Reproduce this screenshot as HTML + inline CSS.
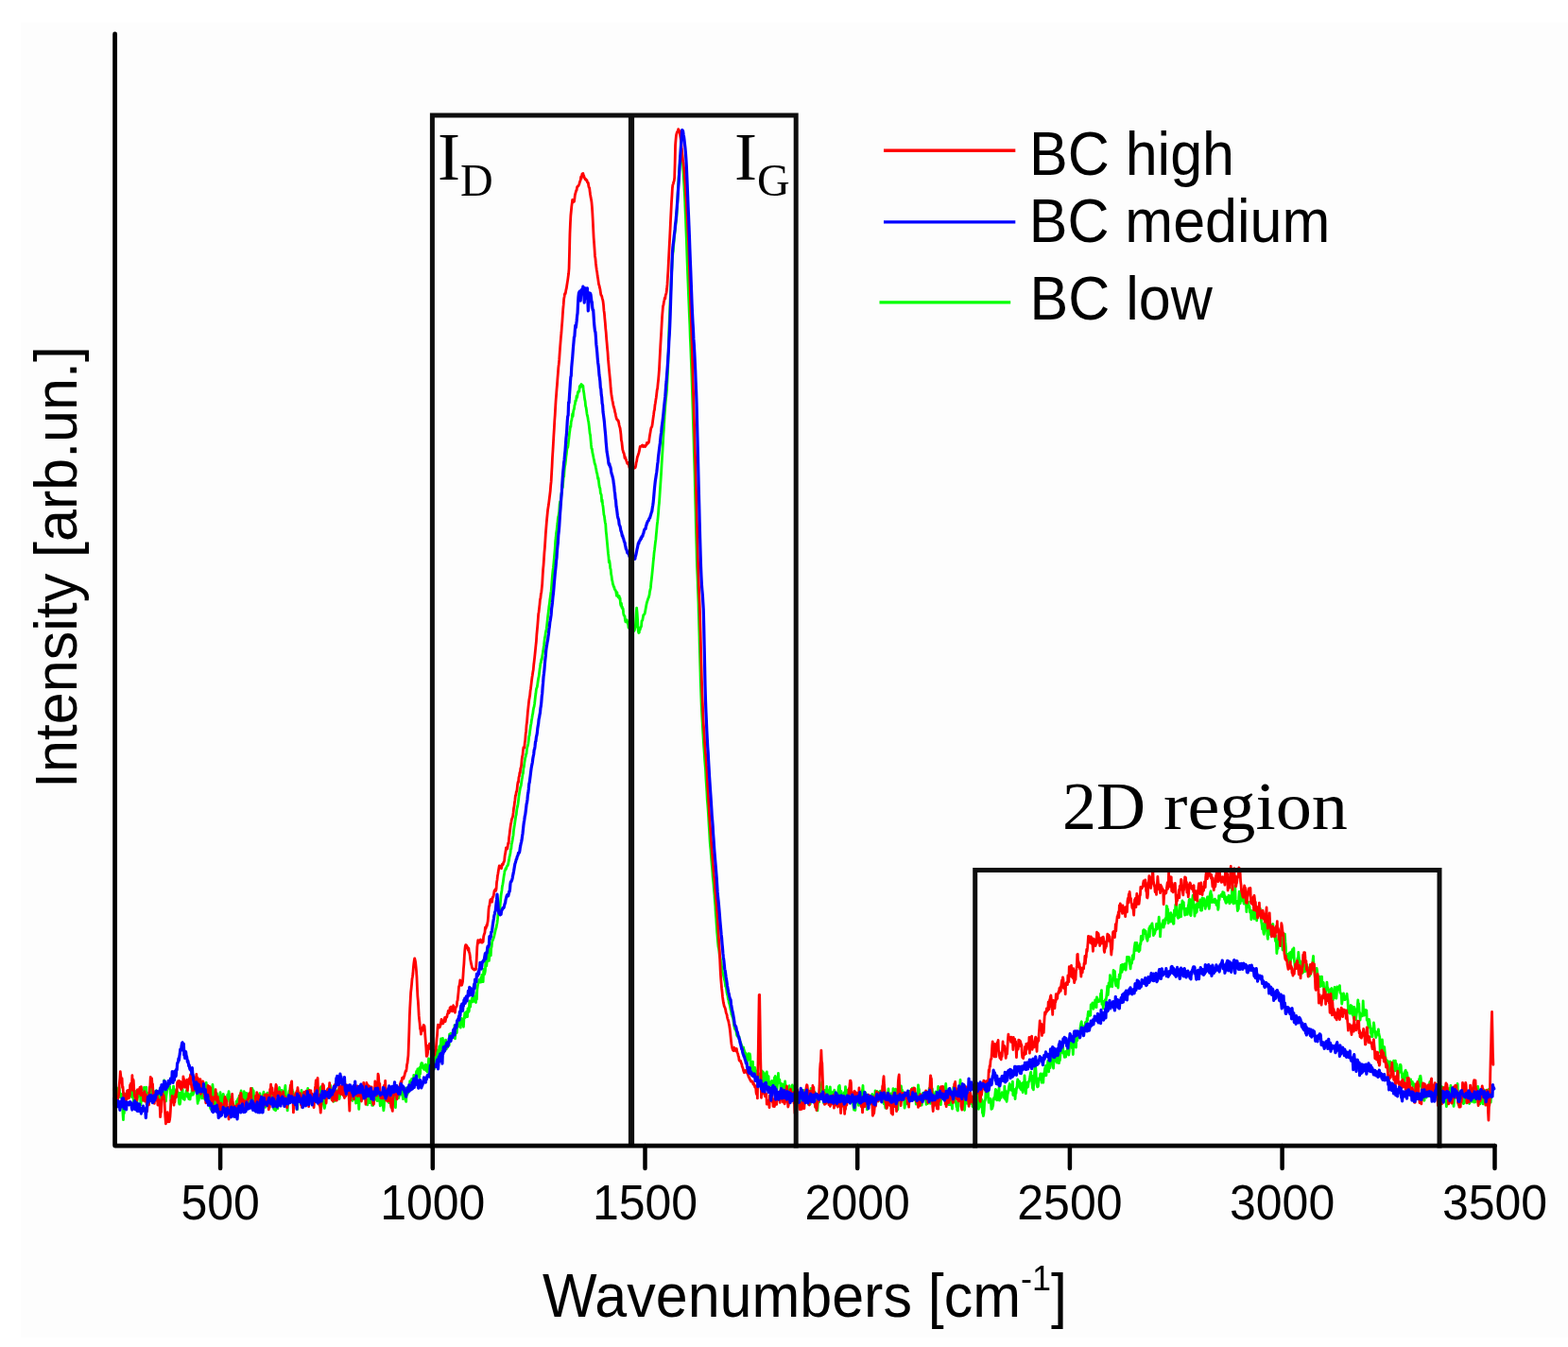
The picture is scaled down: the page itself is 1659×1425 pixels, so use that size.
<!DOCTYPE html>
<html><head><meta charset="utf-8"><title>Raman spectra</title><style>
html,body{margin:0;padding:0;background:#fff;}
body{width:1659px;height:1425px;overflow:hidden;position:relative;}
svg{position:absolute;left:0;top:0;display:block;}
</style></head><body>
<svg width="1659" height="1425" viewBox="0 0 1659 1425">
<rect x="0" y="0" width="1659" height="1425" fill="#ffffff"/>
<rect x="22" y="24" width="1637" height="1391" fill="#fdfdfd"/>
<g fill="none" stroke-linejoin="round" stroke-linecap="round">
<path d="M121.00 1168.1 L121.45 1164.1 L121.90 1161.1 L122.35 1159.3 L122.80 1163.4 L123.25 1156.5 L123.70 1151.5 L124.15 1158.8 L124.60 1154.4 L125.05 1161.0 L125.50 1152.6 L125.95 1150.2 L126.40 1152.2 L126.85 1160.5 L127.30 1157.8 L127.75 1157.5 L128.20 1158.0 L128.65 1157.5 L129.10 1161.4 L129.55 1167.9 L130.00 1178.3 L130.45 1184.7 L130.90 1168.4 L131.35 1177.8 L131.80 1164.5 L132.25 1165.5 L132.70 1157.7 L133.15 1160.3 L133.60 1158.9 L134.05 1158.6 L134.50 1161.0 L134.95 1160.3 L135.40 1154.4 L135.85 1156.7 L136.30 1158.8 L136.75 1158.0 L137.20 1153.8 L137.65 1153.2 L138.10 1152.9 L138.55 1149.5 L139.00 1149.8 L139.45 1160.5 L139.90 1154.7 L140.35 1157.6 L140.80 1156.0 L141.25 1164.2 L141.70 1166.5 L142.15 1158.6 L142.60 1159.9 L143.05 1154.4 L143.50 1163.7 L143.95 1162.7 L144.40 1158.4 L144.85 1166.9 L145.30 1162.1 L145.75 1160.4 L146.20 1158.4 L146.65 1154.2 L147.10 1155.0 L147.55 1159.2 L148.00 1157.3 L148.45 1156.6 L148.90 1169.0 L149.35 1163.8 L149.80 1163.2 L150.25 1161.2 L150.70 1164.3 L151.15 1163.7 L151.60 1159.6 L152.05 1160.1 L152.50 1150.4 L152.95 1153.3 L153.40 1153.5 L153.85 1155.6 L154.30 1157.8 L154.75 1150.2 L155.20 1168.8 L155.65 1156.4 L156.10 1161.9 L156.55 1165.7 L157.00 1167.9 L157.45 1168.0 L157.90 1155.7 L158.35 1158.5 L158.80 1161.3 L159.25 1152.6 L159.70 1152.1 L160.15 1147.8 L160.60 1159.9 L161.05 1158.6 L161.50 1155.8 L161.95 1160.3 L162.40 1162.3 L162.85 1155.9 L163.30 1155.9 L163.75 1154.7 L164.20 1154.5 L164.65 1157.8 L165.10 1154.6 L165.55 1153.8 L166.00 1158.5 L166.45 1156.8 L166.90 1156.5 L167.35 1165.7 L167.80 1160.0 L168.25 1161.3 L168.70 1162.6 L169.15 1155.9 L169.60 1161.1 L170.05 1159.7 L170.50 1157.4 L170.95 1160.0 L171.40 1157.0 L171.85 1153.0 L172.30 1156.2 L172.75 1148.6 L173.20 1149.2 L173.65 1143.0 L174.10 1146.3 L174.55 1154.2 L175.00 1164.6 L175.45 1164.9 L175.90 1159.2 L176.35 1156.3 L176.80 1150.8 L177.25 1150.2 L177.70 1151.5 L178.15 1148.0 L178.60 1150.2 L179.05 1148.4 L179.50 1149.5 L179.95 1152.5 L180.40 1157.7 L180.85 1164.3 L181.30 1164.5 L181.75 1156.9 L182.20 1153.3 L182.65 1159.5 L183.10 1156.6 L183.55 1149.2 L184.00 1156.4 L184.45 1152.5 L184.90 1156.0 L185.35 1154.4 L185.80 1157.9 L186.25 1157.7 L186.70 1153.9 L187.15 1156.2 L187.60 1154.6 L188.05 1159.8 L188.50 1155.9 L188.95 1156.3 L189.40 1166.1 L189.85 1168.2 L190.30 1168.1 L190.75 1165.9 L191.20 1156.1 L191.65 1157.9 L192.10 1157.6 L192.55 1158.5 L193.00 1151.4 L193.45 1160.1 L193.90 1162.5 L194.35 1159.8 L194.80 1161.8 L195.25 1163.4 L195.70 1157.4 L196.15 1159.1 L196.60 1157.9 L197.05 1154.7 L197.50 1153.5 L197.95 1152.5 L198.40 1160.3 L198.85 1156.8 L199.30 1157.9 L199.75 1162.7 L200.20 1157.8 L200.65 1161.7 L201.10 1163.0 L201.55 1158.5 L202.00 1157.3 L202.45 1158.9 L202.90 1157.4 L203.35 1148.8 L203.80 1148.7 L204.25 1158.1 L204.70 1156.5 L205.15 1149.7 L205.60 1153.7 L206.05 1154.2 L206.50 1146.5 L206.95 1147.2 L207.40 1145.7 L207.85 1152.1 L208.30 1151.4 L208.75 1162.4 L209.20 1167.3 L209.65 1157.6 L210.10 1164.5 L210.55 1162.0 L211.00 1157.6 L211.45 1151.9 L211.90 1145.0 L212.35 1147.3 L212.80 1155.7 L213.25 1159.2 L213.70 1161.9 L214.15 1159.5 L214.60 1157.9 L215.05 1151.9 L215.50 1150.7 L215.95 1158.4 L216.40 1162.3 L216.85 1163.0 L217.30 1153.4 L217.75 1152.7 L218.20 1145.3 L218.65 1150.1 L219.10 1148.0 L219.55 1153.0 L220.00 1156.6 L220.45 1158.8 L220.90 1165.7 L221.35 1160.1 L221.80 1158.3 L222.25 1169.9 L222.70 1172.4 L223.15 1173.4 L223.60 1165.2 L224.05 1161.1 L224.50 1154.7 L224.95 1147.5 L225.40 1152.7 L225.85 1159.1 L226.30 1158.2 L226.75 1168.3 L227.20 1158.0 L227.65 1163.2 L228.10 1169.2 L228.55 1162.0 L229.00 1158.8 L229.45 1156.6 L229.90 1160.5 L230.35 1171.6 L230.80 1171.3 L231.25 1174.2 L231.70 1166.3 L232.15 1166.6 L232.60 1159.8 L233.05 1155.7 L233.50 1159.7 L233.95 1164.4 L234.40 1170.1 L234.85 1163.7 L235.30 1163.4 L235.75 1166.4 L236.20 1157.3 L236.65 1159.6 L237.10 1171.0 L237.55 1173.0 L238.00 1169.6 L238.45 1168.6 L238.90 1164.4 L239.35 1165.6 L239.80 1162.1 L240.25 1165.4 L240.70 1158.2 L241.15 1157.7 L241.60 1158.7 L242.05 1154.6 L242.50 1158.2 L242.95 1160.9 L243.40 1164.5 L243.85 1172.4 L244.30 1170.7 L244.75 1165.7 L245.20 1165.7 L245.65 1165.6 L246.10 1166.7 L246.55 1168.6 L247.00 1171.4 L247.45 1170.5 L247.90 1175.3 L248.35 1174.2 L248.80 1169.8 L249.25 1174.8 L249.70 1172.0 L250.15 1165.2 L250.60 1166.5 L251.05 1167.6 L251.50 1163.1 L251.95 1164.2 L252.40 1161.7 L252.85 1162.5 L253.30 1158.8 L253.75 1161.0 L254.20 1158.5 L254.65 1162.0 L255.10 1154.0 L255.55 1163.5 L256.00 1170.0 L256.45 1171.1 L256.90 1170.7 L257.35 1168.2 L257.80 1159.1 L258.25 1154.7 L258.70 1155.8 L259.15 1157.8 L259.60 1163.0 L260.05 1157.9 L260.50 1164.7 L260.95 1156.4 L261.40 1159.5 L261.85 1162.7 L262.30 1167.6 L262.75 1162.4 L263.20 1158.0 L263.65 1167.3 L264.10 1166.3 L264.55 1163.2 L265.00 1162.4 L265.45 1160.7 L265.90 1160.5 L266.35 1159.6 L266.80 1151.3 L267.25 1163.3 L267.70 1154.6 L268.15 1153.8 L268.60 1160.0 L269.05 1160.8 L269.50 1171.0 L269.95 1168.8 L270.40 1165.6 L270.85 1167.4 L271.30 1168.3 L271.75 1168.1 L272.20 1170.8 L272.65 1165.5 L273.10 1172.3 L273.55 1165.7 L274.00 1164.6 L274.45 1167.4 L274.90 1156.6 L275.35 1159.2 L275.80 1163.5 L276.25 1161.6 L276.70 1162.5 L277.15 1164.7 L277.60 1162.2 L278.05 1162.8 L278.50 1157.8 L278.95 1155.2 L279.40 1166.1 L279.85 1160.2 L280.30 1162.5 L280.75 1171.3 L281.20 1168.0 L281.65 1160.1 L282.10 1157.5 L282.55 1157.7 L283.00 1156.2 L283.45 1162.6 L283.90 1162.7 L284.35 1162.6 L284.80 1164.2 L285.25 1163.7 L285.70 1167.4 L286.15 1167.2 L286.60 1157.2 L287.05 1167.0 L287.50 1160.1 L287.95 1158.5 L288.40 1165.2 L288.85 1160.3 L289.30 1165.2 L289.75 1173.5 L290.20 1171.2 L290.65 1171.0 L291.10 1173.5 L291.55 1174.8 L292.00 1170.8 L292.45 1163.7 L292.90 1166.7 L293.35 1168.3 L293.80 1172.9 L294.25 1163.9 L294.70 1158.2 L295.15 1153.8 L295.60 1150.4 L296.05 1155.7 L296.50 1158.3 L296.95 1154.9 L297.40 1157.8 L297.85 1159.3 L298.30 1153.3 L298.75 1160.9 L299.20 1162.5 L299.65 1165.2 L300.10 1159.5 L300.55 1158.1 L301.00 1158.3 L301.45 1151.6 L301.90 1148.4 L302.35 1157.2 L302.80 1166.6 L303.25 1166.2 L303.70 1167.6 L304.15 1174.9 L304.60 1165.8 L305.05 1163.5 L305.50 1156.7 L305.95 1154.2 L306.40 1157.8 L306.85 1152.7 L307.30 1149.7 L307.75 1151.0 L308.20 1154.6 L308.65 1157.4 L309.10 1152.6 L309.55 1157.8 L310.00 1154.9 L310.45 1159.0 L310.90 1160.9 L311.35 1162.4 L311.80 1159.7 L312.25 1161.5 L312.70 1164.7 L313.15 1160.5 L313.60 1167.7 L314.05 1171.0 L314.50 1173.7 L314.95 1166.5 L315.40 1162.5 L315.85 1160.1 L316.30 1157.0 L316.75 1160.2 L317.20 1163.8 L317.65 1164.6 L318.10 1159.1 L318.55 1160.6 L319.00 1153.5 L319.45 1164.4 L319.90 1162.3 L320.35 1167.4 L320.80 1165.4 L321.25 1167.2 L321.70 1167.4 L322.15 1167.6 L322.60 1159.2 L323.05 1167.7 L323.50 1165.2 L323.95 1164.1 L324.40 1165.0 L324.85 1158.6 L325.30 1154.8 L325.75 1151.3 L326.20 1155.8 L326.65 1156.5 L327.10 1157.2 L327.55 1154.1 L328.00 1154.6 L328.45 1156.7 L328.90 1159.8 L329.35 1158.9 L329.80 1167.4 L330.25 1166.2 L330.70 1162.8 L331.15 1167.3 L331.60 1160.6 L332.05 1163.9 L332.50 1164.6 L332.95 1158.4 L333.40 1157.7 L333.85 1165.5 L334.30 1157.7 L334.75 1157.6 L335.20 1159.1 L335.65 1157.6 L336.10 1159.0 L336.55 1162.1 L337.00 1152.6 L337.45 1163.7 L337.90 1153.4 L338.35 1151.5 L338.80 1156.5 L339.25 1154.4 L339.70 1149.7 L340.15 1155.1 L340.60 1152.7 L341.05 1156.4 L341.50 1155.9 L341.95 1161.1 L342.40 1168.3 L342.85 1170.4 L343.30 1172.5 L343.75 1170.4 L344.20 1162.9 L344.65 1156.5 L345.10 1156.1 L345.55 1162.2 L346.00 1156.2 L346.45 1156.6 L346.90 1154.2 L347.35 1154.4 L347.80 1154.1 L348.25 1152.0 L348.70 1151.3 L349.15 1148.9 L349.60 1148.4 L350.05 1155.5 L350.50 1159.6 L350.95 1163.0 L351.40 1161.9 L351.85 1159.4 L352.30 1164.9 L352.75 1165.3 L353.20 1157.0 L353.65 1163.5 L354.10 1161.5 L354.55 1164.4 L355.00 1155.4 L355.45 1155.4 L355.90 1162.9 L356.35 1154.0 L356.80 1157.3 L357.25 1155.7 L357.70 1155.7 L358.15 1152.7 L358.60 1158.4 L359.05 1162.5 L359.50 1159.0 L359.95 1156.4 L360.40 1151.1 L360.85 1155.1 L361.30 1153.6 L361.75 1157.1 L362.20 1149.9 L362.65 1157.6 L363.10 1153.4 L363.55 1159.3 L364.00 1159.7 L364.45 1153.8 L364.90 1156.8 L365.35 1158.8 L365.80 1156.0 L366.25 1156.8 L366.70 1152.3 L367.15 1153.4 L367.60 1151.5 L368.05 1155.2 L368.50 1158.2 L368.95 1155.6 L369.40 1154.8 L369.85 1151.8 L370.30 1157.8 L370.75 1157.1 L371.20 1153.3 L371.65 1155.8 L372.10 1161.5 L372.55 1157.6 L373.00 1164.3 L373.45 1156.8 L373.90 1152.8 L374.35 1155.1 L374.80 1162.5 L375.25 1154.4 L375.70 1161.7 L376.15 1162.1 L376.60 1167.1 L377.05 1164.4 L377.50 1161.0 L377.95 1163.9 L378.40 1162.1 L378.85 1166.8 L379.30 1164.9 L379.75 1173.4 L380.20 1164.7 L380.65 1160.6 L381.10 1151.0 L381.55 1147.8 L382.00 1150.8 L382.45 1155.9 L382.90 1163.0 L383.35 1160.5 L383.80 1157.3 L384.25 1161.9 L384.70 1155.0 L385.15 1154.0 L385.60 1161.2 L386.05 1160.8 L386.50 1150.2 L386.95 1159.0 L387.40 1164.0 L387.85 1165.3 L388.30 1161.4 L388.75 1168.8 L389.20 1161.2 L389.65 1163.4 L390.10 1164.5 L390.55 1164.0 L391.00 1166.7 L391.45 1166.6 L391.90 1161.6 L392.35 1165.1 L392.80 1156.7 L393.25 1160.6 L393.70 1169.4 L394.15 1166.2 L394.60 1169.4 L395.05 1161.4 L395.50 1159.0 L395.95 1156.6 L396.40 1157.4 L396.85 1155.9 L397.30 1157.3 L397.75 1160.1 L398.20 1163.4 L398.65 1161.2 L399.10 1164.5 L399.55 1164.0 L400.00 1155.2 L400.45 1151.4 L400.90 1161.5 L401.35 1164.7 L401.80 1164.7 L402.25 1169.9 L402.70 1165.7 L403.15 1162.5 L403.60 1166.4 L404.05 1159.0 L404.50 1168.9 L404.95 1165.3 L405.40 1170.4 L405.85 1174.8 L406.30 1171.2 L406.75 1160.5 L407.20 1161.6 L407.65 1153.9 L408.10 1154.9 L408.55 1157.6 L409.00 1161.1 L409.45 1155.3 L409.90 1159.9 L410.35 1159.3 L410.80 1155.5 L411.25 1160.2 L411.70 1166.7 L412.15 1161.2 L412.60 1161.1 L413.05 1160.2 L413.50 1152.8 L413.95 1160.2 L414.40 1162.6 L414.85 1164.4 L415.30 1164.5 L415.75 1157.9 L416.20 1156.8 L416.65 1155.5 L417.10 1156.6 L417.55 1159.5 L418.00 1168.1 L418.45 1171.6 L418.90 1160.9 L419.35 1162.3 L419.80 1151.7 L420.25 1155.8 L420.70 1155.0 L421.15 1154.5 L421.60 1161.8 L422.05 1160.6 L422.50 1157.7 L422.95 1156.1 L423.40 1153.8 L423.85 1156.7 L424.30 1155.1 L424.75 1157.9 L425.20 1153.4 L425.65 1158.7 L426.10 1160.1 L426.55 1162.7 L427.00 1161.8 L427.45 1158.5 L427.90 1155.2 L428.35 1151.9 L428.80 1158.9 L429.25 1164.3 L429.70 1165.4 L430.15 1151.0 L430.60 1156.8 L431.05 1157.7 L431.50 1153.8 L431.95 1155.9 L432.40 1153.3 L432.85 1149.3 L433.30 1150.0 L433.75 1143.7 L434.20 1144.8 L434.65 1144.5 L435.10 1150.3 L435.55 1141.5 L436.00 1146.3 L436.45 1147.7 L436.90 1142.9 L437.35 1143.8 L437.80 1137.4 L438.25 1140.2 L438.70 1141.0 L439.15 1144.7 L439.60 1138.5 L440.05 1139.7 L440.50 1133.9 L440.95 1132.9 L441.40 1136.1 L441.85 1131.0 L442.30 1132.2 L442.75 1130.7 L443.20 1137.1 L443.65 1139.7 L444.10 1129.5 L444.55 1136.1 L445.00 1128.7 L445.45 1126.4 L445.90 1124.7 L446.35 1129.3 L446.80 1124.9 L447.25 1127.8 L447.70 1127.0 L448.15 1129.9 L448.60 1131.4 L449.05 1131.1 L449.50 1131.0 L449.95 1128.9 L450.40 1126.1 L450.85 1132.7 L451.30 1131.1 L451.75 1131.0 L452.20 1134.0 L452.65 1128.1 L453.10 1127.5 L453.55 1119.8 L454.00 1130.3 L454.45 1129.1 L454.90 1127.5 L455.35 1131.3 L455.80 1125.1 L456.25 1125.4 L456.70 1132.4 L457.15 1127.7 L457.60 1127.9 L458.05 1126.9 L458.50 1126.2 L458.95 1124.2 L459.40 1130.9 L459.85 1122.3 L460.30 1124.3 L460.75 1120.1 L461.20 1118.6 L461.65 1110.5 L462.10 1111.4 L462.55 1122.2 L463.00 1121.1 L463.45 1113.3 L463.90 1113.2 L464.35 1113.9 L464.80 1107.0 L465.25 1116.0 L465.70 1106.2 L466.15 1107.0 L466.60 1098.8 L467.05 1110.9 L467.50 1103.5 L467.95 1106.5 L468.40 1098.3 L468.85 1104.0 L469.30 1104.4 L469.75 1105.2 L470.20 1110.2 L470.65 1109.6 L471.10 1105.3 L471.55 1100.2 L472.00 1106.3 L472.45 1109.5 L472.90 1108.1 L473.35 1108.0 L473.80 1107.5 L474.25 1102.7 L474.70 1104.5 L475.15 1106.0 L475.60 1094.1 L476.05 1095.1 L476.50 1099.2 L476.95 1093.1 L477.40 1098.8 L477.85 1093.7 L478.30 1096.8 L478.75 1093.4 L479.20 1094.4 L479.65 1094.4 L480.10 1093.8 L480.55 1092.6 L481.00 1084.6 L481.45 1098.8 L481.90 1093.1 L482.35 1090.9 L482.80 1091.1 L483.25 1092.6 L483.70 1086.5 L484.15 1086.7 L484.60 1084.5 L485.05 1085.9 L485.50 1079.5 L485.95 1083.5 L486.40 1083.6 L486.85 1082.3 L487.30 1087.2 L487.75 1082.3 L488.20 1077.5 L488.65 1081.8 L489.10 1080.6 L489.55 1079.4 L490.00 1079.8 L490.45 1086.3 L490.90 1077.2 L491.35 1076.0 L491.80 1071.6 L492.25 1076.5 L492.70 1072.7 L493.15 1071.0 L493.60 1070.3 L494.05 1075.6 L494.50 1075.6 L494.95 1067.0 L495.40 1068.4 L495.85 1070.6 L496.30 1069.4 L496.75 1058.9 L497.20 1061.4 L497.65 1065.1 L498.10 1059.9 L498.55 1059.7 L499.00 1058.9 L499.45 1055.8 L499.90 1059.9 L500.35 1059.6 L500.80 1052.3 L501.25 1055.9 L501.70 1058.4 L502.15 1056.2 L502.60 1059.6 L503.05 1055.3 L503.50 1060.5 L503.95 1050.7 L504.40 1057.2 L504.85 1046.8 L505.30 1043.6 L505.75 1040.8 L506.20 1040.1 L506.65 1038.2 L507.10 1036.5 L507.55 1036.7 L508.00 1039.0 L508.45 1039.1 L508.90 1034.2 L509.35 1038.9 L509.80 1031.3 L510.25 1031.8 L510.70 1032.2 L511.15 1038.7 L511.60 1028.3 L512.05 1025.3 L512.50 1030.9 L512.95 1029.6 L513.40 1027.1 L513.85 1016.3 L514.30 1020.2 L514.75 1021.8 L515.20 1018.1 L515.65 1011.1 L516.10 1014.0 L516.55 1007.4 L517.00 1006.9 L517.45 1016.4 L517.90 1010.9 L518.35 1004.0 L518.80 1004.3 L519.25 1010.9 L519.70 1003.2 L520.15 1001.6 L520.60 996.7 L521.05 994.9 L521.50 994.6 L521.95 993.1 L522.40 991.9 L522.85 990.1 L523.30 988.1 L523.75 986.1 L524.20 984.1 L524.65 982.5 L525.10 981.2 L525.55 978.5 L526.00 976.5 L526.45 972.9 L526.90 967.6 L527.35 964.3 L527.80 964.5 L528.25 963.5 L528.70 962.4 L529.15 958.1 L529.60 952.8 L530.05 947.6 L530.50 944.4 L530.95 941.9 L531.40 937.6 L531.85 935.8 L532.30 933.1 L532.75 929.6 L533.20 926.4 L533.65 923.9 L534.10 921.0 L534.55 920.6 L535.00 918.8 L535.45 919.4 L535.90 917.9 L536.35 916.4 L536.80 915.9 L537.25 915.7 L537.70 914.2 L538.15 911.6 L538.60 909.6 L539.05 906.4 L539.50 904.8 L539.95 902.5 L540.40 898.4 L540.85 897.8 L541.30 892.8 L541.75 891.3 L542.20 888.7 L542.65 885.7 L543.10 883.4 L543.55 878.0 L544.00 875.2 L544.45 872.5 L544.90 869.3 L545.35 866.2 L545.80 863.1 L546.25 861.7 L546.70 857.3 L547.15 854.6 L547.60 853.0 L548.05 850.4 L548.50 846.8 L548.95 842.6 L549.40 839.6 L549.85 836.9 L550.30 834.3 L550.75 832.4 L551.20 831.2 L551.65 828.0 L552.10 824.8 L552.55 822.4 L553.00 819.4 L553.45 818.0 L553.90 812.8 L554.35 811.4 L554.80 807.3 L555.25 804.8 L555.70 801.6 L556.15 800.7 L556.60 797.7 L557.05 797.4 L557.50 792.4 L557.95 790.1 L558.40 789.0 L558.85 786.7 L559.30 783.6 L559.75 779.0 L560.20 777.9 L560.65 773.8 L561.10 770.7 L561.55 767.3 L562.00 765.5 L562.45 761.9 L562.90 759.5 L563.35 756.5 L563.80 754.7 L564.25 751.0 L564.70 748.7 L565.15 747.4 L565.60 744.4 L566.05 740.3 L566.50 736.3 L566.95 733.3 L567.40 729.1 L567.85 727.8 L568.30 726.8 L568.75 723.6 L569.20 720.3 L569.65 717.4 L570.10 715.8 L570.55 712.0 L571.00 708.3 L571.45 705.4 L571.90 701.8 L572.35 701.0 L572.80 697.5 L573.25 697.8 L573.70 694.1 L574.15 691.7 L574.60 689.1 L575.05 685.8 L575.50 683.0 L575.95 678.7 L576.40 674.6 L576.85 672.9 L577.30 669.2 L577.75 667.2 L578.20 665.5 L578.65 661.3 L579.10 657.1 L579.55 652.7 L580.00 649.1 L580.45 645.8 L580.90 641.2 L581.35 638.8 L581.80 634.3 L582.25 631.8 L582.70 627.8 L583.15 625.2 L583.60 619.9 L584.05 613.9 L584.50 608.4 L584.95 603.7 L585.40 600.4 L585.85 596.0 L586.30 591.0 L586.75 585.6 L587.20 580.6 L587.65 572.7 L588.10 569.0 L588.55 563.8 L589.00 561.6 L589.45 556.9 L589.90 553.5 L590.35 548.4 L590.80 546.4 L591.25 543.9 L591.70 541.3 L592.15 533.4 L592.60 530.7 L593.05 533.7 L593.50 526.9 L593.95 522.8 L594.40 520.7 L594.85 513.1 L595.30 515.9 L595.75 510.5 L596.20 504.7 L596.65 504.3 L597.10 497.7 L597.55 493.1 L598.00 491.6 L598.45 487.8 L598.90 483.1 L599.35 480.3 L599.80 475.7 L600.25 472.8 L600.70 473.4 L601.15 470.7 L601.60 466.1 L602.05 462.7 L602.50 458.3 L602.95 455.4 L603.40 451.1 L603.85 451.7 L604.30 445.7 L604.75 444.8 L605.20 441.9 L605.65 437.8 L606.10 440.6 L606.55 435.7 L607.00 433.5 L607.45 432.7 L607.90 428.9 L608.35 427.8 L608.80 423.9 L609.25 424.5 L609.70 422.3 L610.15 418.8 L610.60 420.6 L611.05 417.8 L611.50 414.6 L611.95 415.3 L612.40 413.6 L612.85 413.9 L613.30 408.6 L613.75 409.8 L614.20 407.6 L614.65 408.0 L615.10 406.5 L615.55 407.3 L616.00 409.0 L616.45 407.8 L616.90 408.3 L617.35 413.5 L617.80 415.5 L618.25 419.1 L618.70 422.7 L619.15 424.5 L619.60 429.6 L620.05 430.9 L620.50 433.8 L620.95 437.4 L621.40 439.7 L621.85 441.4 L622.30 444.5 L622.75 446.5 L623.20 450.1 L623.65 454.3 L624.10 458.6 L624.55 460.2 L625.00 465.5 L625.45 470.7 L625.90 474.5 L626.35 474.7 L626.80 478.7 L627.25 480.4 L627.70 482.8 L628.15 485.1 L628.60 487.0 L629.05 489.7 L629.50 491.0 L629.95 492.3 L630.40 494.8 L630.85 496.9 L631.30 499.8 L631.75 500.7 L632.20 503.4 L632.65 506.5 L633.10 505.8 L633.55 509.6 L634.00 513.6 L634.45 515.7 L634.90 516.6 L635.35 521.7 L635.80 522.6 L636.25 523.8 L636.70 530.6 L637.15 528.9 L637.60 533.4 L638.05 535.9 L638.50 540.4 L638.95 544.6 L639.40 545.9 L639.85 549.8 L640.30 552.7 L640.75 554.6 L641.20 562.1 L641.65 565.9 L642.10 570.9 L642.55 575.7 L643.00 580.5 L643.45 585.4 L643.90 588.7 L644.35 595.0 L644.80 593.1 L645.25 596.4 L645.70 601.4 L646.15 602.2 L646.60 607.5 L647.05 609.4 L647.50 613.3 L647.95 614.9 L648.40 617.8 L648.85 618.9 L649.30 620.7 L649.75 620.9 L650.20 622.9 L650.65 623.8 L651.10 624.3 L651.55 625.3 L652.00 627.3 L652.45 630.2 L652.90 626.7 L653.35 630.7 L653.80 629.8 L654.25 632.1 L654.70 631.6 L655.15 630.5 L655.60 633.6 L656.05 632.8 L656.50 638.7 L656.95 640.8 L657.40 638.1 L657.85 642.6 L658.30 641.9 L658.75 644.1 L659.20 644.0 L659.65 649.0 L660.10 650.9 L660.55 651.5 L661.00 652.0 L661.45 656.0 L661.90 657.8 L662.35 656.9 L662.80 657.9 L663.25 655.9 L663.70 658.1 L664.15 659.6 L664.60 660.3 L665.05 664.2 L665.50 660.0 L665.95 657.9 L666.40 659.1 L666.85 657.0 L667.30 659.7 L667.75 661.0 L668.20 660.0 L668.65 661.3 L669.10 661.6 L669.55 664.4 L670.00 663.9 L670.45 667.9 L670.90 667.0 L671.35 666.6 L671.80 664.5 L672.25 663.5 L672.70 656.6 L673.15 649.6 L673.60 643.2 L674.05 647.4 L674.50 653.6 L674.95 663.9 L675.40 668.0 L675.85 669.5 L676.30 669.0 L676.75 664.1 L677.20 666.2 L677.65 663.9 L678.10 663.6 L678.55 662.4 L679.00 656.8 L679.45 656.7 L679.90 655.6 L680.35 653.1 L680.80 650.6 L681.25 650.6 L681.70 649.6 L682.15 649.3 L682.60 646.9 L683.05 644.4 L683.50 641.9 L683.95 639.6 L684.40 637.5 L684.85 636.1 L685.30 634.8 L685.75 633.1 L686.20 632.5 L686.65 631.0 L687.10 629.1 L687.55 625.5 L688.00 623.9 L688.45 621.4 L688.90 616.2 L689.35 612.7 L689.80 608.6 L690.25 604.0 L690.70 599.6 L691.15 594.3 L691.60 590.5 L692.05 585.0 L692.50 581.9 L692.95 577.9 L693.40 573.8 L693.85 570.9 L694.30 565.4 L694.75 561.0 L695.20 555.5 L695.65 552.0 L696.10 547.6 L696.55 542.6 L697.00 536.2 L697.45 532.0 L697.90 525.6 L698.35 518.4 L698.80 512.2 L699.25 505.4 L699.70 498.3 L700.15 490.0 L700.60 483.2 L701.05 476.0 L701.50 468.0 L701.95 459.4 L702.40 453.1 L702.85 444.4 L703.30 436.9 L703.75 431.4 L704.20 425.1 L704.65 421.2 L705.10 416.8 L705.55 412.0 L706.00 402.6 L706.45 394.8 L706.90 383.5 L707.35 366.6 L707.80 351.4 L708.25 340.3 L708.70 328.5 L709.15 318.2 L709.60 309.0 L710.05 299.6 L710.50 289.4 L710.95 282.9 L711.40 273.4 L711.85 268.1 L712.30 265.4 L712.75 258.3 L713.20 254.4 L713.65 248.8 L714.10 245.0 L714.55 240.6 L715.00 236.6 L715.45 232.8 L715.90 228.4 L716.35 221.1 L716.80 213.4 L717.25 203.0 L717.70 195.5 L718.15 187.6 L718.60 181.9 L719.05 176.1 L719.50 171.5 L719.95 167.8 L720.40 163.4 L720.85 160.7 L721.30 160.5 L721.75 163.9 L722.20 169.5 L722.65 176.3 L723.10 183.1 L723.55 191.3 L724.00 199.7 L724.45 207.2 L724.90 218.5 L725.35 228.8 L725.80 240.5 L726.25 251.4 L726.70 264.8 L727.15 277.9 L727.60 290.0 L728.05 300.8 L728.50 312.5 L728.95 323.0 L729.40 333.9 L729.85 343.8 L730.30 357.6 L730.75 367.5 L731.20 379.5 L731.65 390.5 L732.10 403.7 L732.55 417.9 L733.00 432.1 L733.45 447.7 L733.90 462.2 L734.35 479.3 L734.80 492.6 L735.25 510.1 L735.70 529.3 L736.15 547.4 L736.60 566.2 L737.05 582.7 L737.50 599.8 L737.95 609.8 L738.40 622.1 L738.85 634.3 L739.30 649.1 L739.75 665.9 L740.20 681.6 L740.65 698.5 L741.10 715.1 L741.55 728.8 L742.00 742.3 L742.45 751.1 L742.90 760.3 L743.35 767.5 L743.80 776.1 L744.25 783.0 L744.70 790.4 L745.15 796.1 L745.60 803.9 L746.05 809.2 L746.50 814.6 L746.95 824.1 L747.40 830.6 L747.85 837.4 L748.30 846.7 L748.75 851.7 L749.20 857.5 L749.65 864.7 L750.10 872.9 L750.55 879.9 L751.00 888.2 L751.45 894.5 L751.90 898.9 L752.35 905.0 L752.80 910.8 L753.25 915.6 L753.70 920.9 L754.15 927.2 L754.60 932.2 L755.05 936.1 L755.50 941.9 L755.95 947.2 L756.40 953.4 L756.85 959.2 L757.30 967.2 L757.75 972.3 L758.20 979.1 L758.65 986.6 L759.10 991.0 L759.55 996.7 L760.00 1001.6 L760.45 1003.3 L760.90 1006.4 L761.35 1010.3 L761.80 1012.1 L762.25 1014.0 L762.70 1016.8 L763.15 1019.2 L763.60 1022.8 L764.05 1025.2 L764.50 1029.2 L764.95 1030.0 L765.40 1031.5 L765.85 1033.8 L766.30 1036.1 L766.75 1037.2 L767.20 1039.7 L767.65 1043.5 L768.10 1043.6 L768.55 1046.3 L769.00 1049.7 L769.45 1052.3 L769.90 1052.8 L770.35 1056.8 L770.80 1057.4 L771.25 1060.7 L771.70 1061.8 L772.15 1063.2 L772.60 1066.0 L773.05 1068.1 L773.50 1069.4 L773.95 1073.2 L774.40 1073.0 L774.85 1075.6 L775.30 1076.2 L775.75 1078.1 L776.20 1081.3 L776.65 1084.6 L777.10 1086.9 L777.55 1088.8 L778.00 1088.7 L778.45 1089.6 L778.90 1090.9 L779.35 1093.7 L779.80 1095.8 L780.25 1094.8 L780.70 1097.0 L781.15 1096.7 L781.60 1097.2 L782.05 1097.0 L782.50 1099.7 L782.95 1101.7 L783.40 1102.3 L783.85 1103.8 L784.30 1104.8 L784.75 1106.9 L785.20 1107.4 L785.65 1108.5 L786.10 1107.8 L786.55 1107.8 L787.00 1110.3 L787.45 1111.4 L787.90 1112.8 L788.35 1114.2 L788.80 1113.9 L789.25 1115.8 L789.70 1115.4 L790.15 1120.3 L790.60 1122.7 L791.05 1120.5 L791.50 1121.1 L791.95 1114.7 L792.40 1116.2 L792.85 1118.3 L793.30 1115.0 L793.75 1117.6 L794.20 1130.1 L794.65 1124.8 L795.10 1123.6 L795.55 1125.5 L796.00 1136.2 L796.45 1123.1 L796.90 1132.6 L797.35 1137.0 L797.80 1133.1 L798.25 1135.7 L798.70 1129.3 L799.15 1131.8 L799.60 1132.5 L800.05 1133.2 L800.50 1134.3 L800.95 1134.7 L801.40 1139.3 L801.85 1135.5 L802.30 1135.3 L802.75 1138.0 L803.20 1139.9 L803.65 1137.6 L804.10 1137.1 L804.55 1136.3 L805.00 1139.0 L805.45 1133.0 L805.90 1132.9 L806.35 1144.0 L806.80 1138.1 L807.25 1133.8 L807.70 1135.0 L808.15 1144.4 L808.60 1139.7 L809.05 1146.8 L809.50 1143.0 L809.95 1144.2 L810.40 1135.4 L810.85 1142.0 L811.30 1133.9 L811.75 1140.5 L812.20 1146.0 L812.65 1146.0 L813.10 1138.6 L813.55 1148.5 L814.00 1148.6 L814.45 1147.7 L814.90 1146.3 L815.35 1147.6 L815.80 1144.4 L816.25 1147.3 L816.70 1143.5 L817.15 1147.4 L817.60 1149.2 L818.05 1145.6 L818.50 1151.9 L818.95 1154.9 L819.40 1140.0 L819.85 1140.9 L820.30 1138.5 L820.75 1141.9 L821.20 1149.3 L821.65 1154.7 L822.10 1151.0 L822.55 1146.8 L823.00 1145.3 L823.45 1135.5 L823.90 1144.4 L824.35 1143.6 L824.80 1142.2 L825.25 1145.9 L825.70 1146.1 L826.15 1156.1 L826.60 1150.7 L827.05 1146.7 L827.50 1150.2 L827.95 1146.8 L828.40 1147.9 L828.85 1152.9 L829.30 1146.8 L829.75 1147.6 L830.20 1155.6 L830.65 1143.9 L831.10 1150.6 L831.55 1154.8 L832.00 1157.5 L832.45 1161.7 L832.90 1152.9 L833.35 1156.6 L833.80 1153.6 L834.25 1151.8 L834.70 1150.9 L835.15 1148.6 L835.60 1155.0 L836.05 1156.9 L836.50 1152.6 L836.95 1160.7 L837.40 1158.1 L837.85 1156.0 L838.30 1147.9 L838.75 1158.1 L839.20 1154.2 L839.65 1151.3 L840.10 1151.6 L840.55 1149.1 L841.00 1155.6 L841.45 1153.7 L841.90 1155.9 L842.35 1154.7 L842.80 1151.7 L843.25 1154.0 L843.70 1163.5 L844.15 1158.0 L844.60 1164.6 L845.05 1166.5 L845.50 1158.8 L845.95 1165.9 L846.40 1164.3 L846.85 1166.5 L847.30 1162.5 L847.75 1162.6 L848.20 1162.1 L848.65 1165.0 L849.10 1160.5 L849.55 1159.5 L850.00 1153.3 L850.45 1158.9 L850.90 1157.1 L851.35 1160.8 L851.80 1163.6 L852.25 1165.7 L852.70 1162.5 L853.15 1159.2 L853.60 1156.5 L854.05 1163.3 L854.50 1157.6 L854.95 1162.7 L855.40 1168.3 L855.85 1162.8 L856.30 1166.2 L856.75 1166.3 L857.20 1168.1 L857.65 1163.0 L858.10 1151.3 L858.55 1155.8 L859.00 1157.8 L859.45 1160.6 L859.90 1160.1 L860.35 1165.4 L860.80 1162.7 L861.25 1154.9 L861.70 1157.3 L862.15 1155.3 L862.60 1171.2 L863.05 1167.8 L863.50 1169.5 L863.95 1165.9 L864.40 1171.2 L864.85 1174.9 L865.30 1167.8 L865.75 1163.7 L866.20 1158.7 L866.65 1165.9 L867.10 1157.3 L867.55 1154.4 L868.00 1157.8 L868.45 1154.8 L868.90 1152.0 L869.35 1147.9 L869.80 1144.7 L870.25 1151.7 L870.70 1157.6 L871.15 1155.3 L871.60 1167.0 L872.05 1165.7 L872.50 1153.3 L872.95 1157.5 L873.40 1160.6 L873.85 1160.1 L874.30 1159.9 L874.75 1149.3 L875.20 1154.7 L875.65 1159.7 L876.10 1164.8 L876.55 1155.5 L877.00 1157.1 L877.45 1153.5 L877.90 1154.6 L878.35 1149.8 L878.80 1157.0 L879.25 1158.5 L879.70 1157.4 L880.15 1163.9 L880.60 1159.0 L881.05 1164.0 L881.50 1154.8 L881.95 1160.6 L882.40 1158.3 L882.85 1153.1 L883.30 1160.4 L883.75 1163.6 L884.20 1161.1 L884.65 1167.5 L885.10 1167.1 L885.55 1162.4 L886.00 1162.4 L886.45 1161.4 L886.90 1154.0 L887.35 1149.5 L887.80 1157.6 L888.25 1148.5 L888.70 1153.1 L889.15 1158.2 L889.60 1160.2 L890.05 1154.3 L890.50 1161.7 L890.95 1161.4 L891.40 1160.2 L891.85 1162.1 L892.30 1160.3 L892.75 1157.0 L893.20 1155.7 L893.65 1156.8 L894.10 1159.0 L894.55 1149.6 L895.00 1165.1 L895.45 1156.5 L895.90 1161.4 L896.35 1153.4 L896.80 1157.5 L897.25 1154.9 L897.70 1163.0 L898.15 1162.2 L898.60 1159.8 L899.05 1160.7 L899.50 1164.2 L899.95 1161.1 L900.40 1161.8 L900.85 1160.6 L901.30 1165.4 L901.75 1162.9 L902.20 1160.5 L902.65 1168.3 L903.10 1171.1 L903.55 1174.0 L904.00 1166.7 L904.45 1169.4 L904.90 1174.5 L905.35 1165.1 L905.80 1163.9 L906.25 1165.8 L906.70 1162.4 L907.15 1164.7 L907.60 1163.6 L908.05 1163.2 L908.50 1169.4 L908.95 1165.4 L909.40 1163.6 L909.85 1165.7 L910.30 1165.3 L910.75 1165.8 L911.20 1167.1 L911.65 1166.9 L912.10 1153.6 L912.55 1154.0 L913.00 1148.3 L913.45 1158.6 L913.90 1162.8 L914.35 1162.0 L914.80 1160.4 L915.25 1158.9 L915.70 1155.9 L916.15 1163.2 L916.60 1170.0 L917.05 1161.9 L917.50 1173.9 L917.95 1166.5 L918.40 1159.8 L918.85 1164.1 L919.30 1163.1 L919.75 1162.5 L920.20 1160.9 L920.65 1168.2 L921.10 1161.5 L921.55 1164.4 L922.00 1164.1 L922.45 1158.7 L922.90 1157.5 L923.35 1160.0 L923.80 1166.7 L924.25 1169.0 L924.70 1159.2 L925.15 1160.6 L925.60 1166.0 L926.05 1153.8 L926.50 1160.9 L926.95 1159.8 L927.40 1161.3 L927.85 1154.4 L928.30 1161.6 L928.75 1156.5 L929.20 1165.0 L929.65 1156.2 L930.10 1159.3 L930.55 1154.8 L931.00 1159.0 L931.45 1154.1 L931.90 1161.3 L932.35 1162.4 L932.80 1160.1 L933.25 1165.4 L933.70 1161.0 L934.15 1162.9 L934.60 1162.3 L935.05 1167.5 L935.50 1160.6 L935.95 1164.5 L936.40 1167.3 L936.85 1172.0 L937.30 1167.2 L937.75 1165.6 L938.20 1160.1 L938.65 1156.0 L939.10 1158.3 L939.55 1160.7 L940.00 1152.0 L940.45 1164.4 L940.90 1157.2 L941.35 1157.6 L941.80 1160.1 L942.25 1159.7 L942.70 1156.9 L943.15 1162.5 L943.60 1165.7 L944.05 1161.7 L944.50 1159.4 L944.95 1151.6 L945.40 1153.5 L945.85 1158.7 L946.30 1161.0 L946.75 1156.9 L947.20 1154.5 L947.65 1152.1 L948.10 1164.8 L948.55 1155.5 L949.00 1163.2 L949.45 1165.7 L949.90 1173.6 L950.35 1162.0 L950.80 1160.1 L951.25 1161.2 L951.70 1160.7 L952.15 1162.9 L952.60 1159.9 L953.05 1154.2 L953.50 1149.0 L953.95 1156.8 L954.40 1152.8 L954.85 1162.2 L955.30 1154.9 L955.75 1162.3 L956.20 1160.9 L956.65 1161.8 L957.10 1172.2 L957.55 1168.4 L958.00 1165.8 L958.45 1167.3 L958.90 1160.2 L959.35 1160.4 L959.80 1159.3 L960.25 1168.2 L960.70 1162.2 L961.15 1163.6 L961.60 1165.7 L962.05 1161.5 L962.50 1161.4 L962.95 1154.1 L963.40 1159.3 L963.85 1156.4 L964.30 1154.0 L964.75 1160.6 L965.20 1151.1 L965.65 1159.7 L966.10 1153.5 L966.55 1154.4 L967.00 1157.7 L967.45 1163.7 L967.90 1155.7 L968.35 1157.2 L968.80 1157.4 L969.25 1168.2 L969.70 1162.4 L970.15 1161.5 L970.60 1166.3 L971.05 1158.0 L971.50 1147.9 L971.95 1151.7 L972.40 1152.3 L972.85 1167.3 L973.30 1158.8 L973.75 1167.6 L974.20 1165.6 L974.65 1166.7 L975.10 1169.2 L975.55 1166.5 L976.00 1161.5 L976.45 1156.5 L976.90 1156.5 L977.35 1156.1 L977.80 1157.6 L978.25 1162.3 L978.70 1161.5 L979.15 1163.5 L979.60 1160.8 L980.05 1168.3 L980.50 1159.8 L980.95 1159.6 L981.40 1167.6 L981.85 1159.9 L982.30 1159.3 L982.75 1158.8 L983.20 1151.4 L983.65 1155.3 L984.10 1164.8 L984.55 1167.4 L985.00 1165.6 L985.45 1160.0 L985.90 1159.6 L986.35 1151.9 L986.80 1156.7 L987.25 1158.6 L987.70 1166.2 L988.15 1169.0 L988.60 1162.2 L989.05 1161.1 L989.50 1156.9 L989.95 1154.9 L990.40 1157.5 L990.85 1160.3 L991.30 1159.5 L991.75 1160.3 L992.20 1157.7 L992.65 1149.4 L993.10 1163.5 L993.55 1166.5 L994.00 1166.7 L994.45 1167.8 L994.90 1165.7 L995.35 1168.6 L995.80 1157.5 L996.25 1161.1 L996.70 1159.2 L997.15 1159.5 L997.60 1157.4 L998.05 1156.5 L998.50 1153.6 L998.95 1159.5 L999.40 1155.4 L999.85 1150.3 L1000.30 1150.0 L1000.75 1146.5 L1001.20 1160.4 L1001.65 1158.6 L1002.10 1164.6 L1002.55 1162.7 L1003.00 1162.3 L1003.45 1168.7 L1003.90 1163.1 L1004.35 1163.9 L1004.80 1168.7 L1005.25 1168.8 L1005.70 1163.7 L1006.15 1165.0 L1006.60 1166.1 L1007.05 1166.2 L1007.50 1173.0 L1007.95 1158.4 L1008.40 1159.2 L1008.85 1150.1 L1009.30 1154.0 L1009.75 1161.4 L1010.20 1163.2 L1010.65 1165.1 L1011.10 1165.7 L1011.55 1167.3 L1012.00 1170.9 L1012.45 1170.4 L1012.90 1174.6 L1013.35 1174.9 L1013.80 1168.6 L1014.25 1160.3 L1014.70 1154.1 L1015.15 1153.6 L1015.60 1149.7 L1016.05 1142.5 L1016.50 1152.2 L1016.95 1147.4 L1017.40 1150.0 L1017.85 1151.7 L1018.30 1155.3 L1018.75 1164.9 L1019.20 1161.7 L1019.65 1168.7 L1020.10 1172.6 L1020.55 1174.5 L1021.00 1167.7 L1021.45 1163.1 L1021.90 1161.1 L1022.35 1166.1 L1022.80 1167.0 L1023.25 1162.4 L1023.70 1167.3 L1024.15 1166.0 L1024.60 1162.1 L1025.05 1163.5 L1025.50 1167.6 L1025.95 1167.5 L1026.40 1162.5 L1026.85 1161.1 L1027.30 1161.0 L1027.75 1167.1 L1028.20 1167.7 L1028.65 1161.8 L1029.10 1170.7 L1029.55 1166.8 L1030.00 1171.3 L1030.45 1170.3 L1030.90 1170.5 L1031.35 1171.3 L1031.80 1169.9 L1032.25 1163.6 L1032.70 1163.6 L1033.15 1169.7 L1033.60 1166.1 L1034.05 1157.3 L1034.50 1155.0 L1034.95 1167.0 L1035.40 1173.4 L1035.85 1170.2 L1036.30 1166.0 L1036.75 1166.4 L1037.20 1154.3 L1037.65 1159.4 L1038.10 1169.2 L1038.55 1171.4 L1039.00 1163.5 L1039.45 1177.5 L1039.90 1177.2 L1040.35 1180.6 L1040.80 1178.5 L1041.25 1174.0 L1041.70 1165.0 L1042.15 1164.7 L1042.60 1162.8 L1043.05 1154.0 L1043.50 1156.2 L1043.95 1150.7 L1044.40 1158.2 L1044.85 1160.6 L1045.30 1151.3 L1045.75 1163.3 L1046.20 1166.3 L1046.65 1161.8 L1047.10 1164.0 L1047.55 1165.1 L1048.00 1162.4 L1048.45 1166.9 L1048.90 1173.4 L1049.35 1169.3 L1049.80 1172.8 L1050.25 1170.7 L1050.70 1169.3 L1051.15 1162.3 L1051.60 1161.4 L1052.05 1163.0 L1052.50 1160.8 L1052.95 1156.4 L1053.40 1152.5 L1053.85 1153.2 L1054.30 1160.3 L1054.75 1163.9 L1055.20 1158.8 L1055.65 1162.2 L1056.10 1158.7 L1056.55 1154.6 L1057.00 1150.9 L1057.45 1164.1 L1057.90 1162.2 L1058.35 1157.5 L1058.80 1158.2 L1059.25 1161.3 L1059.70 1158.0 L1060.15 1155.7 L1060.60 1156.5 L1061.05 1157.2 L1061.50 1157.8 L1061.95 1155.9 L1062.40 1161.3 L1062.85 1149.2 L1063.30 1156.2 L1063.75 1163.1 L1064.20 1156.0 L1064.65 1154.5 L1065.10 1165.4 L1065.55 1162.3 L1066.00 1158.0 L1066.45 1156.1 L1066.90 1154.4 L1067.35 1151.1 L1067.80 1148.5 L1068.25 1146.5 L1068.70 1152.9 L1069.15 1150.9 L1069.60 1148.4 L1070.05 1149.6 L1070.50 1153.6 L1070.95 1149.5 L1071.40 1144.2 L1071.85 1158.5 L1072.30 1155.3 L1072.75 1152.2 L1073.20 1153.2 L1073.65 1158.2 L1074.10 1162.5 L1074.55 1155.5 L1075.00 1156.7 L1075.45 1150.6 L1075.90 1151.4 L1076.35 1145.1 L1076.80 1141.8 L1077.25 1147.7 L1077.70 1146.5 L1078.15 1149.1 L1078.60 1144.0 L1079.05 1151.0 L1079.50 1146.7 L1079.95 1152.3 L1080.40 1146.1 L1080.85 1153.2 L1081.30 1149.1 L1081.75 1151.2 L1082.20 1155.5 L1082.65 1145.1 L1083.10 1144.9 L1083.55 1152.4 L1084.00 1137.9 L1084.45 1144.3 L1084.90 1150.7 L1085.35 1156.8 L1085.80 1150.6 L1086.25 1151.2 L1086.70 1145.2 L1087.15 1146.1 L1087.60 1149.9 L1088.05 1146.3 L1088.50 1144.0 L1088.95 1144.1 L1089.40 1141.1 L1089.85 1139.1 L1090.30 1135.3 L1090.75 1134.2 L1091.20 1142.2 L1091.65 1137.8 L1092.10 1147.2 L1092.55 1151.4 L1093.00 1149.6 L1093.45 1152.8 L1093.90 1138.3 L1094.35 1138.7 L1094.80 1130.7 L1095.25 1127.8 L1095.70 1128.6 L1096.15 1134.6 L1096.60 1146.1 L1097.05 1147.7 L1097.50 1149.8 L1097.95 1149.9 L1098.40 1149.0 L1098.85 1141.0 L1099.30 1141.1 L1099.75 1141.7 L1100.20 1142.1 L1100.65 1136.3 L1101.10 1135.8 L1101.55 1135.8 L1102.00 1145.3 L1102.45 1144.3 L1102.90 1143.9 L1103.35 1143.3 L1103.80 1145.3 L1104.25 1135.7 L1104.70 1138.5 L1105.15 1134.0 L1105.60 1130.2 L1106.05 1129.3 L1106.50 1127.4 L1106.95 1137.6 L1107.40 1128.3 L1107.85 1131.3 L1108.30 1126.0 L1108.75 1122.4 L1109.20 1131.6 L1109.65 1133.8 L1110.10 1123.1 L1110.55 1125.9 L1111.00 1129.7 L1111.45 1123.8 L1111.90 1111.2 L1112.35 1119.3 L1112.80 1111.4 L1113.25 1118.9 L1113.70 1117.4 L1114.15 1128.3 L1114.60 1130.1 L1115.05 1121.4 L1115.50 1123.0 L1115.95 1116.5 L1116.40 1117.4 L1116.85 1116.8 L1117.30 1119.3 L1117.75 1118.6 L1118.20 1124.2 L1118.65 1118.4 L1119.10 1114.4 L1119.55 1123.8 L1120.00 1122.0 L1120.45 1124.7 L1120.90 1121.4 L1121.35 1121.8 L1121.80 1116.7 L1122.25 1111.5 L1122.70 1113.6 L1123.15 1112.5 L1123.60 1111.3 L1124.05 1112.8 L1124.50 1105.4 L1124.95 1114.1 L1125.40 1111.9 L1125.85 1115.0 L1126.30 1118.4 L1126.75 1118.0 L1127.20 1116.3 L1127.65 1118.1 L1128.10 1112.1 L1128.55 1112.4 L1129.00 1112.7 L1129.45 1109.3 L1129.90 1108.9 L1130.35 1115.1 L1130.80 1116.0 L1131.25 1112.0 L1131.70 1104.6 L1132.15 1100.7 L1132.60 1101.6 L1133.05 1099.9 L1133.50 1103.6 L1133.95 1103.3 L1134.40 1108.9 L1134.85 1108.2 L1135.30 1115.5 L1135.75 1105.5 L1136.20 1103.2 L1136.65 1095.7 L1137.10 1098.8 L1137.55 1103.3 L1138.00 1104.5 L1138.45 1108.0 L1138.90 1098.5 L1139.35 1099.3 L1139.80 1100.7 L1140.25 1094.8 L1140.70 1094.3 L1141.15 1094.9 L1141.60 1094.7 L1142.05 1093.8 L1142.50 1094.8 L1142.95 1088.3 L1143.40 1084.8 L1143.85 1082.1 L1144.30 1080.8 L1144.75 1092.9 L1145.20 1085.0 L1145.65 1089.2 L1146.10 1089.4 L1146.55 1092.4 L1147.00 1088.3 L1147.45 1088.0 L1147.90 1090.5 L1148.35 1081.7 L1148.80 1085.1 L1149.25 1082.0 L1149.70 1083.6 L1150.15 1077.3 L1150.60 1079.5 L1151.05 1073.2 L1151.50 1070.2 L1151.95 1072.5 L1152.40 1074.4 L1152.85 1073.9 L1153.30 1073.0 L1153.75 1074.3 L1154.20 1062.9 L1154.65 1066.6 L1155.10 1065.2 L1155.55 1062.0 L1156.00 1060.9 L1156.45 1066.3 L1156.90 1067.3 L1157.35 1065.2 L1157.80 1065.5 L1158.25 1064.2 L1158.70 1058.0 L1159.15 1061.1 L1159.60 1061.2 L1160.05 1065.7 L1160.50 1054.9 L1160.95 1056.1 L1161.40 1059.7 L1161.85 1057.7 L1162.30 1058.7 L1162.75 1059.6 L1163.20 1057.9 L1163.65 1058.1 L1164.10 1059.0 L1164.55 1051.2 L1165.00 1057.9 L1165.45 1047.6 L1165.90 1062.4 L1166.35 1062.1 L1166.80 1059.2 L1167.25 1066.7 L1167.70 1061.1 L1168.15 1061.5 L1168.60 1061.0 L1169.05 1058.8 L1169.50 1057.4 L1169.95 1059.2 L1170.40 1056.2 L1170.85 1053.1 L1171.30 1048.6 L1171.75 1043.1 L1172.20 1052.7 L1172.65 1048.6 L1173.10 1039.8 L1173.55 1044.6 L1174.00 1042.0 L1174.45 1031.7 L1174.90 1034.3 L1175.35 1035.8 L1175.80 1043.1 L1176.25 1042.1 L1176.70 1043.8 L1177.15 1038.2 L1177.60 1037.2 L1178.05 1026.5 L1178.50 1030.4 L1178.95 1032.4 L1179.40 1027.3 L1179.85 1034.2 L1180.30 1040.0 L1180.75 1042.8 L1181.20 1042.5 L1181.65 1036.5 L1182.10 1039.3 L1182.55 1038.4 L1183.00 1045.0 L1183.45 1037.2 L1183.90 1034.7 L1184.35 1031.0 L1184.80 1035.4 L1185.25 1032.6 L1185.70 1025.4 L1186.15 1021.2 L1186.60 1021.7 L1187.05 1028.3 L1187.50 1020.4 L1187.95 1026.2 L1188.40 1024.7 L1188.85 1022.4 L1189.30 1022.6 L1189.75 1019.9 L1190.20 1019.7 L1190.65 1025.5 L1191.10 1026.1 L1191.55 1021.8 L1192.00 1019.4 L1192.45 1012.3 L1192.90 1015.2 L1193.35 1012.9 L1193.80 1012.4 L1194.25 1016.1 L1194.70 1012.7 L1195.15 1017.4 L1195.60 1020.7 L1196.05 1024.9 L1196.50 1019.4 L1196.95 1018.6 L1197.40 1019.4 L1197.85 1016.2 L1198.30 1011.0 L1198.75 1010.4 L1199.20 1014.9 L1199.65 1011.0 L1200.10 1003.4 L1200.55 1000.3 L1201.00 997.5 L1201.45 1000.0 L1201.90 1005.5 L1202.35 1005.1 L1202.80 997.4 L1203.25 1001.4 L1203.70 1000.3 L1204.15 1000.8 L1204.60 1006.1 L1205.05 1006.6 L1205.50 1004.3 L1205.95 1005.5 L1206.40 998.1 L1206.85 998.9 L1207.30 990.4 L1207.75 995.5 L1208.20 992.4 L1208.65 994.0 L1209.10 993.9 L1209.55 984.4 L1210.00 983.6 L1210.45 983.6 L1210.90 984.3 L1211.35 987.6 L1211.80 985.4 L1212.25 985.0 L1212.70 990.4 L1213.15 993.0 L1213.60 990.5 L1214.05 995.4 L1214.50 991.7 L1214.95 990.3 L1215.40 988.5 L1215.85 981.8 L1216.30 990.8 L1216.75 980.0 L1217.20 982.1 L1217.65 981.6 L1218.10 978.7 L1218.55 977.9 L1219.00 976.9 L1219.45 980.7 L1219.90 984.6 L1220.35 989.7 L1220.80 983.4 L1221.25 988.3 L1221.70 987.5 L1222.15 985.7 L1222.60 982.9 L1223.05 983.7 L1223.50 977.5 L1223.95 982.9 L1224.40 982.8 L1224.85 978.9 L1225.30 979.8 L1225.75 976.4 L1226.20 970.2 L1226.65 976.7 L1227.10 976.5 L1227.55 990.9 L1228.00 983.7 L1228.45 981.3 L1228.90 978.8 L1229.35 978.6 L1229.80 979.8 L1230.25 975.8 L1230.70 973.7 L1231.15 981.1 L1231.60 979.0 L1232.05 975.7 L1232.50 977.3 L1232.95 971.6 L1233.40 972.2 L1233.85 973.1 L1234.30 958.5 L1234.75 958.9 L1235.20 967.2 L1235.65 961.6 L1236.10 976.7 L1236.55 966.5 L1237.00 968.8 L1237.45 970.3 L1237.90 975.2 L1238.35 973.0 L1238.80 965.7 L1239.25 967.0 L1239.70 974.7 L1240.15 968.1 L1240.60 975.5 L1241.05 973.4 L1241.50 977.3 L1241.95 977.1 L1242.40 962.8 L1242.85 969.0 L1243.30 965.9 L1243.75 957.3 L1244.20 956.7 L1244.65 956.7 L1245.10 961.7 L1245.55 966.4 L1246.00 970.3 L1246.45 971.3 L1246.90 966.1 L1247.35 964.5 L1247.80 970.4 L1248.25 957.4 L1248.70 961.7 L1249.15 966.7 L1249.60 969.6 L1250.05 957.0 L1250.50 957.9 L1250.95 953.0 L1251.40 955.7 L1251.85 955.0 L1252.30 954.5 L1252.75 961.7 L1253.20 963.1 L1253.65 968.2 L1254.10 965.3 L1254.55 961.4 L1255.00 965.4 L1255.45 967.2 L1255.90 960.9 L1256.35 967.4 L1256.80 963.6 L1257.25 958.0 L1257.70 956.6 L1258.15 952.2 L1258.60 951.3 L1259.05 962.8 L1259.50 968.0 L1259.95 968.6 L1260.40 963.5 L1260.85 956.0 L1261.30 951.6 L1261.75 950.5 L1262.20 947.1 L1262.65 954.1 L1263.10 956.8 L1263.55 962.4 L1264.00 969.1 L1264.45 964.9 L1264.90 962.9 L1265.35 965.6 L1265.80 957.1 L1266.25 964.6 L1266.70 955.6 L1267.15 957.4 L1267.60 959.6 L1268.05 959.6 L1268.50 955.1 L1268.95 954.2 L1269.40 955.1 L1269.85 951.9 L1270.30 963.0 L1270.75 961.7 L1271.20 956.3 L1271.65 963.0 L1272.10 949.8 L1272.55 952.6 L1273.00 957.8 L1273.45 956.0 L1273.90 950.7 L1274.35 954.1 L1274.80 956.9 L1275.25 961.4 L1275.70 953.7 L1276.15 959.1 L1276.60 954.4 L1277.05 951.0 L1277.50 948.8 L1277.95 956.9 L1278.40 948.9 L1278.85 953.1 L1279.30 961.4 L1279.75 958.1 L1280.20 946.6 L1280.65 944.2 L1281.10 942.8 L1281.55 949.6 L1282.00 946.5 L1282.45 954.6 L1282.90 953.3 L1283.35 952.5 L1283.80 953.1 L1284.25 954.3 L1284.70 954.6 L1285.15 951.1 L1285.60 951.2 L1286.05 954.2 L1286.50 952.6 L1286.95 957.4 L1287.40 954.5 L1287.85 953.0 L1288.30 956.8 L1288.75 962.4 L1289.20 960.2 L1289.65 947.6 L1290.10 952.1 L1290.55 947.8 L1291.00 947.9 L1291.45 947.4 L1291.90 947.3 L1292.35 946.1 L1292.80 946.9 L1293.25 948.6 L1293.70 943.7 L1294.15 943.8 L1294.60 944.3 L1295.05 944.4 L1295.50 951.5 L1295.95 947.5 L1296.40 952.8 L1296.85 954.7 L1297.30 955.3 L1297.75 951.3 L1298.20 953.1 L1298.65 949.2 L1299.10 951.2 L1299.55 953.9 L1300.00 947.3 L1300.45 952.8 L1300.90 955.9 L1301.35 950.4 L1301.80 948.3 L1302.25 954.4 L1302.70 947.2 L1303.15 950.0 L1303.60 940.0 L1304.05 951.2 L1304.50 952.0 L1304.95 955.9 L1305.40 955.8 L1305.85 948.5 L1306.30 945.4 L1306.75 937.4 L1307.20 951.4 L1307.65 955.1 L1308.10 953.0 L1308.55 953.4 L1309.00 958.8 L1309.45 963.6 L1309.90 960.6 L1310.35 961.7 L1310.80 949.0 L1311.25 943.1 L1311.70 951.2 L1312.15 955.8 L1312.60 951.8 L1313.05 953.0 L1313.50 948.7 L1313.95 944.5 L1314.40 944.2 L1314.85 941.6 L1315.30 951.5 L1315.75 954.1 L1316.20 956.1 L1316.65 949.0 L1317.10 948.4 L1317.55 943.6 L1318.00 946.0 L1318.45 956.1 L1318.90 964.7 L1319.35 952.9 L1319.80 955.1 L1320.25 959.7 L1320.70 954.2 L1321.15 959.6 L1321.60 958.0 L1322.05 959.4 L1322.50 965.1 L1322.95 963.8 L1323.40 963.0 L1323.85 972.8 L1324.30 969.9 L1324.75 966.4 L1325.20 963.9 L1325.65 967.4 L1326.10 964.0 L1326.55 967.9 L1327.00 972.0 L1327.45 968.4 L1327.90 971.8 L1328.35 962.8 L1328.80 969.0 L1329.25 969.0 L1329.70 973.8 L1330.15 967.7 L1330.60 970.7 L1331.05 966.7 L1331.50 963.3 L1331.95 963.5 L1332.40 963.2 L1332.85 967.4 L1333.30 961.1 L1333.75 964.4 L1334.20 970.8 L1334.65 975.5 L1335.10 977.9 L1335.55 982.9 L1336.00 977.0 L1336.45 982.1 L1336.90 986.9 L1337.35 988.4 L1337.80 985.1 L1338.25 979.5 L1338.70 980.4 L1339.15 974.4 L1339.60 981.7 L1340.05 972.4 L1340.50 983.1 L1340.95 990.0 L1341.40 993.4 L1341.85 985.1 L1342.30 988.6 L1342.75 984.0 L1343.20 981.5 L1343.65 988.4 L1344.10 984.1 L1344.55 978.5 L1345.00 979.7 L1345.45 985.5 L1345.90 983.5 L1346.35 978.5 L1346.80 977.5 L1347.25 982.3 L1347.70 983.7 L1348.15 989.2 L1348.60 986.0 L1349.05 992.1 L1349.50 995.6 L1349.95 989.6 L1350.40 997.2 L1350.85 1008.5 L1351.30 1004.2 L1351.75 1002.9 L1352.20 1003.3 L1352.65 994.6 L1353.10 994.4 L1353.55 989.4 L1354.00 996.2 L1354.45 992.2 L1354.90 993.8 L1355.35 987.5 L1355.80 1000.8 L1356.25 1001.0 L1356.70 997.1 L1357.15 1005.0 L1357.60 993.6 L1358.05 999.9 L1358.50 992.6 L1358.95 1005.8 L1359.40 988.1 L1359.85 996.2 L1360.30 1001.1 L1360.75 1009.7 L1361.20 1011.4 L1361.65 1011.2 L1362.10 1010.4 L1362.55 1019.3 L1363.00 1009.4 L1363.45 1012.8 L1363.90 1017.5 L1364.35 1008.0 L1364.80 1010.3 L1365.25 1017.6 L1365.70 1015.5 L1366.15 1007.0 L1366.60 1009.0 L1367.05 1012.9 L1367.50 1004.5 L1367.95 1007.9 L1368.40 1005.3 L1368.85 1002.9 L1369.30 1015.8 L1369.75 1018.6 L1370.20 1024.4 L1370.65 1022.1 L1371.10 1023.0 L1371.55 1023.5 L1372.00 1024.4 L1372.45 1018.0 L1372.90 1013.7 L1373.35 1016.2 L1373.80 1007.3 L1374.25 1012.6 L1374.70 1015.9 L1375.15 1018.6 L1375.60 1016.6 L1376.05 1018.2 L1376.50 1023.7 L1376.95 1020.2 L1377.40 1020.1 L1377.85 1029.5 L1378.30 1020.5 L1378.75 1028.7 L1379.20 1026.3 L1379.65 1020.3 L1380.10 1023.3 L1380.55 1022.7 L1381.00 1027.7 L1381.45 1025.7 L1381.90 1022.4 L1382.35 1020.9 L1382.80 1020.6 L1383.25 1027.2 L1383.70 1023.3 L1384.15 1027.9 L1384.60 1028.1 L1385.05 1030.3 L1385.50 1032.6 L1385.95 1029.6 L1386.40 1031.0 L1386.85 1026.4 L1387.30 1028.2 L1387.75 1025.0 L1388.20 1025.8 L1388.65 1023.7 L1389.10 1015.1 L1389.55 1011.3 L1390.00 1021.7 L1390.45 1027.3 L1390.90 1024.9 L1391.35 1034.6 L1391.80 1028.9 L1392.25 1027.4 L1392.70 1028.0 L1393.15 1024.4 L1393.60 1026.9 L1394.05 1034.7 L1394.50 1034.7 L1394.95 1039.7 L1395.40 1040.9 L1395.85 1033.2 L1396.30 1039.4 L1396.75 1043.6 L1397.20 1033.5 L1397.65 1039.9 L1398.10 1035.8 L1398.55 1033.1 L1399.00 1043.0 L1399.45 1043.2 L1399.90 1039.1 L1400.35 1039.8 L1400.80 1047.3 L1401.25 1048.7 L1401.70 1046.6 L1402.15 1051.6 L1402.60 1048.9 L1403.05 1044.9 L1403.50 1045.4 L1403.95 1039.2 L1404.40 1044.9 L1404.85 1044.9 L1405.30 1047.0 L1405.75 1048.5 L1406.20 1052.0 L1406.65 1053.6 L1407.10 1051.8 L1407.55 1047.0 L1408.00 1051.7 L1408.45 1046.1 L1408.90 1045.5 L1409.35 1050.8 L1409.80 1056.3 L1410.25 1058.0 L1410.70 1056.3 L1411.15 1055.9 L1411.60 1051.1 L1412.05 1044.5 L1412.50 1051.3 L1412.95 1050.5 L1413.40 1055.7 L1413.85 1056.1 L1414.30 1051.3 L1414.75 1043.8 L1415.20 1045.8 L1415.65 1045.8 L1416.10 1047.0 L1416.55 1046.5 L1417.00 1044.4 L1417.45 1042.6 L1417.90 1050.1 L1418.35 1050.4 L1418.80 1051.4 L1419.25 1052.6 L1419.70 1062.0 L1420.15 1058.8 L1420.60 1054.8 L1421.05 1055.7 L1421.50 1050.9 L1421.95 1054.5 L1422.40 1054.9 L1422.85 1057.7 L1423.30 1057.2 L1423.75 1053.9 L1424.20 1055.6 L1424.65 1056.2 L1425.10 1051.3 L1425.55 1056.3 L1426.00 1058.2 L1426.45 1068.3 L1426.90 1066.1 L1427.35 1071.4 L1427.80 1067.2 L1428.25 1072.1 L1428.70 1065.2 L1429.15 1063.5 L1429.60 1064.7 L1430.05 1064.1 L1430.50 1065.9 L1430.95 1073.5 L1431.40 1071.1 L1431.85 1074.2 L1432.30 1077.2 L1432.75 1065.4 L1433.20 1068.6 L1433.65 1067.5 L1434.10 1071.5 L1434.55 1078.5 L1435.00 1074.7 L1435.45 1071.8 L1435.90 1069.6 L1436.35 1062.9 L1436.80 1057.9 L1437.25 1065.0 L1437.70 1061.7 L1438.15 1069.9 L1438.60 1071.2 L1439.05 1079.1 L1439.50 1075.1 L1439.95 1074.9 L1440.40 1072.3 L1440.85 1072.3 L1441.30 1074.9 L1441.75 1071.5 L1442.20 1058.8 L1442.65 1068.5 L1443.10 1070.2 L1443.55 1074.1 L1444.00 1073.2 L1444.45 1069.5 L1444.90 1068.5 L1445.35 1069.2 L1445.80 1068.9 L1446.25 1079.1 L1446.70 1079.4 L1447.15 1080.7 L1447.60 1083.5 L1448.05 1086.9 L1448.50 1078.4 L1448.95 1080.2 L1449.40 1084.1 L1449.85 1085.8 L1450.30 1092.6 L1450.75 1092.3 L1451.20 1096.7 L1451.65 1096.1 L1452.10 1096.6 L1452.55 1088.2 L1453.00 1091.4 L1453.45 1082.0 L1453.90 1084.4 L1454.35 1090.4 L1454.80 1091.2 L1455.25 1091.8 L1455.70 1097.5 L1456.15 1096.2 L1456.60 1094.1 L1457.05 1094.5 L1457.50 1091.4 L1457.95 1093.5 L1458.40 1088.9 L1458.85 1093.0 L1459.30 1095.4 L1459.75 1096.7 L1460.20 1113.2 L1460.65 1108.8 L1461.10 1099.8 L1461.55 1109.2 L1462.00 1105.6 L1462.45 1100.0 L1462.90 1106.2 L1463.35 1107.8 L1463.80 1110.2 L1464.25 1113.1 L1464.70 1107.7 L1465.15 1112.5 L1465.60 1117.3 L1466.05 1119.3 L1466.50 1121.1 L1466.95 1122.3 L1467.40 1128.3 L1467.85 1122.1 L1468.30 1122.5 L1468.75 1134.2 L1469.20 1130.5 L1469.65 1133.3 L1470.10 1128.7 L1470.55 1125.0 L1471.00 1123.0 L1471.45 1125.3 L1471.90 1125.1 L1472.35 1128.3 L1472.80 1130.1 L1473.25 1131.2 L1473.70 1129.2 L1474.15 1130.0 L1474.60 1122.2 L1475.05 1126.8 L1475.50 1132.5 L1475.95 1132.7 L1476.40 1122.2 L1476.85 1130.0 L1477.30 1127.1 L1477.75 1125.5 L1478.20 1128.8 L1478.65 1131.0 L1479.10 1140.4 L1479.55 1137.5 L1480.00 1133.3 L1480.45 1133.8 L1480.90 1131.3 L1481.35 1126.3 L1481.80 1126.4 L1482.25 1127.5 L1482.70 1135.0 L1483.15 1134.3 L1483.60 1140.4 L1484.05 1139.9 L1484.50 1138.8 L1484.95 1136.6 L1485.40 1141.2 L1485.85 1148.6 L1486.30 1136.2 L1486.75 1133.0 L1487.20 1132.3 L1487.65 1139.4 L1488.10 1136.5 L1488.55 1134.7 L1489.00 1138.0 L1489.45 1141.0 L1489.90 1143.1 L1490.35 1147.7 L1490.80 1153.2 L1491.25 1149.9 L1491.70 1148.0 L1492.15 1145.7 L1492.60 1141.8 L1493.05 1145.1 L1493.50 1146.2 L1493.95 1145.8 L1494.40 1144.4 L1494.85 1148.9 L1495.30 1147.3 L1495.75 1147.2 L1496.20 1146.8 L1496.65 1147.6 L1497.10 1148.9 L1497.55 1155.5 L1498.00 1155.1 L1498.45 1157.2 L1498.90 1160.0 L1499.35 1157.9 L1499.80 1158.3 L1500.25 1150.1 L1500.70 1154.4 L1501.15 1147.4 L1501.60 1141.3 L1502.05 1143.2 L1502.50 1138.5 L1502.95 1138.2 L1503.40 1141.2 L1503.85 1149.6 L1504.30 1145.8 L1504.75 1155.0 L1505.20 1155.3 L1505.65 1163.3 L1506.10 1160.7 L1506.55 1162.8 L1507.00 1164.2 L1507.45 1154.5 L1507.90 1155.6 L1508.35 1152.5 L1508.80 1155.9 L1509.25 1161.0 L1509.70 1159.9 L1510.15 1159.8 L1510.60 1155.1 L1511.05 1152.2 L1511.50 1152.5 L1511.95 1148.8 L1512.40 1146.8 L1512.85 1144.5 L1513.30 1152.7 L1513.75 1158.0 L1514.20 1155.9 L1514.65 1159.4 L1515.10 1152.4 L1515.55 1155.2 L1516.00 1158.4 L1516.45 1154.9 L1516.90 1161.7 L1517.35 1159.9 L1517.80 1161.6 L1518.25 1155.5 L1518.70 1149.5 L1519.15 1151.0 L1519.60 1155.4 L1520.05 1153.8 L1520.50 1159.3 L1520.95 1157.0 L1521.40 1157.0 L1521.85 1161.1 L1522.30 1155.8 L1522.75 1154.3 L1523.20 1161.5 L1523.65 1162.2 L1524.10 1161.6 L1524.55 1163.5 L1525.00 1149.6 L1525.45 1158.9 L1525.90 1162.6 L1526.35 1157.3 L1526.80 1150.1 L1527.25 1160.8 L1527.70 1164.7 L1528.15 1158.4 L1528.60 1153.0 L1529.05 1156.0 L1529.50 1160.6 L1529.95 1164.6 L1530.40 1170.7 L1530.85 1166.8 L1531.30 1155.6 L1531.75 1160.1 L1532.20 1159.0 L1532.65 1164.4 L1533.10 1155.1 L1533.55 1151.2 L1534.00 1154.3 L1534.45 1155.8 L1534.90 1148.4 L1535.35 1157.8 L1535.80 1153.7 L1536.25 1156.9 L1536.70 1156.4 L1537.15 1158.9 L1537.60 1165.6 L1538.05 1170.4 L1538.50 1165.5 L1538.95 1161.5 L1539.40 1160.1 L1539.85 1152.1 L1540.30 1148.9 L1540.75 1152.7 L1541.20 1151.1 L1541.65 1153.8 L1542.10 1146.4 L1542.55 1160.5 L1543.00 1168.5 L1543.45 1166.3 L1543.90 1167.0 L1544.35 1166.2 L1544.80 1164.0 L1545.25 1166.0 L1545.70 1162.5 L1546.15 1159.8 L1546.60 1160.6 L1547.05 1159.4 L1547.50 1163.1 L1547.95 1166.3 L1548.40 1167.6 L1548.85 1164.7 L1549.30 1166.9 L1549.75 1164.9 L1550.20 1157.2 L1550.65 1158.6 L1551.10 1164.7 L1551.55 1160.6 L1552.00 1164.7 L1552.45 1157.0 L1552.90 1159.4 L1553.35 1161.5 L1553.80 1163.3 L1554.25 1166.4 L1554.70 1167.5 L1555.15 1165.7 L1555.60 1161.4 L1556.05 1162.0 L1556.50 1165.2 L1556.95 1164.9 L1557.40 1165.3 L1557.85 1164.0 L1558.30 1160.6 L1558.75 1156.3 L1559.20 1154.3 L1559.65 1166.1 L1560.10 1164.1 L1560.55 1163.7 L1561.00 1165.8 L1561.45 1162.3 L1561.90 1161.2 L1562.35 1158.3 L1562.80 1149.7 L1563.25 1159.9 L1563.70 1149.3 L1564.15 1153.2 L1564.60 1153.3 L1565.05 1153.5 L1565.50 1156.4 L1565.95 1167.9 L1566.40 1164.3 L1566.85 1154.0 L1567.30 1152.4 L1567.75 1163.0 L1568.20 1156.9 L1568.65 1163.6 L1569.10 1167.9 L1569.55 1161.4 L1570.00 1161.4 L1570.45 1155.6 L1570.90 1153.4 L1571.35 1160.5 L1571.80 1161.4 L1572.25 1168.9 L1572.70 1161.0 L1573.15 1163.2 L1573.60 1158.7 L1574.05 1156.2 L1574.50 1158.5 L1574.95 1153.4 L1575.40 1152.2 L1575.85 1160.3 L1576.30 1158.9 L1576.75 1156.1 L1577.20 1166.2 L1577.65 1158.6" stroke="#00ff00" stroke-width="2.8"/>
<path d="M121.00 1153.4 L121.45 1149.1 L121.90 1154.4 L122.35 1158.4 L122.80 1164.6 L123.25 1163.4 L123.70 1163.4 L124.15 1167.6 L124.60 1162.1 L125.05 1160.6 L125.50 1159.1 L125.95 1151.5 L126.40 1145.4 L126.85 1140.8 L127.30 1133.6 L127.75 1137.8 L128.20 1142.4 L128.65 1145.0 L129.10 1140.7 L129.55 1150.6 L130.00 1149.7 L130.45 1155.5 L130.90 1160.4 L131.35 1156.3 L131.80 1165.3 L132.25 1160.0 L132.70 1162.6 L133.15 1161.6 L133.60 1163.6 L134.05 1162.8 L134.50 1154.0 L134.95 1160.4 L135.40 1153.4 L135.85 1160.0 L136.30 1161.9 L136.75 1160.5 L137.20 1158.4 L137.65 1147.9 L138.10 1148.6 L138.55 1146.1 L139.00 1148.6 L139.45 1147.8 L139.90 1137.6 L140.35 1153.4 L140.80 1141.9 L141.25 1143.0 L141.70 1151.1 L142.15 1156.2 L142.60 1159.9 L143.05 1159.5 L143.50 1166.2 L143.95 1160.2 L144.40 1164.6 L144.85 1163.1 L145.30 1153.0 L145.75 1153.5 L146.20 1152.8 L146.65 1156.7 L147.10 1155.2 L147.55 1155.1 L148.00 1150.4 L148.45 1154.2 L148.90 1158.7 L149.35 1149.7 L149.80 1154.7 L150.25 1157.1 L150.70 1156.2 L151.15 1156.5 L151.60 1164.1 L152.05 1162.8 L152.50 1160.8 L152.95 1154.7 L153.40 1165.1 L153.85 1158.3 L154.30 1157.8 L154.75 1161.5 L155.20 1163.8 L155.65 1175.7 L156.10 1168.5 L156.55 1167.7 L157.00 1159.4 L157.45 1168.9 L157.90 1156.3 L158.35 1149.9 L158.80 1150.1 L159.25 1139.5 L159.70 1147.2 L160.15 1149.8 L160.60 1141.0 L161.05 1148.7 L161.50 1146.6 L161.95 1155.1 L162.40 1161.7 L162.85 1156.2 L163.30 1167.4 L163.75 1159.5 L164.20 1156.0 L164.65 1159.7 L165.10 1164.1 L165.55 1157.5 L166.00 1163.6 L166.45 1159.7 L166.90 1169.0 L167.35 1165.3 L167.80 1163.2 L168.25 1168.9 L168.70 1163.8 L169.15 1170.3 L169.60 1181.6 L170.05 1176.9 L170.50 1176.8 L170.95 1167.2 L171.40 1158.6 L171.85 1155.6 L172.30 1158.2 L172.75 1158.3 L173.20 1159.0 L173.65 1161.9 L174.10 1164.9 L174.55 1176.2 L175.00 1182.8 L175.45 1188.8 L175.90 1178.4 L176.35 1186.6 L176.80 1182.6 L177.25 1176.7 L177.70 1183.4 L178.15 1186.9 L178.60 1186.3 L179.05 1186.6 L179.50 1184.7 L179.95 1181.4 L180.40 1174.8 L180.85 1164.1 L181.30 1165.7 L181.75 1166.2 L182.20 1159.5 L182.65 1160.4 L183.10 1162.1 L183.55 1160.8 L184.00 1169.1 L184.45 1160.4 L184.90 1166.0 L185.35 1159.7 L185.80 1157.4 L186.25 1161.0 L186.70 1153.4 L187.15 1155.5 L187.60 1145.0 L188.05 1146.6 L188.50 1143.6 L188.95 1146.0 L189.40 1145.8 L189.85 1143.5 L190.30 1150.5 L190.75 1144.2 L191.20 1145.7 L191.65 1152.7 L192.10 1151.1 L192.55 1148.1 L193.00 1145.0 L193.45 1150.3 L193.90 1138.8 L194.35 1141.6 L194.80 1141.7 L195.25 1149.5 L195.70 1147.3 L196.15 1150.3 L196.60 1149.9 L197.05 1145.6 L197.50 1143.1 L197.95 1142.2 L198.40 1153.5 L198.85 1148.7 L199.30 1146.3 L199.75 1142.0 L200.20 1141.6 L200.65 1140.5 L201.10 1142.4 L201.55 1136.8 L202.00 1147.1 L202.45 1147.7 L202.90 1150.6 L203.35 1150.8 L203.80 1153.6 L204.25 1150.9 L204.70 1152.8 L205.15 1139.7 L205.60 1144.0 L206.05 1153.1 L206.50 1140.6 L206.95 1142.0 L207.40 1143.6 L207.85 1136.5 L208.30 1144.9 L208.75 1139.8 L209.20 1140.7 L209.65 1144.9 L210.10 1141.6 L210.55 1145.5 L211.00 1142.6 L211.45 1143.7 L211.90 1141.6 L212.35 1157.3 L212.80 1150.8 L213.25 1153.4 L213.70 1152.7 L214.15 1147.7 L214.60 1143.9 L215.05 1144.8 L215.50 1152.1 L215.95 1155.4 L216.40 1160.7 L216.85 1159.0 L217.30 1157.6 L217.75 1166.8 L218.20 1157.9 L218.65 1159.6 L219.10 1159.1 L219.55 1160.0 L220.00 1148.5 L220.45 1150.3 L220.90 1152.5 L221.35 1155.0 L221.80 1149.4 L222.25 1159.7 L222.70 1150.7 L223.15 1163.2 L223.60 1165.1 L224.05 1166.4 L224.50 1160.7 L224.95 1169.2 L225.40 1163.4 L225.85 1162.6 L226.30 1161.7 L226.75 1160.5 L227.20 1162.3 L227.65 1163.1 L228.10 1152.7 L228.55 1158.4 L229.00 1163.7 L229.45 1161.6 L229.90 1165.1 L230.35 1160.4 L230.80 1171.7 L231.25 1164.7 L231.70 1170.1 L232.15 1173.3 L232.60 1174.2 L233.05 1168.5 L233.50 1171.2 L233.95 1167.1 L234.40 1168.8 L234.85 1175.9 L235.30 1172.6 L235.75 1173.0 L236.20 1169.3 L236.65 1175.2 L237.10 1172.9 L237.55 1163.6 L238.00 1160.5 L238.45 1164.7 L238.90 1162.8 L239.35 1164.4 L239.80 1164.5 L240.25 1169.4 L240.70 1172.3 L241.15 1179.7 L241.60 1174.2 L242.05 1184.0 L242.50 1171.5 L242.95 1170.9 L243.40 1172.6 L243.85 1166.2 L244.30 1163.1 L244.75 1164.7 L245.20 1165.8 L245.65 1157.4 L246.10 1165.3 L246.55 1168.4 L247.00 1169.9 L247.45 1176.2 L247.90 1170.5 L248.35 1170.3 L248.80 1170.8 L249.25 1172.6 L249.70 1170.2 L250.15 1177.4 L250.60 1169.7 L251.05 1178.2 L251.50 1168.3 L251.95 1168.6 L252.40 1168.3 L252.85 1172.2 L253.30 1166.0 L253.75 1159.3 L254.20 1163.4 L254.65 1156.4 L255.10 1156.6 L255.55 1163.3 L256.00 1164.2 L256.45 1169.2 L256.90 1163.2 L257.35 1165.9 L257.80 1166.1 L258.25 1164.5 L258.70 1165.4 L259.15 1165.0 L259.60 1172.7 L260.05 1171.7 L260.50 1171.9 L260.95 1167.8 L261.40 1168.0 L261.85 1162.9 L262.30 1163.8 L262.75 1163.1 L263.20 1157.5 L263.65 1157.5 L264.10 1156.2 L264.55 1160.6 L265.00 1155.7 L265.45 1151.5 L265.90 1162.4 L266.35 1163.7 L266.80 1164.2 L267.25 1173.1 L267.70 1171.3 L268.15 1171.5 L268.60 1168.3 L269.05 1169.6 L269.50 1167.4 L269.95 1170.6 L270.40 1159.4 L270.85 1159.9 L271.30 1162.2 L271.75 1155.7 L272.20 1157.2 L272.65 1171.7 L273.10 1158.2 L273.55 1167.3 L274.00 1162.9 L274.45 1163.8 L274.90 1159.4 L275.35 1163.2 L275.80 1169.3 L276.25 1161.5 L276.70 1169.2 L277.15 1168.8 L277.60 1175.6 L278.05 1167.0 L278.50 1172.1 L278.95 1169.7 L279.40 1164.3 L279.85 1158.3 L280.30 1169.0 L280.75 1158.0 L281.20 1160.5 L281.65 1164.8 L282.10 1165.3 L282.55 1157.8 L283.00 1160.4 L283.45 1159.5 L283.90 1166.9 L284.35 1173.8 L284.80 1160.4 L285.25 1171.5 L285.70 1152.3 L286.15 1156.9 L286.60 1147.2 L287.05 1153.7 L287.50 1150.6 L287.95 1150.9 L288.40 1155.3 L288.85 1158.2 L289.30 1161.2 L289.75 1160.1 L290.20 1163.3 L290.65 1166.4 L291.10 1160.9 L291.55 1151.4 L292.00 1147.4 L292.45 1148.6 L292.90 1158.1 L293.35 1156.0 L293.80 1157.8 L294.25 1163.1 L294.70 1155.8 L295.15 1155.0 L295.60 1159.3 L296.05 1155.1 L296.50 1157.1 L296.95 1162.4 L297.40 1161.7 L297.85 1163.4 L298.30 1162.5 L298.75 1164.6 L299.20 1160.9 L299.65 1155.0 L300.10 1159.6 L300.55 1164.3 L301.00 1170.0 L301.45 1160.5 L301.90 1166.7 L302.35 1165.4 L302.80 1170.3 L303.25 1169.6 L303.70 1171.8 L304.15 1166.9 L304.60 1161.6 L305.05 1160.1 L305.50 1161.4 L305.95 1159.2 L306.40 1164.2 L306.85 1159.6 L307.30 1148.2 L307.75 1152.6 L308.20 1145.4 L308.65 1143.9 L309.10 1158.0 L309.55 1162.9 L310.00 1162.7 L310.45 1176.9 L310.90 1164.3 L311.35 1160.4 L311.80 1163.8 L312.25 1159.3 L312.70 1156.9 L313.15 1156.2 L313.60 1156.3 L314.05 1154.2 L314.50 1155.5 L314.95 1150.7 L315.40 1154.1 L315.85 1162.3 L316.30 1157.0 L316.75 1160.9 L317.20 1162.8 L317.65 1156.7 L318.10 1160.8 L318.55 1169.0 L319.00 1165.8 L319.45 1171.3 L319.90 1168.8 L320.35 1164.6 L320.80 1160.1 L321.25 1156.2 L321.70 1155.2 L322.15 1160.9 L322.60 1160.7 L323.05 1158.2 L323.50 1160.7 L323.95 1154.2 L324.40 1159.1 L324.85 1154.4 L325.30 1156.1 L325.75 1158.2 L326.20 1159.9 L326.65 1170.7 L327.10 1153.3 L327.55 1157.2 L328.00 1158.5 L328.45 1154.6 L328.90 1153.8 L329.35 1164.0 L329.80 1156.8 L330.25 1158.7 L330.70 1166.9 L331.15 1161.0 L331.60 1159.1 L332.05 1171.6 L332.50 1165.9 L332.95 1160.6 L333.40 1151.1 L333.85 1148.7 L334.30 1142.9 L334.75 1151.0 L335.20 1146.0 L335.65 1145.0 L336.10 1140.5 L336.55 1155.7 L337.00 1163.4 L337.45 1167.4 L337.90 1169.1 L338.35 1169.5 L338.80 1171.6 L339.25 1177.2 L339.70 1170.4 L340.15 1163.8 L340.60 1155.8 L341.05 1157.5 L341.50 1146.8 L341.95 1150.5 L342.40 1148.1 L342.85 1153.8 L343.30 1158.4 L343.75 1160.8 L344.20 1162.2 L344.65 1156.9 L345.10 1167.0 L345.55 1158.9 L346.00 1154.2 L346.45 1152.6 L346.90 1151.8 L347.35 1155.1 L347.80 1155.3 L348.25 1153.4 L348.70 1145.7 L349.15 1155.0 L349.60 1157.1 L350.05 1157.7 L350.50 1156.7 L350.95 1160.4 L351.40 1163.9 L351.85 1159.7 L352.30 1165.0 L352.75 1151.1 L353.20 1152.0 L353.65 1152.0 L354.10 1147.6 L354.55 1153.9 L355.00 1163.1 L355.45 1164.0 L355.90 1159.1 L356.35 1164.2 L356.80 1158.0 L357.25 1154.6 L357.70 1156.1 L358.15 1153.5 L358.60 1155.5 L359.05 1146.5 L359.50 1156.4 L359.95 1152.0 L360.40 1157.6 L360.85 1149.6 L361.30 1152.6 L361.75 1153.3 L362.20 1155.2 L362.65 1146.7 L363.10 1158.7 L363.55 1156.1 L364.00 1154.0 L364.45 1161.5 L364.90 1155.6 L365.35 1157.4 L365.80 1159.7 L366.25 1152.3 L366.70 1147.7 L367.15 1148.1 L367.60 1151.8 L368.05 1151.2 L368.50 1151.5 L368.95 1156.4 L369.40 1165.5 L369.85 1175.1 L370.30 1154.6 L370.75 1164.1 L371.20 1158.1 L371.65 1159.4 L372.10 1159.7 L372.55 1156.7 L373.00 1152.8 L373.45 1151.5 L373.90 1150.8 L374.35 1162.8 L374.80 1158.6 L375.25 1158.1 L375.70 1157.4 L376.15 1152.0 L376.60 1156.3 L377.05 1158.6 L377.50 1158.2 L377.95 1148.8 L378.40 1159.6 L378.85 1152.4 L379.30 1149.3 L379.75 1152.9 L380.20 1154.9 L380.65 1159.3 L381.10 1155.4 L381.55 1153.4 L382.00 1157.6 L382.45 1165.0 L382.90 1153.1 L383.35 1154.8 L383.80 1150.9 L384.25 1158.4 L384.70 1145.4 L385.15 1159.5 L385.60 1154.3 L386.05 1159.5 L386.50 1158.9 L386.95 1168.3 L387.40 1151.6 L387.85 1145.3 L388.30 1156.0 L388.75 1147.5 L389.20 1148.8 L389.65 1148.9 L390.10 1149.6 L390.55 1148.9 L391.00 1150.7 L391.45 1151.5 L391.90 1154.0 L392.35 1150.3 L392.80 1150.0 L393.25 1150.0 L393.70 1159.3 L394.15 1160.5 L394.60 1166.1 L395.05 1168.5 L395.50 1167.9 L395.95 1157.8 L396.40 1155.0 L396.85 1143.9 L397.30 1146.6 L397.75 1151.7 L398.20 1150.7 L398.65 1159.1 L399.10 1147.9 L399.55 1149.1 L400.00 1136.1 L400.45 1137.9 L400.90 1144.3 L401.35 1148.2 L401.80 1146.4 L402.25 1156.7 L402.70 1161.4 L403.15 1161.8 L403.60 1158.7 L404.05 1160.2 L404.50 1156.2 L404.95 1160.9 L405.40 1162.0 L405.85 1153.2 L406.30 1148.5 L406.75 1154.8 L407.20 1156.0 L407.65 1143.4 L408.10 1155.3 L408.55 1164.2 L409.00 1160.9 L409.45 1161.5 L409.90 1161.9 L410.35 1165.2 L410.80 1158.9 L411.25 1160.1 L411.70 1164.7 L412.15 1160.8 L412.60 1164.3 L413.05 1156.8 L413.50 1168.7 L413.95 1171.4 L414.40 1170.8 L414.85 1173.0 L415.30 1175.4 L415.75 1162.7 L416.20 1160.4 L416.65 1157.0 L417.10 1158.2 L417.55 1154.7 L418.00 1157.2 L418.45 1153.6 L418.90 1151.6 L419.35 1152.1 L419.80 1162.8 L420.25 1159.5 L420.70 1158.6 L421.15 1157.6 L421.60 1155.8 L422.05 1154.8 L422.50 1152.6 L422.95 1149.2 L423.40 1147.2 L423.85 1145.4 L424.30 1143.9 L424.75 1146.0 L425.20 1142.3 L425.65 1140.1 L426.10 1140.9 L426.55 1140.4 L427.00 1141.1 L427.45 1138.8 L427.90 1138.3 L428.35 1135.9 L428.80 1134.4 L429.25 1133.0 L429.70 1133.3 L430.15 1130.5 L430.60 1126.1 L431.05 1124.7 L431.50 1120.5 L431.95 1116.7 L432.40 1104.6 L432.85 1091.7 L433.30 1076.6 L433.75 1066.4 L434.20 1058.5 L434.65 1049.8 L435.10 1046.0 L435.55 1041.6 L436.00 1035.8 L436.45 1033.4 L436.90 1030.0 L437.35 1023.6 L437.80 1019.5 L438.25 1016.1 L438.70 1013.9 L439.15 1015.6 L439.60 1017.7 L440.05 1022.1 L440.50 1026.8 L440.95 1033.4 L441.40 1044.6 L441.85 1053.8 L442.30 1058.7 L442.75 1065.9 L443.20 1074.4 L443.65 1078.8 L444.10 1082.7 L444.55 1088.3 L445.00 1089.4 L445.45 1094.2 L445.90 1090.4 L446.35 1090.1 L446.80 1090.4 L447.25 1086.6 L447.70 1088.0 L448.15 1084.4 L448.60 1084.7 L449.05 1085.4 L449.50 1090.6 L449.95 1096.8 L450.40 1102.6 L450.85 1108.5 L451.30 1117.4 L451.75 1117.3 L452.20 1115.8 L452.65 1112.9 L453.10 1106.1 L453.55 1107.6 L454.00 1106.8 L454.45 1104.1 L454.90 1107.5 L455.35 1109.7 L455.80 1109.0 L456.25 1109.6 L456.70 1111.1 L457.15 1115.1 L457.60 1112.3 L458.05 1110.8 L458.50 1113.4 L458.95 1113.8 L459.40 1115.6 L459.85 1116.2 L460.30 1111.1 L460.75 1111.8 L461.20 1109.9 L461.65 1104.3 L462.10 1098.6 L462.55 1095.1 L463.00 1087.6 L463.45 1084.1 L463.90 1084.1 L464.35 1085.9 L464.80 1087.0 L465.25 1086.8 L465.70 1085.5 L466.15 1083.9 L466.60 1081.6 L467.05 1078.5 L467.50 1080.1 L467.95 1082.9 L468.40 1081.1 L468.85 1082.8 L469.30 1081.4 L469.75 1080.4 L470.20 1078.0 L470.65 1076.5 L471.10 1080.7 L471.55 1078.4 L472.00 1076.0 L472.45 1076.4 L472.90 1075.7 L473.35 1072.9 L473.80 1072.4 L474.25 1069.5 L474.70 1070.6 L475.15 1071.5 L475.60 1070.3 L476.05 1066.1 L476.50 1066.2 L476.95 1065.1 L477.40 1066.4 L477.85 1067.1 L478.30 1069.8 L478.75 1069.8 L479.20 1065.9 L479.65 1063.7 L480.10 1067.7 L480.55 1066.6 L481.00 1069.5 L481.45 1071.2 L481.90 1066.8 L482.35 1065.5 L482.80 1065.0 L483.25 1064.0 L483.70 1059.3 L484.15 1058.4 L484.60 1054.0 L485.05 1049.6 L485.50 1043.9 L485.95 1042.9 L486.40 1040.8 L486.85 1036.9 L487.30 1042.0 L487.75 1040.4 L488.20 1042.4 L488.65 1042.1 L489.10 1040.4 L489.55 1038.2 L490.00 1032.0 L490.45 1024.6 L490.90 1019.6 L491.35 1011.3 L491.80 1005.2 L492.25 1001.2 L492.70 999.7 L493.15 1002.0 L493.60 1000.0 L494.05 1002.5 L494.50 1001.5 L494.95 1003.8 L495.40 1005.4 L495.85 1003.2 L496.30 1007.3 L496.75 1008.1 L497.20 1010.7 L497.65 1014.9 L498.10 1017.3 L498.55 1019.7 L499.00 1021.3 L499.45 1023.8 L499.90 1024.3 L500.35 1025.0 L500.80 1024.9 L501.25 1025.3 L501.70 1026.1 L502.15 1026.0 L502.60 1025.7 L503.05 1025.5 L503.50 1025.5 L503.95 1019.6 L504.40 1011.6 L504.85 1001.9 L505.30 998.0 L505.75 994.7 L506.20 996.2 L506.65 997.2 L507.10 995.8 L507.55 994.9 L508.00 994.9 L508.45 994.0 L508.90 995.8 L509.35 997.0 L509.80 996.6 L510.25 997.0 L510.70 996.5 L511.15 996.4 L511.60 990.8 L512.05 989.1 L512.50 987.7 L512.95 986.6 L513.40 981.1 L513.85 982.6 L514.30 981.4 L514.75 979.0 L515.20 979.6 L515.65 977.1 L516.10 974.8 L516.55 969.8 L517.00 962.4 L517.45 958.7 L517.90 958.3 L518.35 954.5 L518.80 952.0 L519.25 951.5 L519.70 951.8 L520.15 953.9 L520.60 954.1 L521.05 949.5 L521.50 949.5 L521.95 948.4 L522.40 946.6 L522.85 943.4 L523.30 941.9 L523.75 942.6 L524.20 940.6 L524.65 942.3 L525.10 940.1 L525.55 933.3 L526.00 931.0 L526.45 926.6 L526.90 924.2 L527.35 921.3 L527.80 918.5 L528.25 915.9 L528.70 916.2 L529.15 918.2 L529.60 916.2 L530.05 917.1 L530.50 918.7 L530.95 916.5 L531.40 914.2 L531.85 914.8 L532.30 914.6 L532.75 912.1 L533.20 912.0 L533.65 910.3 L534.10 905.5 L534.55 903.0 L535.00 900.8 L535.45 897.0 L535.90 898.6 L536.35 897.4 L536.80 897.8 L537.25 895.0 L537.70 891.8 L538.15 892.2 L538.60 885.9 L539.05 883.1 L539.50 879.0 L539.95 875.6 L540.40 872.2 L540.85 870.0 L541.30 867.4 L541.75 865.8 L542.20 864.9 L542.65 863.3 L543.10 859.7 L543.55 855.0 L544.00 853.1 L544.45 849.3 L544.90 846.4 L545.35 841.6 L545.80 841.6 L546.25 837.7 L546.70 837.7 L547.15 834.1 L547.60 829.7 L548.05 827.2 L548.50 827.4 L548.95 822.2 L549.40 821.4 L549.85 817.5 L550.30 817.8 L550.75 812.9 L551.20 812.0 L551.65 809.1 L552.10 803.5 L552.55 800.1 L553.00 798.8 L553.45 793.6 L553.90 790.7 L554.35 791.4 L554.80 791.1 L555.25 785.7 L555.70 783.1 L556.15 776.6 L556.60 773.7 L557.05 766.9 L557.50 764.3 L557.95 758.7 L558.40 753.2 L558.85 749.2 L559.30 744.9 L559.75 740.8 L560.20 738.2 L560.65 735.8 L561.10 731.0 L561.55 728.2 L562.00 724.5 L562.45 720.7 L562.90 717.0 L563.35 714.3 L563.80 711.1 L564.25 708.8 L564.70 703.5 L565.15 699.9 L565.60 695.9 L566.05 691.7 L566.50 687.1 L566.95 682.7 L567.40 678.5 L567.85 671.5 L568.30 666.7 L568.75 661.8 L569.20 656.2 L569.65 649.7 L570.10 647.2 L570.55 643.1 L571.00 639.3 L571.45 634.1 L571.90 632.9 L572.35 628.4 L572.80 626.5 L573.25 622.1 L573.70 617.6 L574.15 609.5 L574.60 602.4 L575.05 597.8 L575.50 591.4 L575.95 584.4 L576.40 579.5 L576.85 572.6 L577.30 565.1 L577.75 559.7 L578.20 554.0 L578.65 548.9 L579.10 544.4 L579.55 539.8 L580.00 536.7 L580.45 534.1 L580.90 530.3 L581.35 526.8 L581.80 523.2 L582.25 519.3 L582.70 513.4 L583.15 509.4 L583.60 501.2 L584.05 493.3 L584.50 483.6 L584.95 476.8 L585.40 469.0 L585.85 460.9 L586.30 453.9 L586.75 445.3 L587.20 439.2 L587.65 430.8 L588.10 423.5 L588.55 418.0 L589.00 411.8 L589.45 406.8 L589.90 400.5 L590.35 395.2 L590.80 388.9 L591.25 385.2 L591.70 380.4 L592.15 373.7 L592.60 367.5 L593.05 362.0 L593.50 356.4 L593.95 352.0 L594.40 345.5 L594.85 340.3 L595.30 333.5 L595.75 327.0 L596.20 322.4 L596.65 316.3 L597.10 314.0 L597.55 310.7 L598.00 311.0 L598.45 309.5 L598.90 306.5 L599.35 305.0 L599.80 301.7 L600.25 299.1 L600.70 296.1 L601.15 292.7 L601.60 289.5 L602.05 284.0 L602.50 266.9 L602.95 247.8 L603.40 236.7 L603.85 228.0 L604.30 223.5 L604.75 218.7 L605.20 215.1 L605.65 211.4 L606.10 213.1 L606.55 213.8 L607.00 212.0 L607.45 213.3 L607.90 210.4 L608.35 206.4 L608.80 204.6 L609.25 203.1 L609.70 201.5 L610.15 201.0 L610.60 197.9 L611.05 197.1 L611.50 197.2 L611.95 196.6 L612.40 195.7 L612.85 194.7 L613.30 193.1 L613.75 191.5 L614.20 190.8 L614.65 187.2 L615.10 188.7 L615.55 185.7 L616.00 183.8 L616.45 184.2 L616.90 183.5 L617.35 185.5 L617.80 186.0 L618.25 187.8 L618.70 188.6 L619.15 189.6 L619.60 189.3 L620.05 190.3 L620.50 191.0 L620.95 190.6 L621.40 192.7 L621.85 193.1 L622.30 193.3 L622.75 196.6 L623.20 198.5 L623.65 198.6 L624.10 202.5 L624.55 205.8 L625.00 208.6 L625.45 210.7 L625.90 213.4 L626.35 218.4 L626.80 224.8 L627.25 233.3 L627.70 242.6 L628.15 251.5 L628.60 257.4 L629.05 263.6 L629.50 270.9 L629.95 273.5 L630.40 278.5 L630.85 282.3 L631.30 285.7 L631.75 288.1 L632.20 292.1 L632.65 294.4 L633.10 297.6 L633.55 300.9 L634.00 301.8 L634.45 304.3 L634.90 305.6 L635.35 308.7 L635.80 311.7 L636.25 312.5 L636.70 313.3 L637.15 315.3 L637.60 316.8 L638.05 318.9 L638.50 322.5 L638.95 328.4 L639.40 331.3 L639.85 336.8 L640.30 341.4 L640.75 347.6 L641.20 351.7 L641.65 358.1 L642.10 363.0 L642.55 368.5 L643.00 372.9 L643.45 380.2 L643.90 384.9 L644.35 390.0 L644.80 394.7 L645.25 399.4 L645.70 403.8 L646.15 410.5 L646.60 414.9 L647.05 418.6 L647.50 421.1 L647.95 423.8 L648.40 425.5 L648.85 428.5 L649.30 430.3 L649.75 431.6 L650.20 433.3 L650.65 435.9 L651.10 437.2 L651.55 439.7 L652.00 441.6 L652.45 443.4 L652.90 443.8 L653.35 444.0 L653.80 445.2 L654.25 445.1 L654.70 447.3 L655.15 449.8 L655.60 451.4 L656.05 452.7 L656.50 456.0 L656.95 459.5 L657.40 465.8 L657.85 467.3 L658.30 471.5 L658.75 475.6 L659.20 477.0 L659.65 478.9 L660.10 479.2 L660.55 481.5 L661.00 484.5 L661.45 483.6 L661.90 485.3 L662.35 486.2 L662.80 487.6 L663.25 488.9 L663.70 490.2 L664.15 489.3 L664.60 489.5 L665.05 491.1 L665.50 492.5 L665.95 494.6 L666.40 495.2 L666.85 495.2 L667.30 495.8 L667.75 495.8 L668.20 494.7 L668.65 493.8 L669.10 494.6 L669.55 494.0 L670.00 493.1 L670.45 495.5 L670.90 493.9 L671.35 494.8 L671.80 494.9 L672.25 494.3 L672.70 492.5 L673.15 489.4 L673.60 488.1 L674.05 485.0 L674.50 483.1 L674.95 482.0 L675.40 480.4 L675.85 479.2 L676.30 477.4 L676.75 474.9 L677.20 472.4 L677.65 472.7 L678.10 472.3 L678.55 472.1 L679.00 471.4 L679.45 471.1 L679.90 472.3 L680.35 472.5 L680.80 471.2 L681.25 472.4 L681.70 471.9 L682.15 471.8 L682.60 472.5 L683.05 471.9 L683.50 470.9 L683.95 470.7 L684.40 468.5 L684.85 468.9 L685.30 469.2 L685.75 468.3 L686.20 468.4 L686.65 466.8 L687.10 463.2 L687.55 460.3 L688.00 457.7 L688.45 455.1 L688.90 452.7 L689.35 452.1 L689.80 451.2 L690.25 448.8 L690.70 445.1 L691.15 441.7 L691.60 438.7 L692.05 434.8 L692.50 433.7 L692.95 428.7 L693.40 426.3 L693.85 423.1 L694.30 420.4 L694.75 416.5 L695.20 412.5 L695.65 410.9 L696.10 405.9 L696.55 401.8 L697.00 396.9 L697.45 390.8 L697.90 382.2 L698.35 373.8 L698.80 365.4 L699.25 357.9 L699.70 350.5 L700.15 342.4 L700.60 334.5 L701.05 329.4 L701.50 323.8 L701.95 322.7 L702.40 319.5 L702.85 317.5 L703.30 315.2 L703.75 316.0 L704.20 312.3 L704.65 311.3 L705.10 309.2 L705.55 305.8 L706.00 300.9 L706.45 293.4 L706.90 286.5 L707.35 277.0 L707.80 268.3 L708.25 259.4 L708.70 250.8 L709.15 241.5 L709.60 231.5 L710.05 222.6 L710.50 213.9 L710.95 206.8 L711.40 199.0 L711.85 195.4 L712.30 194.6 L712.75 192.4 L713.20 191.6 L713.65 187.8 L714.10 173.6 L714.55 153.3 L715.00 147.9 L715.45 143.4 L715.90 141.4 L716.35 139.8 L716.80 139.3 L717.25 138.8 L717.70 136.6 L718.15 137.4 L718.60 138.3 L719.05 140.2 L719.50 142.6 L719.95 145.4 L720.40 148.1 L720.85 152.3 L721.30 157.8 L721.75 161.0 L722.20 166.5 L722.65 171.0 L723.10 172.5 L723.55 177.1 L724.00 180.6 L724.45 186.7 L724.90 192.9 L725.35 199.4 L725.80 207.8 L726.25 214.9 L726.70 222.6 L727.15 230.3 L727.60 238.1 L728.05 246.6 L728.50 255.5 L728.95 266.3 L729.40 280.5 L729.85 294.5 L730.30 308.6 L730.75 325.0 L731.20 338.6 L731.65 351.5 L732.10 365.2 L732.55 380.1 L733.00 396.2 L733.45 411.8 L733.90 426.0 L734.35 441.5 L734.80 456.9 L735.25 472.9 L735.70 486.4 L736.15 503.6 L736.60 519.9 L737.05 536.9 L737.50 554.3 L737.95 571.6 L738.40 589.5 L738.85 604.4 L739.30 618.0 L739.75 628.3 L740.20 639.5 L740.65 652.1 L741.10 668.0 L741.55 686.9 L742.00 703.0 L742.45 720.0 L742.90 733.5 L743.35 743.6 L743.80 755.2 L744.25 764.5 L744.70 770.9 L745.15 776.8 L745.60 785.2 L746.05 790.9 L746.50 797.1 L746.95 800.9 L747.40 809.2 L747.85 813.5 L748.30 822.9 L748.75 832.2 L749.20 838.3 L749.65 846.2 L750.10 854.0 L750.55 862.3 L751.00 869.0 L751.45 874.0 L751.90 881.9 L752.35 888.1 L752.80 894.3 L753.25 900.5 L753.70 905.1 L754.15 911.3 L754.60 916.5 L755.05 922.6 L755.50 927.1 L755.95 930.5 L756.40 937.2 L756.85 944.0 L757.30 948.7 L757.75 952.5 L758.20 958.9 L758.65 964.0 L759.10 970.7 L759.55 977.3 L760.00 984.9 L760.45 992.6 L760.90 999.1 L761.35 1006.6 L761.80 1017.7 L762.25 1027.8 L762.70 1035.2 L763.15 1040.5 L763.60 1045.5 L764.05 1049.4 L764.50 1054.4 L764.95 1057.5 L765.40 1060.6 L765.85 1062.5 L766.30 1064.7 L766.75 1065.3 L767.20 1066.6 L767.65 1068.2 L768.10 1070.9 L768.55 1072.2 L769.00 1073.3 L769.45 1076.0 L769.90 1077.8 L770.35 1079.3 L770.80 1080.5 L771.25 1083.0 L771.70 1085.2 L772.15 1088.3 L772.60 1092.2 L773.05 1096.7 L773.50 1101.1 L773.95 1104.5 L774.40 1107.1 L774.85 1109.1 L775.30 1110.6 L775.75 1111.2 L776.20 1111.6 L776.65 1108.1 L777.10 1110.5 L777.55 1109.1 L778.00 1110.6 L778.45 1111.8 L778.90 1110.2 L779.35 1109.4 L779.80 1112.6 L780.25 1113.8 L780.70 1114.8 L781.15 1117.3 L781.60 1118.0 L782.05 1121.5 L782.50 1122.2 L782.95 1121.9 L783.40 1122.0 L783.85 1123.2 L784.30 1125.0 L784.75 1125.3 L785.20 1128.2 L785.65 1129.1 L786.10 1130.2 L786.55 1132.5 L787.00 1133.7 L787.45 1134.8 L787.90 1133.6 L788.35 1134.2 L788.80 1132.5 L789.25 1133.0 L789.70 1132.6 L790.15 1133.2 L790.60 1135.4 L791.05 1135.8 L791.50 1137.2 L791.95 1138.8 L792.40 1139.9 L792.85 1140.2 L793.30 1141.8 L793.75 1142.5 L794.20 1143.0 L794.65 1144.1 L795.10 1143.9 L795.55 1143.8 L796.00 1144.0 L796.45 1144.6 L796.90 1146.9 L797.35 1146.0 L797.80 1148.0 L798.25 1147.6 L798.70 1150.1 L799.15 1149.2 L799.60 1149.9 L800.05 1155.7 L800.50 1157.6 L800.95 1151.6 L801.40 1161.9 L801.85 1134.9 L802.30 1109.4 L802.75 1079.1 L803.20 1052.6 L803.65 1052.4 L804.10 1079.6 L804.55 1113.1 L805.00 1132.1 L805.45 1161.3 L805.90 1156.7 L806.35 1156.9 L806.80 1153.0 L807.25 1151.7 L807.70 1152.1 L808.15 1153.7 L808.60 1151.0 L809.05 1158.2 L809.50 1159.8 L809.95 1156.9 L810.40 1157.0 L810.85 1157.6 L811.30 1168.2 L811.75 1165.1 L812.20 1168.0 L812.65 1167.5 L813.10 1165.9 L813.55 1163.8 L814.00 1171.7 L814.45 1159.0 L814.90 1164.1 L815.35 1160.8 L815.80 1157.8 L816.25 1151.5 L816.70 1155.3 L817.15 1165.8 L817.60 1162.3 L818.05 1170.3 L818.50 1169.8 L818.95 1169.7 L819.40 1170.6 L819.85 1163.6 L820.30 1164.8 L820.75 1167.6 L821.20 1159.2 L821.65 1168.4 L822.10 1160.3 L822.55 1161.9 L823.00 1158.2 L823.45 1163.1 L823.90 1159.3 L824.35 1161.2 L824.80 1158.2 L825.25 1166.4 L825.70 1153.8 L826.15 1158.7 L826.60 1155.5 L827.05 1154.3 L827.50 1152.3 L827.95 1162.9 L828.40 1165.9 L828.85 1165.9 L829.30 1166.5 L829.75 1164.9 L830.20 1167.8 L830.65 1162.4 L831.10 1165.5 L831.55 1163.1 L832.00 1154.7 L832.45 1149.0 L832.90 1160.7 L833.35 1163.3 L833.80 1171.0 L834.25 1168.9 L834.70 1163.3 L835.15 1156.6 L835.60 1157.5 L836.05 1152.7 L836.50 1152.2 L836.95 1157.2 L837.40 1162.8 L837.85 1160.6 L838.30 1156.6 L838.75 1161.7 L839.20 1156.7 L839.65 1155.6 L840.10 1167.2 L840.55 1167.6 L841.00 1177.8 L841.45 1178.0 L841.90 1167.8 L842.35 1165.4 L842.80 1163.2 L843.25 1152.8 L843.70 1153.4 L844.15 1158.5 L844.60 1161.6 L845.05 1163.6 L845.50 1163.9 L845.95 1170.7 L846.40 1173.8 L846.85 1169.0 L847.30 1172.2 L847.75 1171.7 L848.20 1173.5 L848.65 1166.1 L849.10 1166.8 L849.55 1171.0 L850.00 1171.2 L850.45 1172.7 L850.90 1172.6 L851.35 1162.6 L851.80 1161.3 L852.25 1153.4 L852.70 1154.2 L853.15 1150.1 L853.60 1147.7 L854.05 1148.2 L854.50 1152.6 L854.95 1160.7 L855.40 1167.4 L855.85 1163.4 L856.30 1169.0 L856.75 1154.1 L857.20 1159.6 L857.65 1158.5 L858.10 1155.0 L858.55 1158.0 L859.00 1157.5 L859.45 1164.7 L859.90 1148.5 L860.35 1155.0 L860.80 1150.1 L861.25 1156.8 L861.70 1164.6 L862.15 1168.0 L862.60 1169.9 L863.05 1171.7 L863.50 1167.7 L863.95 1174.5 L864.40 1172.0 L864.85 1166.1 L865.30 1161.8 L865.75 1161.5 L866.20 1164.9 L866.65 1155.0 L867.10 1148.2 L867.55 1131.6 L868.00 1125.0 L868.45 1122.8 L868.90 1111.2 L869.35 1122.6 L869.80 1124.6 L870.25 1137.5 L870.70 1149.1 L871.15 1158.2 L871.60 1161.2 L872.05 1156.4 L872.50 1168.4 L872.95 1163.4 L873.40 1158.0 L873.85 1167.3 L874.30 1163.2 L874.75 1165.1 L875.20 1161.3 L875.65 1159.0 L876.10 1160.4 L876.55 1165.7 L877.00 1168.7 L877.45 1168.8 L877.90 1168.8 L878.35 1170.3 L878.80 1166.4 L879.25 1168.4 L879.70 1167.7 L880.15 1163.6 L880.60 1161.1 L881.05 1159.1 L881.50 1158.6 L881.95 1159.6 L882.40 1172.2 L882.85 1169.2 L883.30 1164.5 L883.75 1169.3 L884.20 1164.4 L884.65 1158.8 L885.10 1163.7 L885.55 1160.9 L886.00 1164.4 L886.45 1171.1 L886.90 1168.5 L887.35 1163.9 L887.80 1167.6 L888.25 1169.8 L888.70 1166.9 L889.15 1167.6 L889.60 1177.7 L890.05 1171.0 L890.50 1164.0 L890.95 1165.9 L891.40 1170.2 L891.85 1161.7 L892.30 1166.7 L892.75 1159.3 L893.20 1168.9 L893.65 1178.4 L894.10 1169.9 L894.55 1173.5 L895.00 1167.8 L895.45 1165.0 L895.90 1169.0 L896.35 1160.5 L896.80 1160.0 L897.25 1161.5 L897.70 1161.1 L898.15 1151.7 L898.60 1156.5 L899.05 1147.4 L899.50 1143.2 L899.95 1143.2 L900.40 1145.5 L900.85 1158.1 L901.30 1158.0 L901.75 1164.4 L902.20 1160.4 L902.65 1161.6 L903.10 1162.0 L903.55 1155.3 L904.00 1154.3 L904.45 1154.8 L904.90 1158.9 L905.35 1157.6 L905.80 1158.1 L906.25 1156.0 L906.70 1159.1 L907.15 1162.4 L907.60 1158.4 L908.05 1160.2 L908.50 1160.5 L908.95 1151.0 L909.40 1157.7 L909.85 1159.7 L910.30 1163.9 L910.75 1163.0 L911.20 1170.7 L911.65 1167.6 L912.10 1169.8 L912.55 1176.9 L913.00 1166.5 L913.45 1171.4 L913.90 1170.3 L914.35 1169.6 L914.80 1167.1 L915.25 1170.5 L915.70 1163.5 L916.15 1161.7 L916.60 1167.3 L917.05 1160.3 L917.50 1164.6 L917.95 1162.0 L918.40 1158.1 L918.85 1158.3 L919.30 1160.0 L919.75 1162.7 L920.20 1159.7 L920.65 1162.1 L921.10 1159.1 L921.55 1164.6 L922.00 1160.1 L922.45 1168.3 L922.90 1169.0 L923.35 1180.3 L923.80 1179.5 L924.25 1175.9 L924.70 1177.8 L925.15 1173.3 L925.60 1166.1 L926.05 1159.5 L926.50 1170.1 L926.95 1165.5 L927.40 1155.0 L927.85 1162.6 L928.30 1164.1 L928.75 1158.9 L929.20 1164.8 L929.65 1156.1 L930.10 1160.6 L930.55 1160.6 L931.00 1162.4 L931.45 1160.2 L931.90 1159.1 L932.35 1159.8 L932.80 1154.9 L933.25 1159.5 L933.70 1149.0 L934.15 1149.1 L934.60 1142.3 L935.05 1138.6 L935.50 1147.2 L935.95 1152.3 L936.40 1161.1 L936.85 1166.0 L937.30 1164.5 L937.75 1171.1 L938.20 1172.5 L938.65 1171.4 L939.10 1167.3 L939.55 1169.1 L940.00 1163.2 L940.45 1157.7 L940.90 1164.6 L941.35 1167.9 L941.80 1169.7 L942.25 1167.1 L942.70 1170.0 L943.15 1177.7 L943.60 1170.7 L944.05 1172.6 L944.50 1179.2 L944.95 1169.3 L945.40 1163.4 L945.85 1155.9 L946.30 1166.6 L946.75 1163.1 L947.20 1170.6 L947.65 1169.7 L948.10 1165.3 L948.55 1175.7 L949.00 1167.9 L949.45 1164.6 L949.90 1156.6 L950.35 1144.0 L950.80 1139.6 L951.25 1137.0 L951.70 1148.3 L952.15 1153.0 L952.60 1156.7 L953.05 1169.7 L953.50 1165.2 L953.95 1164.6 L954.40 1159.7 L954.85 1163.5 L955.30 1156.4 L955.75 1162.8 L956.20 1157.4 L956.65 1161.0 L957.10 1159.4 L957.55 1161.3 L958.00 1161.8 L958.45 1160.4 L958.90 1160.9 L959.35 1156.3 L959.80 1155.4 L960.25 1167.4 L960.70 1165.4 L961.15 1158.4 L961.60 1171.1 L962.05 1161.8 L962.50 1164.0 L962.95 1161.4 L963.40 1158.0 L963.85 1158.0 L964.30 1152.3 L964.75 1158.6 L965.20 1159.3 L965.65 1161.5 L966.10 1157.6 L966.55 1153.7 L967.00 1150.8 L967.45 1154.6 L967.90 1151.4 L968.35 1158.7 L968.80 1161.7 L969.25 1162.8 L969.70 1165.3 L970.15 1166.3 L970.60 1163.0 L971.05 1166.6 L971.50 1171.4 L971.95 1159.9 L972.40 1161.9 L972.85 1159.5 L973.30 1169.6 L973.75 1157.6 L974.20 1162.8 L974.65 1166.4 L975.10 1160.4 L975.55 1163.5 L976.00 1161.9 L976.45 1159.9 L976.90 1162.3 L977.35 1162.1 L977.80 1156.8 L978.25 1156.9 L978.70 1159.5 L979.15 1162.1 L979.60 1154.0 L980.05 1161.4 L980.50 1158.2 L980.95 1154.9 L981.40 1160.2 L981.85 1166.5 L982.30 1166.1 L982.75 1156.8 L983.20 1162.3 L983.65 1153.5 L984.10 1145.7 L984.55 1137.9 L985.00 1139.8 L985.45 1141.4 L985.90 1155.5 L986.35 1161.3 L986.80 1171.1 L987.25 1175.5 L987.70 1167.4 L988.15 1170.1 L988.60 1160.0 L989.05 1159.4 L989.50 1161.6 L989.95 1160.7 L990.40 1168.5 L990.85 1161.9 L991.30 1172.8 L991.75 1165.8 L992.20 1171.8 L992.65 1173.1 L993.10 1163.0 L993.55 1161.0 L994.00 1164.7 L994.45 1159.7 L994.90 1158.1 L995.35 1150.1 L995.80 1149.6 L996.25 1156.3 L996.70 1158.9 L997.15 1150.6 L997.60 1149.4 L998.05 1153.0 L998.50 1156.2 L998.95 1158.8 L999.40 1157.5 L999.85 1154.3 L1000.30 1168.1 L1000.75 1162.7 L1001.20 1170.6 L1001.65 1160.3 L1002.10 1167.4 L1002.55 1162.8 L1003.00 1159.4 L1003.45 1165.5 L1003.90 1166.5 L1004.35 1159.6 L1004.80 1163.9 L1005.25 1157.6 L1005.70 1158.3 L1006.15 1158.8 L1006.60 1157.5 L1007.05 1160.5 L1007.50 1155.5 L1007.95 1165.0 L1008.40 1166.6 L1008.85 1163.4 L1009.30 1155.4 L1009.75 1146.6 L1010.20 1150.4 L1010.65 1144.5 L1011.10 1151.5 L1011.55 1151.4 L1012.00 1159.3 L1012.45 1162.7 L1012.90 1162.7 L1013.35 1163.4 L1013.80 1163.1 L1014.25 1165.0 L1014.70 1156.4 L1015.15 1159.4 L1015.60 1155.1 L1016.05 1151.7 L1016.50 1155.7 L1016.95 1170.5 L1017.40 1172.2 L1017.85 1174.2 L1018.30 1170.3 L1018.75 1164.0 L1019.20 1156.1 L1019.65 1147.7 L1020.10 1153.7 L1020.55 1153.1 L1021.00 1153.2 L1021.45 1158.1 L1021.90 1149.7 L1022.35 1150.7 L1022.80 1154.4 L1023.25 1156.9 L1023.70 1160.0 L1024.15 1164.3 L1024.60 1157.7 L1025.05 1170.3 L1025.50 1166.5 L1025.95 1163.9 L1026.40 1155.5 L1026.85 1156.9 L1027.30 1161.2 L1027.75 1165.8 L1028.20 1163.5 L1028.65 1160.1 L1029.10 1164.7 L1029.55 1166.5 L1030.00 1165.4 L1030.45 1170.0 L1030.90 1161.8 L1031.35 1158.3 L1031.80 1158.9 L1032.25 1162.7 L1032.70 1154.9 L1033.15 1151.5 L1033.60 1149.6 L1034.05 1154.7 L1034.50 1152.2 L1034.95 1151.0 L1035.40 1156.2 L1035.85 1156.8 L1036.30 1154.3 L1036.75 1164.1 L1037.20 1165.4 L1037.65 1159.7 L1038.10 1158.0 L1038.55 1158.4 L1039.00 1154.4 L1039.45 1147.4 L1039.90 1145.4 L1040.35 1150.2 L1040.80 1143.1 L1041.25 1151.9 L1041.70 1149.9 L1042.15 1150.8 L1042.60 1148.8 L1043.05 1154.4 L1043.50 1143.7 L1043.95 1149.3 L1044.40 1154.1 L1044.85 1147.6 L1045.30 1150.3 L1045.75 1141.3 L1046.20 1131.8 L1046.65 1134.0 L1047.10 1127.6 L1047.55 1128.3 L1048.00 1122.4 L1048.45 1120.4 L1048.90 1120.1 L1049.35 1113.2 L1049.80 1105.7 L1050.25 1101.8 L1050.70 1109.6 L1051.15 1116.3 L1051.60 1110.0 L1052.05 1117.9 L1052.50 1104.4 L1052.95 1109.1 L1053.40 1115.7 L1053.85 1117.9 L1054.30 1109.1 L1054.75 1107.3 L1055.20 1102.9 L1055.65 1103.0 L1056.10 1100.4 L1056.55 1111.3 L1057.00 1112.2 L1057.45 1117.0 L1057.90 1119.3 L1058.35 1119.6 L1058.80 1118.8 L1059.25 1121.0 L1059.70 1113.8 L1060.15 1117.6 L1060.60 1110.0 L1061.05 1102.0 L1061.50 1110.3 L1061.95 1110.4 L1062.40 1108.8 L1062.85 1106.5 L1063.30 1111.3 L1063.75 1114.5 L1064.20 1119.4 L1064.65 1115.2 L1065.10 1109.3 L1065.55 1115.0 L1066.00 1107.3 L1066.45 1099.4 L1066.90 1094.2 L1067.35 1098.3 L1067.80 1099.8 L1068.25 1097.9 L1068.70 1099.1 L1069.15 1097.4 L1069.60 1102.3 L1070.05 1097.2 L1070.50 1098.9 L1070.95 1099.7 L1071.40 1100.3 L1071.85 1110.5 L1072.30 1097.5 L1072.75 1104.3 L1073.20 1099.9 L1073.65 1099.1 L1074.10 1105.7 L1074.55 1101.6 L1075.00 1108.6 L1075.45 1118.6 L1075.90 1109.5 L1076.35 1110.9 L1076.80 1105.7 L1077.25 1109.7 L1077.70 1100.2 L1078.15 1103.8 L1078.60 1100.3 L1079.05 1106.6 L1079.50 1101.3 L1079.95 1103.0 L1080.40 1105.1 L1080.85 1105.4 L1081.30 1114.4 L1081.75 1118.7 L1082.20 1114.1 L1082.65 1119.6 L1083.10 1114.6 L1083.55 1116.2 L1084.00 1115.2 L1084.45 1107.3 L1084.90 1109.3 L1085.35 1114.9 L1085.80 1104.3 L1086.25 1110.5 L1086.70 1107.6 L1087.15 1103.8 L1087.60 1105.7 L1088.05 1105.3 L1088.50 1107.4 L1088.95 1097.3 L1089.40 1114.1 L1089.85 1107.1 L1090.30 1109.3 L1090.75 1101.9 L1091.20 1097.0 L1091.65 1096.2 L1092.10 1110.3 L1092.55 1106.9 L1093.00 1102.4 L1093.45 1106.4 L1093.90 1108.0 L1094.35 1104.5 L1094.80 1101.1 L1095.25 1098.8 L1095.70 1097.1 L1096.15 1105.0 L1096.60 1107.4 L1097.05 1112.3 L1097.50 1100.5 L1097.95 1102.9 L1098.40 1098.4 L1098.85 1100.9 L1099.30 1092.6 L1099.75 1087.1 L1100.20 1079.9 L1100.65 1085.5 L1101.10 1084.3 L1101.55 1088.6 L1102.00 1083.4 L1102.45 1095.5 L1102.90 1084.3 L1103.35 1089.5 L1103.80 1089.8 L1104.25 1092.4 L1104.70 1083.2 L1105.15 1075.8 L1105.60 1070.9 L1106.05 1073.2 L1106.50 1070.5 L1106.95 1071.1 L1107.40 1066.8 L1107.85 1069.9 L1108.30 1068.8 L1108.75 1068.8 L1109.20 1059.9 L1109.65 1060.9 L1110.10 1067.7 L1110.55 1057.9 L1111.00 1056.9 L1111.45 1054.1 L1111.90 1053.0 L1112.35 1057.3 L1112.80 1065.3 L1113.25 1064.1 L1113.70 1073.4 L1114.15 1060.3 L1114.60 1058.4 L1115.05 1063.5 L1115.50 1059.0 L1115.95 1066.7 L1116.40 1058.6 L1116.85 1060.3 L1117.30 1051.7 L1117.75 1057.5 L1118.20 1055.8 L1118.65 1056.4 L1119.10 1051.5 L1119.55 1051.3 L1120.00 1048.9 L1120.45 1050.5 L1120.90 1045.4 L1121.35 1048.6 L1121.80 1044.3 L1122.25 1048.4 L1122.70 1042.7 L1123.15 1039.1 L1123.60 1036.8 L1124.05 1042.9 L1124.50 1033.8 L1124.95 1035.9 L1125.40 1045.4 L1125.85 1041.2 L1126.30 1042.7 L1126.75 1042.2 L1127.20 1051.8 L1127.65 1040.7 L1128.10 1039.8 L1128.55 1040.2 L1129.00 1041.7 L1129.45 1041.7 L1129.90 1031.8 L1130.35 1035.9 L1130.80 1038.6 L1131.25 1022.7 L1131.70 1031.6 L1132.15 1032.8 L1132.60 1031.0 L1133.05 1030.1 L1133.50 1021.5 L1133.95 1033.4 L1134.40 1027.1 L1134.85 1027.1 L1135.30 1034.8 L1135.75 1024.6 L1136.20 1035.3 L1136.65 1039.7 L1137.10 1037.2 L1137.55 1033.9 L1138.00 1036.2 L1138.45 1026.9 L1138.90 1025.9 L1139.35 1021.4 L1139.80 1009.7 L1140.25 1009.4 L1140.70 1022.7 L1141.15 1017.3 L1141.60 1021.1 L1142.05 1019.6 L1142.50 1024.9 L1142.95 1023.3 L1143.40 1027.6 L1143.85 1033.1 L1144.30 1025.8 L1144.75 1024.2 L1145.20 1028.9 L1145.65 1023.6 L1146.10 1023.6 L1146.55 1025.0 L1147.00 1019.2 L1147.45 1019.3 L1147.90 1011.3 L1148.35 1019.3 L1148.80 1013.9 L1149.25 1012.3 L1149.70 1004.5 L1150.15 1006.7 L1150.60 1002.7 L1151.05 997.4 L1151.50 990.4 L1151.95 992.3 L1152.40 994.5 L1152.85 991.0 L1153.30 995.3 L1153.75 997.4 L1154.20 990.9 L1154.65 993.0 L1155.10 992.0 L1155.55 998.9 L1156.00 999.3 L1156.45 1006.3 L1156.90 996.6 L1157.35 993.1 L1157.80 997.8 L1158.25 995.4 L1158.70 996.8 L1159.15 1000.5 L1159.60 995.0 L1160.05 998.4 L1160.50 986.2 L1160.95 995.6 L1161.40 990.3 L1161.85 987.5 L1162.30 988.4 L1162.75 997.3 L1163.20 992.3 L1163.65 1000.5 L1164.10 992.6 L1164.55 993.2 L1165.00 993.1 L1165.45 998.1 L1165.90 991.9 L1166.35 992.1 L1166.80 991.3 L1167.25 991.2 L1167.70 993.4 L1168.15 1005.4 L1168.60 1007.5 L1169.05 1002.3 L1169.50 1003.3 L1169.95 996.3 L1170.40 1001.6 L1170.85 998.4 L1171.30 993.9 L1171.75 988.2 L1172.20 991.5 L1172.65 989.1 L1173.10 989.2 L1173.55 995.4 L1174.00 990.7 L1174.45 996.2 L1174.90 996.9 L1175.35 1002.6 L1175.80 1010.0 L1176.25 1005.2 L1176.70 1003.7 L1177.15 993.6 L1177.60 986.0 L1178.05 985.6 L1178.50 986.1 L1178.95 991.3 L1179.40 991.6 L1179.85 986.4 L1180.30 977.7 L1180.75 984.8 L1181.20 977.6 L1181.65 974.1 L1182.10 969.8 L1182.55 969.1 L1183.00 967.1 L1183.45 964.7 L1183.90 970.7 L1184.35 957.9 L1184.80 961.2 L1185.25 956.0 L1185.70 957.5 L1186.15 962.1 L1186.60 964.1 L1187.05 958.5 L1187.50 966.4 L1187.95 958.0 L1188.40 963.9 L1188.85 959.7 L1189.30 965.3 L1189.75 966.2 L1190.20 965.2 L1190.65 969.6 L1191.10 961.1 L1191.55 959.3 L1192.00 960.7 L1192.45 964.8 L1192.90 953.6 L1193.35 950.5 L1193.80 955.1 L1194.25 946.2 L1194.70 946.6 L1195.15 943.5 L1195.60 948.1 L1196.05 950.8 L1196.50 950.4 L1196.95 955.3 L1197.40 955.7 L1197.85 960.2 L1198.30 960.8 L1198.75 958.7 L1199.20 963.8 L1199.65 968.1 L1200.10 959.9 L1200.55 951.7 L1201.00 954.1 L1201.45 950.2 L1201.90 959.7 L1202.35 952.6 L1202.80 945.3 L1203.25 948.4 L1203.70 956.3 L1204.15 948.8 L1204.60 953.2 L1205.05 956.4 L1205.50 952.5 L1205.95 947.6 L1206.40 946.9 L1206.85 938.3 L1207.30 940.4 L1207.75 939.5 L1208.20 939.7 L1208.65 938.7 L1209.10 937.7 L1209.55 934.4 L1210.00 932.0 L1210.45 933.1 L1210.90 936.1 L1211.35 937.3 L1211.80 930.8 L1212.25 937.2 L1212.70 942.8 L1213.15 943.0 L1213.60 949.6 L1214.05 949.9 L1214.50 946.2 L1214.95 933.6 L1215.40 934.9 L1215.85 926.6 L1216.30 927.7 L1216.75 931.3 L1217.20 938.0 L1217.65 939.5 L1218.10 934.7 L1218.55 934.6 L1219.00 927.8 L1219.45 923.0 L1219.90 923.1 L1220.35 932.1 L1220.80 934.1 L1221.25 937.0 L1221.70 938.3 L1222.15 943.6 L1222.60 937.1 L1223.05 938.4 L1223.50 946.4 L1223.95 940.5 L1224.40 934.9 L1224.85 927.3 L1225.30 933.1 L1225.75 936.4 L1226.20 938.9 L1226.65 941.2 L1227.10 939.7 L1227.55 944.6 L1228.00 936.2 L1228.45 939.5 L1228.90 937.6 L1229.35 942.4 L1229.80 939.9 L1230.25 942.0 L1230.70 941.4 L1231.15 956.6 L1231.60 947.7 L1232.05 944.0 L1232.50 945.2 L1232.95 942.4 L1233.40 945.1 L1233.85 944.4 L1234.30 940.7 L1234.75 937.0 L1235.20 933.6 L1235.65 940.3 L1236.10 938.0 L1236.55 922.8 L1237.00 933.1 L1237.45 929.3 L1237.90 930.7 L1238.35 938.0 L1238.80 927.6 L1239.25 927.9 L1239.70 942.6 L1240.15 934.1 L1240.60 937.1 L1241.05 943.8 L1241.50 936.6 L1241.95 937.4 L1242.40 936.9 L1242.85 940.6 L1243.30 934.4 L1243.75 942.0 L1244.20 949.3 L1244.65 957.1 L1245.10 950.2 L1245.55 952.9 L1246.00 948.1 L1246.45 947.0 L1246.90 949.9 L1247.35 941.3 L1247.80 949.7 L1248.25 937.5 L1248.70 940.2 L1249.15 938.7 L1249.60 930.3 L1250.05 930.7 L1250.50 941.2 L1250.95 938.6 L1251.40 943.8 L1251.85 946.8 L1252.30 939.3 L1252.75 941.4 L1253.20 934.5 L1253.65 927.8 L1254.10 931.4 L1254.55 928.5 L1255.00 937.2 L1255.45 933.2 L1255.90 944.2 L1256.35 938.4 L1256.80 941.0 L1257.25 948.9 L1257.70 944.3 L1258.15 935.7 L1258.60 938.5 L1259.05 933.9 L1259.50 934.7 L1259.95 937.6 L1260.40 938.3 L1260.85 940.4 L1261.30 938.7 L1261.75 938.4 L1262.20 937.1 L1262.65 943.3 L1263.10 936.7 L1263.55 947.9 L1264.00 950.5 L1264.45 951.8 L1264.90 942.7 L1265.35 950.0 L1265.80 945.7 L1266.25 944.8 L1266.70 953.2 L1267.15 942.4 L1267.60 944.1 L1268.05 937.9 L1268.50 934.6 L1268.95 943.9 L1269.40 944.6 L1269.85 945.6 L1270.30 943.2 L1270.75 933.9 L1271.20 941.4 L1271.65 943.4 L1272.10 946.5 L1272.55 939.0 L1273.00 940.7 L1273.45 942.4 L1273.90 939.5 L1274.35 933.0 L1274.80 933.3 L1275.25 938.6 L1275.70 927.8 L1276.15 923.6 L1276.60 928.0 L1277.05 925.9 L1277.50 929.5 L1277.95 923.6 L1278.40 924.9 L1278.85 921.9 L1279.30 921.5 L1279.75 926.3 L1280.20 925.5 L1280.65 925.1 L1281.10 928.6 L1281.55 925.2 L1282.00 929.7 L1282.45 932.0 L1282.90 937.8 L1283.35 929.0 L1283.80 936.8 L1284.25 941.6 L1284.70 936.4 L1285.15 937.4 L1285.60 938.1 L1286.05 936.0 L1286.50 926.7 L1286.95 927.3 L1287.40 920.3 L1287.85 931.6 L1288.30 929.2 L1288.75 932.6 L1289.20 927.2 L1289.65 922.3 L1290.10 931.2 L1290.55 923.4 L1291.00 929.0 L1291.45 929.0 L1291.90 932.7 L1292.35 933.4 L1292.80 928.8 L1293.25 927.8 L1293.70 930.1 L1294.15 927.9 L1294.60 933.2 L1295.05 930.8 L1295.50 933.1 L1295.95 936.2 L1296.40 922.3 L1296.85 922.2 L1297.30 927.6 L1297.75 928.9 L1298.20 927.6 L1298.65 924.3 L1299.10 942.0 L1299.55 935.5 L1300.00 933.3 L1300.45 930.3 L1300.90 939.2 L1301.35 930.4 L1301.80 924.3 L1302.25 916.5 L1302.70 922.9 L1303.15 924.9 L1303.60 920.3 L1304.05 941.3 L1304.50 930.4 L1304.95 924.7 L1305.40 919.5 L1305.85 918.7 L1306.30 933.3 L1306.75 929.5 L1307.20 926.8 L1307.65 937.9 L1308.10 935.1 L1308.55 933.8 L1309.00 930.0 L1309.45 928.4 L1309.90 927.8 L1310.35 924.3 L1310.80 918.0 L1311.25 918.3 L1311.70 925.6 L1312.15 923.6 L1312.60 932.7 L1313.05 935.9 L1313.50 942.9 L1313.95 944.1 L1314.40 945.8 L1314.85 948.6 L1315.30 949.3 L1315.75 949.2 L1316.20 940.1 L1316.65 937.0 L1317.10 942.3 L1317.55 939.1 L1318.00 947.0 L1318.45 954.9 L1318.90 954.3 L1319.35 955.2 L1319.80 948.7 L1320.25 947.7 L1320.70 942.4 L1321.15 940.0 L1321.60 940.3 L1322.05 940.8 L1322.50 943.8 L1322.95 939.5 L1323.40 953.4 L1323.85 955.7 L1324.30 952.8 L1324.75 954.7 L1325.20 956.6 L1325.65 953.1 L1326.10 948.9 L1326.55 962.7 L1327.00 947.3 L1327.45 950.8 L1327.90 957.8 L1328.35 954.2 L1328.80 963.4 L1329.25 962.0 L1329.70 963.9 L1330.15 962.0 L1330.60 971.0 L1331.05 959.4 L1331.50 965.6 L1331.95 963.2 L1332.40 955.2 L1332.85 968.4 L1333.30 962.8 L1333.75 966.7 L1334.20 971.2 L1334.65 969.3 L1335.10 967.7 L1335.55 968.2 L1336.00 963.1 L1336.45 965.0 L1336.90 972.2 L1337.35 966.8 L1337.80 967.6 L1338.25 975.3 L1338.70 975.3 L1339.15 974.3 L1339.60 966.0 L1340.05 960.0 L1340.50 974.5 L1340.95 976.6 L1341.40 982.2 L1341.85 975.4 L1342.30 978.9 L1342.75 978.4 L1343.20 965.9 L1343.65 975.0 L1344.10 980.8 L1344.55 982.1 L1345.00 986.3 L1345.45 990.8 L1345.90 985.7 L1346.35 979.9 L1346.80 980.3 L1347.25 981.9 L1347.70 981.7 L1348.15 990.8 L1348.60 987.9 L1349.05 990.7 L1349.50 981.7 L1349.95 986.6 L1350.40 979.6 L1350.85 985.2 L1351.30 974.6 L1351.75 983.2 L1352.20 981.8 L1352.65 983.3 L1353.10 993.6 L1353.55 993.8 L1354.00 990.2 L1354.45 1000.7 L1354.90 989.0 L1355.35 990.0 L1355.80 976.7 L1356.25 978.7 L1356.70 983.0 L1357.15 987.0 L1357.60 986.7 L1358.05 989.9 L1358.50 1001.5 L1358.95 1008.7 L1359.40 1011.5 L1359.85 1014.5 L1360.30 1010.9 L1360.75 1015.9 L1361.20 1015.4 L1361.65 1015.4 L1362.10 1020.6 L1362.55 1022.5 L1363.00 1025.4 L1363.45 1024.8 L1363.90 1022.0 L1364.35 1023.6 L1364.80 1022.5 L1365.25 1017.3 L1365.70 1024.5 L1366.15 1022.2 L1366.60 1023.4 L1367.05 1029.4 L1367.50 1028.7 L1367.95 1032.1 L1368.40 1026.9 L1368.85 1028.2 L1369.30 1030.5 L1369.75 1024.7 L1370.20 1024.6 L1370.65 1019.8 L1371.10 1024.7 L1371.55 1021.4 L1372.00 1020.9 L1372.45 1016.3 L1372.90 1018.7 L1373.35 1021.4 L1373.80 1025.9 L1374.25 1030.9 L1374.70 1021.5 L1375.15 1025.5 L1375.60 1025.7 L1376.05 1034.9 L1376.50 1025.7 L1376.95 1024.3 L1377.40 1028.7 L1377.85 1021.4 L1378.30 1022.7 L1378.75 1010.1 L1379.20 1018.8 L1379.65 1007.6 L1380.10 1008.5 L1380.55 1007.7 L1381.00 1014.2 L1381.45 1017.3 L1381.90 1016.6 L1382.35 1025.8 L1382.80 1022.5 L1383.25 1026.1 L1383.70 1028.1 L1384.15 1033.2 L1384.60 1028.2 L1385.05 1030.8 L1385.50 1030.3 L1385.95 1030.2 L1386.40 1020.3 L1386.85 1030.0 L1387.30 1025.3 L1387.75 1023.1 L1388.20 1025.6 L1388.65 1018.6 L1389.10 1021.1 L1389.55 1022.9 L1390.00 1025.6 L1390.45 1019.9 L1390.90 1029.0 L1391.35 1034.0 L1391.80 1045.6 L1392.25 1047.3 L1392.70 1046.5 L1393.15 1039.7 L1393.60 1033.4 L1394.05 1030.4 L1394.50 1036.9 L1394.95 1048.7 L1395.40 1061.2 L1395.85 1053.8 L1396.30 1052.6 L1396.75 1057.9 L1397.20 1058.5 L1397.65 1055.4 L1398.10 1063.1 L1398.55 1058.3 L1399.00 1057.4 L1399.45 1053.2 L1399.90 1052.9 L1400.35 1055.5 L1400.80 1046.4 L1401.25 1048.2 L1401.70 1053.2 L1402.15 1049.4 L1402.60 1062.3 L1403.05 1055.4 L1403.50 1054.7 L1403.95 1055.9 L1404.40 1058.7 L1404.85 1052.1 L1405.30 1052.2 L1405.75 1054.2 L1406.20 1061.1 L1406.65 1060.6 L1407.10 1071.3 L1407.55 1067.3 L1408.00 1051.4 L1408.45 1059.7 L1408.90 1065.6 L1409.35 1073.9 L1409.80 1059.5 L1410.25 1066.4 L1410.70 1073.4 L1411.15 1067.7 L1411.60 1071.5 L1412.05 1070.5 L1412.50 1076.4 L1412.95 1071.6 L1413.40 1077.3 L1413.85 1073.1 L1414.30 1078.9 L1414.75 1074.7 L1415.20 1069.5 L1415.65 1067.5 L1416.10 1070.1 L1416.55 1071.3 L1417.00 1075.8 L1417.45 1078.6 L1417.90 1074.5 L1418.35 1070.2 L1418.80 1068.4 L1419.25 1066.1 L1419.70 1069.6 L1420.15 1068.8 L1420.60 1075.6 L1421.05 1068.2 L1421.50 1069.9 L1421.95 1068.2 L1422.40 1071.7 L1422.85 1070.4 L1423.30 1068.8 L1423.75 1072.4 L1424.20 1077.4 L1424.65 1068.8 L1425.10 1073.0 L1425.55 1078.7 L1426.00 1083.3 L1426.45 1090.2 L1426.90 1083.5 L1427.35 1085.7 L1427.80 1083.7 L1428.25 1083.9 L1428.70 1086.3 L1429.15 1085.0 L1429.60 1091.6 L1430.05 1094.5 L1430.50 1087.3 L1430.95 1085.1 L1431.40 1090.9 L1431.85 1084.0 L1432.30 1091.1 L1432.75 1076.2 L1433.20 1087.0 L1433.65 1084.7 L1434.10 1085.6 L1434.55 1089.5 L1435.00 1089.7 L1435.45 1084.4 L1435.90 1087.9 L1436.35 1080.1 L1436.80 1084.7 L1437.25 1083.2 L1437.70 1080.5 L1438.15 1092.9 L1438.60 1090.2 L1439.05 1096.8 L1439.50 1092.7 L1439.95 1096.3 L1440.40 1098.1 L1440.85 1095.9 L1441.30 1092.6 L1441.75 1094.8 L1442.20 1091.8 L1442.65 1088.4 L1443.10 1093.2 L1443.55 1095.9 L1444.00 1098.1 L1444.45 1105.0 L1444.90 1104.9 L1445.35 1093.8 L1445.80 1092.1 L1446.25 1086.8 L1446.70 1088.3 L1447.15 1100.1 L1447.60 1096.6 L1448.05 1102.8 L1448.50 1096.6 L1448.95 1099.0 L1449.40 1102.9 L1449.85 1102.8 L1450.30 1102.7 L1450.75 1104.0 L1451.20 1104.1 L1451.65 1107.5 L1452.10 1109.8 L1452.55 1105.4 L1453.00 1102.7 L1453.45 1099.6 L1453.90 1105.3 L1454.35 1109.7 L1454.80 1119.8 L1455.25 1112.4 L1455.70 1115.1 L1456.15 1114.3 L1456.60 1121.2 L1457.05 1115.7 L1457.50 1113.2 L1457.95 1114.0 L1458.40 1124.1 L1458.85 1118.4 L1459.30 1127.2 L1459.75 1126.1 L1460.20 1117.2 L1460.65 1119.0 L1461.10 1118.7 L1461.55 1111.6 L1462.00 1111.0 L1462.45 1112.0 L1462.90 1116.1 L1463.35 1119.3 L1463.80 1113.6 L1464.25 1123.0 L1464.70 1121.1 L1465.15 1120.0 L1465.60 1118.7 L1466.05 1123.9 L1466.50 1129.0 L1466.95 1124.9 L1467.40 1129.2 L1467.85 1127.1 L1468.30 1133.2 L1468.75 1139.0 L1469.20 1138.0 L1469.65 1141.2 L1470.10 1138.8 L1470.55 1138.9 L1471.00 1140.2 L1471.45 1139.8 L1471.90 1129.3 L1472.35 1134.7 L1472.80 1124.2 L1473.25 1134.0 L1473.70 1133.0 L1474.15 1133.7 L1474.60 1142.3 L1475.05 1138.9 L1475.50 1143.1 L1475.95 1142.7 L1476.40 1147.8 L1476.85 1141.8 L1477.30 1139.7 L1477.75 1138.2 L1478.20 1145.2 L1478.65 1133.2 L1479.10 1137.8 L1479.55 1145.5 L1480.00 1146.8 L1480.45 1144.3 L1480.90 1152.8 L1481.35 1148.7 L1481.80 1152.6 L1482.25 1149.9 L1482.70 1149.8 L1483.15 1143.5 L1483.60 1150.5 L1484.05 1142.2 L1484.50 1145.5 L1484.95 1149.7 L1485.40 1145.1 L1485.85 1147.3 L1486.30 1148.1 L1486.75 1149.9 L1487.20 1152.6 L1487.65 1146.0 L1488.10 1148.3 L1488.55 1156.3 L1489.00 1140.6 L1489.45 1144.2 L1489.90 1149.6 L1490.35 1140.4 L1490.80 1144.1 L1491.25 1144.8 L1491.70 1156.1 L1492.15 1150.0 L1492.60 1158.1 L1493.05 1155.9 L1493.50 1157.5 L1493.95 1152.8 L1494.40 1150.9 L1494.85 1154.2 L1495.30 1153.4 L1495.75 1160.1 L1496.20 1163.6 L1496.65 1166.4 L1497.10 1166.4 L1497.55 1162.1 L1498.00 1149.0 L1498.45 1146.6 L1498.90 1154.3 L1499.35 1146.9 L1499.80 1144.5 L1500.25 1149.2 L1500.70 1147.4 L1501.15 1157.3 L1501.60 1157.1 L1502.05 1166.7 L1502.50 1161.6 L1502.95 1165.2 L1503.40 1166.1 L1503.85 1167.9 L1504.30 1156.7 L1504.75 1155.6 L1505.20 1149.3 L1505.65 1145.8 L1506.10 1149.2 L1506.55 1150.5 L1507.00 1153.3 L1507.45 1146.6 L1507.90 1157.3 L1508.35 1153.3 L1508.80 1158.1 L1509.25 1155.7 L1509.70 1149.5 L1510.15 1157.1 L1510.60 1147.8 L1511.05 1150.8 L1511.50 1147.7 L1511.95 1153.3 L1512.40 1152.9 L1512.85 1153.8 L1513.30 1151.7 L1513.75 1151.9 L1514.20 1142.3 L1514.65 1141.0 L1515.10 1151.0 L1515.55 1147.9 L1516.00 1154.2 L1516.45 1151.1 L1516.90 1152.2 L1517.35 1154.1 L1517.80 1147.5 L1518.25 1145.7 L1518.70 1146.5 L1519.15 1151.1 L1519.60 1147.3 L1520.05 1150.7 L1520.50 1160.8 L1520.95 1155.6 L1521.40 1169.4 L1521.85 1169.9 L1522.30 1159.7 L1522.75 1153.4 L1523.20 1149.8 L1523.65 1157.4 L1524.10 1157.5 L1524.55 1164.3 L1525.00 1162.7 L1525.45 1167.8 L1525.90 1163.2 L1526.35 1154.4 L1526.80 1155.0 L1527.25 1150.6 L1527.70 1152.2 L1528.15 1151.0 L1528.60 1151.7 L1529.05 1156.9 L1529.50 1149.1 L1529.95 1145.9 L1530.40 1147.0 L1530.85 1147.1 L1531.30 1150.7 L1531.75 1156.1 L1532.20 1159.1 L1532.65 1167.9 L1533.10 1165.5 L1533.55 1157.8 L1534.00 1162.4 L1534.45 1162.7 L1534.90 1160.2 L1535.35 1159.8 L1535.80 1167.0 L1536.25 1167.0 L1536.70 1164.1 L1537.15 1154.8 L1537.60 1161.8 L1538.05 1149.9 L1538.50 1154.0 L1538.95 1151.4 L1539.40 1155.6 L1539.85 1148.1 L1540.30 1152.2 L1540.75 1148.4 L1541.20 1161.4 L1541.65 1153.4 L1542.10 1154.9 L1542.55 1166.6 L1543.00 1162.9 L1543.45 1165.9 L1543.90 1171.1 L1544.35 1169.6 L1544.80 1169.6 L1545.25 1171.0 L1545.70 1157.8 L1546.15 1165.6 L1546.60 1161.9 L1547.05 1160.3 L1547.50 1145.4 L1547.95 1149.1 L1548.40 1149.4 L1548.85 1156.8 L1549.30 1151.8 L1549.75 1155.2 L1550.20 1149.5 L1550.65 1145.3 L1551.10 1147.6 L1551.55 1155.0 L1552.00 1166.9 L1552.45 1162.7 L1552.90 1157.2 L1553.35 1162.4 L1553.80 1164.2 L1554.25 1165.9 L1554.70 1160.8 L1555.15 1158.9 L1555.60 1148.1 L1556.05 1152.5 L1556.50 1153.4 L1556.95 1156.2 L1557.40 1153.3 L1557.85 1159.9 L1558.30 1157.7 L1558.75 1149.7 L1559.20 1144.3 L1559.65 1142.8 L1560.10 1144.7 L1560.55 1147.5 L1561.00 1142.8 L1561.45 1152.8 L1561.90 1151.8 L1562.35 1155.1 L1562.80 1162.4 L1563.25 1160.9 L1563.70 1165.8 L1564.15 1169.5 L1564.60 1162.5 L1565.05 1160.9 L1565.50 1158.0 L1565.95 1164.8 L1566.40 1163.1 L1566.85 1153.0 L1567.30 1160.2 L1567.75 1152.5 L1568.20 1148.8 L1568.65 1151.5 L1569.10 1151.8 L1569.55 1160.9 L1570.00 1154.6 L1570.45 1156.9 L1570.90 1159.9 L1571.35 1164.7 L1571.80 1169.2 L1572.25 1164.2 L1572.70 1160.9 L1573.15 1153.2 L1573.60 1155.2 L1574.05 1155.8 L1574.50 1176.7 L1574.95 1185.2 L1575.40 1171.0 L1575.85 1169.0 L1576.30 1161.8 L1576.75 1136.3 L1577.20 1118.2 L1577.65 1103.4 L1578.10 1083.3 L1578.55 1070.5 L1579.00 1090.7 L1579.45 1114.3 L1579.90 1126.3" stroke="#ff0000" stroke-width="2.8"/>
<path d="M121.00 1161.9 L121.45 1170.1 L121.90 1166.2 L122.35 1166.4 L122.80 1169.3 L123.25 1166.2 L123.70 1170.9 L124.15 1170.6 L124.60 1164.7 L125.05 1168.4 L125.50 1165.1 L125.95 1167.8 L126.40 1168.9 L126.85 1174.3 L127.30 1168.6 L127.75 1165.7 L128.20 1165.3 L128.65 1170.9 L129.10 1162.1 L129.55 1165.2 L130.00 1166.7 L130.45 1161.9 L130.90 1168.9 L131.35 1172.8 L131.80 1169.7 L132.25 1165.6 L132.70 1169.7 L133.15 1169.3 L133.60 1173.8 L134.05 1165.8 L134.50 1166.6 L134.95 1167.6 L135.40 1166.8 L135.85 1168.2 L136.30 1168.7 L136.75 1168.0 L137.20 1165.8 L137.65 1168.5 L138.10 1165.9 L138.55 1166.7 L139.00 1168.7 L139.45 1172.4 L139.90 1174.0 L140.35 1168.1 L140.80 1171.3 L141.25 1172.0 L141.70 1169.4 L142.15 1165.5 L142.60 1164.6 L143.05 1173.7 L143.50 1173.4 L143.95 1171.0 L144.40 1166.5 L144.85 1174.7 L145.30 1175.4 L145.75 1173.1 L146.20 1173.2 L146.65 1167.8 L147.10 1175.3 L147.55 1168.1 L148.00 1174.9 L148.45 1175.3 L148.90 1173.6 L149.35 1178.1 L149.80 1172.7 L150.25 1175.4 L150.70 1175.6 L151.15 1173.1 L151.60 1170.1 L152.05 1174.2 L152.50 1173.1 L152.95 1172.7 L153.40 1174.0 L153.85 1175.7 L154.30 1182.6 L154.75 1176.9 L155.20 1174.7 L155.65 1169.1 L156.10 1165.4 L156.55 1160.5 L157.00 1165.9 L157.45 1164.6 L157.90 1160.8 L158.35 1158.9 L158.80 1161.7 L159.25 1160.7 L159.70 1158.5 L160.15 1164.4 L160.60 1165.1 L161.05 1165.4 L161.50 1166.6 L161.95 1161.3 L162.40 1165.9 L162.85 1158.8 L163.30 1163.2 L163.75 1163.6 L164.20 1160.6 L164.65 1161.4 L165.10 1155.8 L165.55 1154.2 L166.00 1157.0 L166.45 1154.5 L166.90 1157.4 L167.35 1155.2 L167.80 1156.5 L168.25 1155.2 L168.70 1154.4 L169.15 1153.3 L169.60 1151.3 L170.05 1150.4 L170.50 1158.1 L170.95 1147.5 L171.40 1152.5 L171.85 1154.6 L172.30 1151.2 L172.75 1152.3 L173.20 1148.9 L173.65 1143.9 L174.10 1146.8 L174.55 1144.0 L175.00 1151.1 L175.45 1152.6 L175.90 1147.3 L176.35 1150.9 L176.80 1148.9 L177.25 1146.7 L177.70 1149.1 L178.15 1143.6 L178.60 1144.3 L179.05 1144.5 L179.50 1145.3 L179.95 1146.3 L180.40 1141.0 L180.85 1142.4 L181.30 1142.9 L181.75 1143.2 L182.20 1133.6 L182.65 1140.2 L183.10 1145.3 L183.55 1140.1 L184.00 1142.6 L184.45 1142.7 L184.90 1133.2 L185.35 1137.9 L185.80 1138.9 L186.25 1137.8 L186.70 1131.0 L187.15 1132.0 L187.60 1124.7 L188.05 1124.5 L188.50 1123.0 L188.95 1119.8 L189.40 1121.6 L189.85 1117.2 L190.30 1114.8 L190.75 1110.1 L191.20 1111.4 L191.65 1111.2 L192.10 1106.2 L192.55 1103.7 L193.00 1102.8 L193.45 1104.3 L193.90 1109.5 L194.35 1104.4 L194.80 1116.2 L195.25 1111.7 L195.70 1119.3 L196.15 1116.8 L196.60 1112.6 L197.05 1116.7 L197.50 1117.5 L197.95 1120.3 L198.40 1123.5 L198.85 1122.2 L199.30 1124.7 L199.75 1127.9 L200.20 1126.7 L200.65 1130.0 L201.10 1131.4 L201.55 1131.6 L202.00 1132.4 L202.45 1131.8 L202.90 1136.4 L203.35 1129.5 L203.80 1135.7 L204.25 1137.4 L204.70 1143.0 L205.15 1145.2 L205.60 1148.3 L206.05 1148.4 L206.50 1152.0 L206.95 1147.0 L207.40 1150.5 L207.85 1144.8 L208.30 1156.4 L208.75 1156.6 L209.20 1150.7 L209.65 1150.3 L210.10 1147.1 L210.55 1149.1 L211.00 1154.8 L211.45 1154.8 L211.90 1151.7 L212.35 1154.0 L212.80 1152.5 L213.25 1154.8 L213.70 1154.9 L214.15 1152.2 L214.60 1153.2 L215.05 1152.8 L215.50 1146.5 L215.95 1152.9 L216.40 1152.1 L216.85 1156.9 L217.30 1152.6 L217.75 1163.4 L218.20 1161.1 L218.65 1163.5 L219.10 1166.1 L219.55 1158.4 L220.00 1160.6 L220.45 1169.1 L220.90 1164.7 L221.35 1165.3 L221.80 1169.4 L222.25 1166.7 L222.70 1169.4 L223.15 1168.2 L223.60 1167.5 L224.05 1170.7 L224.50 1175.7 L224.95 1170.6 L225.40 1176.7 L225.85 1176.2 L226.30 1173.4 L226.75 1174.5 L227.20 1170.3 L227.65 1170.9 L228.10 1173.0 L228.55 1171.7 L229.00 1176.2 L229.45 1169.1 L229.90 1172.5 L230.35 1173.2 L230.80 1176.7 L231.25 1182.6 L231.70 1176.5 L232.15 1181.5 L232.60 1176.5 L233.05 1176.5 L233.50 1180.5 L233.95 1176.9 L234.40 1179.8 L234.85 1177.9 L235.30 1176.7 L235.75 1175.7 L236.20 1171.4 L236.65 1174.1 L237.10 1176.5 L237.55 1176.5 L238.00 1172.8 L238.45 1181.2 L238.90 1181.2 L239.35 1175.4 L239.80 1175.5 L240.25 1179.3 L240.70 1172.1 L241.15 1174.5 L241.60 1176.0 L242.05 1175.4 L242.50 1176.0 L242.95 1177.7 L243.40 1174.6 L243.85 1175.1 L244.30 1181.9 L244.75 1171.2 L245.20 1173.9 L245.65 1176.3 L246.10 1174.8 L246.55 1180.9 L247.00 1178.1 L247.45 1180.6 L247.90 1171.4 L248.35 1181.4 L248.80 1179.7 L249.25 1172.6 L249.70 1178.4 L250.15 1176.9 L250.60 1180.3 L251.05 1184.0 L251.50 1177.4 L251.95 1172.5 L252.40 1173.7 L252.85 1170.0 L253.30 1171.9 L253.75 1172.4 L254.20 1172.4 L254.65 1177.0 L255.10 1175.2 L255.55 1169.4 L256.00 1175.6 L256.45 1167.8 L256.90 1171.1 L257.35 1172.7 L257.80 1176.6 L258.25 1175.3 L258.70 1174.4 L259.15 1176.4 L259.60 1174.2 L260.05 1175.7 L260.50 1169.1 L260.95 1166.2 L261.40 1169.6 L261.85 1173.1 L262.30 1171.3 L262.75 1173.0 L263.20 1172.4 L263.65 1171.6 L264.10 1172.2 L264.55 1167.5 L265.00 1172.1 L265.45 1165.3 L265.90 1167.3 L266.35 1164.0 L266.80 1170.4 L267.25 1165.2 L267.70 1174.4 L268.15 1166.8 L268.60 1171.8 L269.05 1171.0 L269.50 1169.1 L269.95 1175.5 L270.40 1170.9 L270.85 1176.2 L271.30 1168.7 L271.75 1169.0 L272.20 1165.9 L272.65 1174.5 L273.10 1176.8 L273.55 1175.6 L274.00 1172.8 L274.45 1168.9 L274.90 1176.8 L275.35 1171.2 L275.80 1163.0 L276.25 1166.8 L276.70 1160.4 L277.15 1174.2 L277.60 1176.9 L278.05 1176.6 L278.50 1169.9 L278.95 1166.1 L279.40 1161.6 L279.85 1167.7 L280.30 1165.4 L280.75 1167.8 L281.20 1167.2 L281.65 1166.6 L282.10 1168.6 L282.55 1169.7 L283.00 1166.1 L283.45 1166.6 L283.90 1164.2 L284.35 1162.6 L284.80 1161.3 L285.25 1165.2 L285.70 1163.3 L286.15 1167.4 L286.60 1167.8 L287.05 1167.1 L287.50 1163.9 L287.95 1165.6 L288.40 1161.7 L288.85 1171.0 L289.30 1165.3 L289.75 1162.8 L290.20 1170.2 L290.65 1165.1 L291.10 1169.7 L291.55 1169.2 L292.00 1170.0 L292.45 1167.2 L292.90 1169.0 L293.35 1171.2 L293.80 1162.8 L294.25 1159.4 L294.70 1169.2 L295.15 1165.2 L295.60 1166.6 L296.05 1162.8 L296.50 1168.6 L296.95 1169.9 L297.40 1161.6 L297.85 1167.0 L298.30 1163.2 L298.75 1160.1 L299.20 1164.1 L299.65 1167.3 L300.10 1162.2 L300.55 1163.0 L301.00 1170.4 L301.45 1166.9 L301.90 1168.1 L302.35 1162.7 L302.80 1163.0 L303.25 1164.2 L303.70 1163.8 L304.15 1163.7 L304.60 1168.0 L305.05 1163.9 L305.50 1158.9 L305.95 1160.8 L306.40 1163.2 L306.85 1166.6 L307.30 1160.2 L307.75 1160.5 L308.20 1161.4 L308.65 1159.9 L309.10 1160.1 L309.55 1162.3 L310.00 1166.3 L310.45 1165.1 L310.90 1163.2 L311.35 1165.7 L311.80 1161.3 L312.25 1168.5 L312.70 1168.2 L313.15 1167.4 L313.60 1162.1 L314.05 1173.1 L314.50 1157.0 L314.95 1161.0 L315.40 1159.7 L315.85 1164.8 L316.30 1159.3 L316.75 1165.4 L317.20 1164.4 L317.65 1163.3 L318.10 1165.9 L318.55 1167.1 L319.00 1165.8 L319.45 1165.7 L319.90 1161.6 L320.35 1171.7 L320.80 1165.0 L321.25 1158.8 L321.70 1164.0 L322.15 1168.1 L322.60 1163.8 L323.05 1161.0 L323.50 1170.0 L323.95 1164.1 L324.40 1162.2 L324.85 1163.9 L325.30 1154.6 L325.75 1160.8 L326.20 1160.9 L326.65 1168.7 L327.10 1161.1 L327.55 1161.7 L328.00 1158.7 L328.45 1159.9 L328.90 1161.2 L329.35 1162.9 L329.80 1162.0 L330.25 1169.0 L330.70 1164.1 L331.15 1163.1 L331.60 1163.8 L332.05 1160.5 L332.50 1158.6 L332.95 1157.2 L333.40 1164.3 L333.85 1160.2 L334.30 1165.3 L334.75 1158.0 L335.20 1153.8 L335.65 1162.3 L336.10 1167.2 L336.55 1164.9 L337.00 1164.5 L337.45 1162.8 L337.90 1165.9 L338.35 1162.1 L338.80 1162.0 L339.25 1161.2 L339.70 1157.8 L340.15 1164.9 L340.60 1162.2 L341.05 1154.4 L341.50 1160.2 L341.95 1160.6 L342.40 1159.7 L342.85 1159.3 L343.30 1161.4 L343.75 1154.5 L344.20 1155.9 L344.65 1157.4 L345.10 1157.7 L345.55 1157.2 L346.00 1158.7 L346.45 1159.8 L346.90 1155.7 L347.35 1158.3 L347.80 1156.0 L348.25 1161.5 L348.70 1152.7 L349.15 1156.4 L349.60 1159.3 L350.05 1156.5 L350.50 1156.4 L350.95 1155.7 L351.40 1158.0 L351.85 1153.0 L352.30 1155.4 L352.75 1154.6 L353.20 1149.5 L353.65 1153.2 L354.10 1149.6 L354.55 1150.4 L355.00 1150.3 L355.45 1146.9 L355.90 1140.7 L356.35 1144.4 L356.80 1138.4 L357.25 1140.6 L357.70 1147.6 L358.15 1142.6 L358.60 1147.1 L359.05 1141.9 L359.50 1140.9 L359.95 1136.1 L360.40 1140.8 L360.85 1138.9 L361.30 1143.6 L361.75 1145.5 L362.20 1147.0 L362.65 1146.1 L363.10 1144.8 L363.55 1144.8 L364.00 1143.3 L364.45 1139.6 L364.90 1147.9 L365.35 1153.8 L365.80 1152.2 L366.25 1157.3 L366.70 1152.7 L367.15 1148.6 L367.60 1148.6 L368.05 1153.7 L368.50 1152.4 L368.95 1150.8 L369.40 1153.3 L369.85 1147.9 L370.30 1151.3 L370.75 1148.2 L371.20 1149.5 L371.65 1153.6 L372.10 1150.8 L372.55 1156.2 L373.00 1156.2 L373.45 1150.2 L373.90 1159.4 L374.35 1148.4 L374.80 1150.9 L375.25 1152.6 L375.70 1144.0 L376.15 1155.2 L376.60 1157.0 L377.05 1154.7 L377.50 1155.6 L377.95 1155.1 L378.40 1153.6 L378.85 1156.0 L379.30 1150.1 L379.75 1149.4 L380.20 1150.4 L380.65 1153.4 L381.10 1155.8 L381.55 1149.6 L382.00 1147.1 L382.45 1151.8 L382.90 1151.1 L383.35 1149.3 L383.80 1155.3 L384.25 1158.1 L384.70 1158.4 L385.15 1162.0 L385.60 1153.9 L386.05 1156.8 L386.50 1161.1 L386.95 1156.2 L387.40 1149.6 L387.85 1153.4 L388.30 1156.5 L388.75 1159.5 L389.20 1155.8 L389.65 1158.1 L390.10 1152.2 L390.55 1155.4 L391.00 1159.5 L391.45 1153.0 L391.90 1155.5 L392.35 1151.2 L392.80 1162.4 L393.25 1159.0 L393.70 1161.6 L394.15 1155.0 L394.60 1155.1 L395.05 1163.7 L395.50 1156.7 L395.95 1155.4 L396.40 1157.8 L396.85 1158.3 L397.30 1151.6 L397.75 1155.1 L398.20 1157.7 L398.65 1155.6 L399.10 1154.8 L399.55 1151.0 L400.00 1153.1 L400.45 1156.3 L400.90 1155.3 L401.35 1155.5 L401.80 1156.7 L402.25 1158.7 L402.70 1158.1 L403.15 1156.3 L403.60 1156.1 L404.05 1155.8 L404.50 1156.4 L404.95 1156.0 L405.40 1150.7 L405.85 1157.8 L406.30 1151.0 L406.75 1158.1 L407.20 1155.3 L407.65 1159.9 L408.10 1162.1 L408.55 1154.1 L409.00 1159.9 L409.45 1157.5 L409.90 1153.9 L410.35 1155.2 L410.80 1151.5 L411.25 1152.2 L411.70 1148.9 L412.15 1155.9 L412.60 1157.1 L413.05 1158.8 L413.50 1152.1 L413.95 1156.8 L414.40 1154.7 L414.85 1149.3 L415.30 1150.0 L415.75 1151.6 L416.20 1155.3 L416.65 1155.4 L417.10 1149.3 L417.55 1144.9 L418.00 1153.2 L418.45 1152.8 L418.90 1154.5 L419.35 1154.7 L419.80 1148.7 L420.25 1151.1 L420.70 1150.1 L421.15 1153.3 L421.60 1157.1 L422.05 1154.6 L422.50 1151.7 L422.95 1157.5 L423.40 1155.5 L423.85 1152.0 L424.30 1146.5 L424.75 1148.3 L425.20 1150.8 L425.65 1152.0 L426.10 1148.9 L426.55 1151.9 L427.00 1149.9 L427.45 1151.5 L427.90 1155.4 L428.35 1154.0 L428.80 1156.2 L429.25 1159.3 L429.70 1160.2 L430.15 1154.6 L430.60 1154.8 L431.05 1150.9 L431.50 1150.7 L431.95 1155.0 L432.40 1152.2 L432.85 1147.8 L433.30 1154.1 L433.75 1149.5 L434.20 1150.7 L434.65 1152.9 L435.10 1152.8 L435.55 1151.5 L436.00 1145.2 L436.45 1151.9 L436.90 1147.6 L437.35 1144.4 L437.80 1141.2 L438.25 1150.5 L438.70 1145.9 L439.15 1144.4 L439.60 1144.5 L440.05 1141.5 L440.50 1138.2 L440.95 1145.5 L441.40 1147.7 L441.85 1146.7 L442.30 1149.9 L442.75 1151.2 L443.20 1143.0 L443.65 1142.8 L444.10 1145.4 L444.55 1142.6 L445.00 1144.9 L445.45 1149.2 L445.90 1150.9 L446.35 1147.5 L446.80 1148.5 L447.25 1145.3 L447.70 1146.2 L448.15 1143.0 L448.60 1139.9 L449.05 1143.3 L449.50 1141.8 L449.95 1144.6 L450.40 1145.0 L450.85 1140.3 L451.30 1141.9 L451.75 1138.9 L452.20 1137.7 L452.65 1138.3 L453.10 1137.3 L453.55 1137.9 L454.00 1136.1 L454.45 1139.2 L454.90 1132.5 L455.35 1127.1 L455.80 1131.0 L456.25 1127.5 L456.70 1129.7 L457.15 1133.4 L457.60 1129.3 L458.05 1131.7 L458.50 1131.8 L458.95 1126.0 L459.40 1127.8 L459.85 1128.0 L460.30 1128.2 L460.75 1128.5 L461.20 1127.1 L461.65 1127.8 L462.10 1123.8 L462.55 1121.0 L463.00 1125.0 L463.45 1130.9 L463.90 1126.0 L464.35 1117.9 L464.80 1122.0 L465.25 1122.9 L465.70 1115.1 L466.15 1120.7 L466.60 1114.3 L467.05 1119.3 L467.50 1116.3 L467.95 1125.1 L468.40 1112.1 L468.85 1115.0 L469.30 1107.5 L469.75 1112.8 L470.20 1108.8 L470.65 1111.6 L471.10 1109.8 L471.55 1106.4 L472.00 1106.7 L472.45 1103.7 L472.90 1103.0 L473.35 1105.3 L473.80 1106.8 L474.25 1105.1 L474.70 1103.0 L475.15 1098.9 L475.60 1100.9 L476.05 1096.1 L476.50 1099.4 L476.95 1101.4 L477.40 1098.7 L477.85 1097.0 L478.30 1095.8 L478.75 1097.6 L479.20 1093.8 L479.65 1089.5 L480.10 1091.4 L480.55 1088.4 L481.00 1095.0 L481.45 1089.8 L481.90 1084.6 L482.35 1087.7 L482.80 1086.8 L483.25 1083.6 L483.70 1079.5 L484.15 1079.4 L484.60 1078.2 L485.05 1078.7 L485.50 1075.2 L485.95 1079.1 L486.40 1070.3 L486.85 1074.6 L487.30 1069.7 L487.75 1064.2 L488.20 1065.0 L488.65 1062.4 L489.10 1061.9 L489.55 1069.4 L490.00 1062.2 L490.45 1064.1 L490.90 1058.1 L491.35 1059.8 L491.80 1056.2 L492.25 1061.3 L492.70 1057.0 L493.15 1054.7 L493.60 1053.8 L494.05 1059.0 L494.50 1053.7 L494.95 1054.6 L495.40 1048.4 L495.85 1049.4 L496.30 1051.4 L496.75 1044.4 L497.20 1052.8 L497.65 1048.8 L498.10 1047.1 L498.55 1045.9 L499.00 1046.8 L499.45 1046.9 L499.90 1053.3 L500.35 1050.4 L500.80 1050.6 L501.25 1044.6 L501.70 1041.2 L502.15 1045.7 L502.60 1036.3 L503.05 1036.1 L503.50 1038.7 L503.95 1038.6 L504.40 1030.4 L504.85 1032.5 L505.30 1032.5 L505.75 1031.2 L506.20 1027.8 L506.65 1030.4 L507.10 1025.0 L507.55 1024.2 L508.00 1018.3 L508.45 1024.4 L508.90 1019.1 L509.35 1025.1 L509.80 1022.5 L510.25 1017.6 L510.70 1018.1 L511.15 1017.3 L511.60 1015.9 L512.05 1016.7 L512.50 1013.7 L512.95 1011.1 L513.40 1008.6 L513.85 1014.5 L514.30 1009.2 L514.75 1007.5 L515.20 1008.2 L515.65 1003.0 L516.10 1001.1 L516.55 1002.2 L517.00 1001.5 L517.45 998.7 L517.90 990.6 L518.35 993.6 L518.80 991.8 L519.25 991.6 L519.70 986.0 L520.15 986.0 L520.60 984.3 L521.05 980.8 L521.50 977.4 L521.95 974.6 L522.40 972.0 L522.85 968.6 L523.30 967.1 L523.75 964.5 L524.20 963.8 L524.65 959.3 L525.10 954.9 L525.55 951.4 L526.00 946.2 L526.45 951.7 L526.90 956.4 L527.35 962.5 L527.80 966.0 L528.25 966.8 L528.70 967.3 L529.15 967.8 L529.60 967.1 L530.05 967.4 L530.50 964.4 L530.95 962.5 L531.40 962.3 L531.85 960.6 L532.30 960.8 L532.75 960.7 L533.20 959.9 L533.65 957.8 L534.10 956.1 L534.55 955.3 L535.00 952.1 L535.45 950.4 L535.90 948.6 L536.35 947.4 L536.80 946.6 L537.25 948.0 L537.70 947.8 L538.15 946.0 L538.60 943.4 L539.05 943.5 L539.50 941.0 L539.95 935.2 L540.40 932.9 L540.85 933.0 L541.30 931.8 L541.75 930.7 L542.20 928.8 L542.65 926.1 L543.10 924.2 L543.55 921.8 L544.00 919.0 L544.45 916.3 L544.90 913.8 L545.35 912.5 L545.80 910.9 L546.25 909.0 L546.70 908.8 L547.15 906.4 L547.60 905.5 L548.05 904.6 L548.50 902.4 L548.95 902.5 L549.40 902.2 L549.85 900.4 L550.30 896.8 L550.75 894.7 L551.20 892.2 L551.65 890.6 L552.10 888.4 L552.55 884.8 L553.00 882.0 L553.45 877.7 L553.90 873.4 L554.35 869.9 L554.80 867.5 L555.25 863.7 L555.70 862.1 L556.15 858.7 L556.60 855.0 L557.05 850.8 L557.50 849.3 L557.95 846.0 L558.40 840.8 L558.85 838.7 L559.30 834.9 L559.75 829.3 L560.20 827.8 L560.65 824.3 L561.10 820.9 L561.55 817.1 L562.00 813.6 L562.45 810.8 L562.90 808.6 L563.35 806.3 L563.80 802.5 L564.25 800.0 L564.70 798.0 L565.15 793.3 L565.60 792.5 L566.05 789.4 L566.50 785.0 L566.95 784.0 L567.40 779.8 L567.85 778.2 L568.30 775.8 L568.75 771.1 L569.20 768.1 L569.65 765.6 L570.10 760.9 L570.55 759.2 L571.00 756.3 L571.45 754.1 L571.90 749.3 L572.35 746.9 L572.80 742.8 L573.25 736.8 L573.70 733.7 L574.15 726.8 L574.60 722.4 L575.05 715.9 L575.50 712.5 L575.95 708.3 L576.40 702.5 L576.85 697.6 L577.30 693.7 L577.75 688.0 L578.20 684.6 L578.65 682.1 L579.10 679.1 L579.55 677.2 L580.00 673.4 L580.45 670.5 L580.90 665.8 L581.35 663.2 L581.80 658.5 L582.25 656.3 L582.70 653.3 L583.15 650.2 L583.60 644.0 L584.05 640.8 L584.50 637.2 L584.95 631.8 L585.40 628.3 L585.85 623.5 L586.30 617.9 L586.75 612.9 L587.20 607.6 L587.65 603.4 L588.10 599.0 L588.55 593.3 L589.00 590.1 L589.45 582.3 L589.90 577.9 L590.35 574.0 L590.80 566.0 L591.25 562.3 L591.70 557.1 L592.15 550.0 L592.60 542.8 L593.05 537.7 L593.50 530.6 L593.95 525.3 L594.40 519.7 L594.85 511.6 L595.30 504.5 L595.75 499.0 L596.20 494.3 L596.65 489.2 L597.10 486.2 L597.55 480.7 L598.00 476.6 L598.45 470.2 L598.90 463.7 L599.35 460.0 L599.80 453.5 L600.25 445.6 L600.70 440.4 L601.15 439.4 L601.60 425.5 L602.05 426.2 L602.50 418.4 L602.95 411.8 L603.40 404.9 L603.85 399.0 L604.30 397.6 L604.75 388.5 L605.20 383.3 L605.65 379.0 L606.10 372.9 L606.55 366.8 L607.00 362.2 L607.45 356.5 L607.90 355.8 L608.35 349.2 L608.80 344.3 L609.25 346.5 L609.70 343.4 L610.15 339.5 L610.60 334.3 L611.05 331.3 L611.50 321.9 L611.95 314.1 L612.40 310.2 L612.85 309.1 L613.30 308.3 L613.75 314.4 L614.20 318.1 L614.65 311.0 L615.10 306.7 L615.55 308.3 L616.00 306.4 L616.45 305.8 L616.90 303.0 L617.35 305.6 L617.80 312.1 L618.25 320.2 L618.70 311.8 L619.15 304.9 L619.60 305.9 L620.05 305.4 L620.50 315.7 L620.95 308.4 L621.40 304.9 L621.85 316.7 L622.30 328.9 L622.75 324.7 L623.20 317.1 L623.65 309.8 L624.10 310.4 L624.55 310.4 L625.00 311.6 L625.45 314.7 L625.90 319.0 L626.35 319.4 L626.80 325.9 L627.25 328.3 L627.70 328.0 L628.15 334.8 L628.60 342.0 L629.05 346.5 L629.50 350.4 L629.95 351.2 L630.40 357.0 L630.85 364.4 L631.30 368.0 L631.75 372.6 L632.20 378.7 L632.65 383.5 L633.10 386.5 L633.55 391.0 L634.00 397.0 L634.45 399.5 L634.90 403.7 L635.35 410.3 L635.80 411.6 L636.25 417.9 L636.70 420.3 L637.15 426.9 L637.60 428.5 L638.05 436.1 L638.50 439.1 L638.95 442.5 L639.40 446.2 L639.85 451.9 L640.30 456.3 L640.75 461.1 L641.20 467.8 L641.65 472.7 L642.10 477.9 L642.55 480.3 L643.00 483.2 L643.45 486.1 L643.90 490.0 L644.35 491.5 L644.80 490.6 L645.25 493.4 L645.70 493.7 L646.15 495.4 L646.60 498.4 L647.05 501.0 L647.50 502.1 L647.95 504.0 L648.40 505.6 L648.85 507.8 L649.30 511.6 L649.75 514.2 L650.20 519.4 L650.65 522.1 L651.10 527.5 L651.55 529.3 L652.00 535.6 L652.45 537.9 L652.90 541.5 L653.35 545.2 L653.80 547.7 L654.25 548.9 L654.70 550.7 L655.15 554.7 L655.60 555.9 L656.05 556.8 L656.50 559.0 L656.95 561.8 L657.40 562.3 L657.85 564.3 L658.30 566.9 L658.75 566.7 L659.20 568.9 L659.65 569.6 L660.10 571.5 L660.55 573.3 L661.00 573.8 L661.45 576.6 L661.90 578.4 L662.35 580.8 L662.80 581.4 L663.25 582.5 L663.70 584.8 L664.15 584.3 L664.60 585.5 L665.05 586.2 L665.50 586.7 L665.95 588.6 L666.40 589.1 L666.85 587.8 L667.30 588.4 L667.75 587.6 L668.20 589.0 L668.65 588.5 L669.10 589.4 L669.55 589.7 L670.00 591.2 L670.45 590.9 L670.90 591.3 L671.35 591.4 L671.80 591.2 L672.25 588.6 L672.70 587.4 L673.15 585.4 L673.60 583.2 L674.05 580.8 L674.50 579.3 L674.95 576.8 L675.40 574.6 L675.85 575.0 L676.30 572.6 L676.75 572.4 L677.20 571.1 L677.65 571.2 L678.10 569.1 L678.55 569.7 L679.00 567.5 L679.45 567.6 L679.90 567.1 L680.35 565.0 L680.80 564.3 L681.25 562.4 L681.70 560.6 L682.15 559.8 L682.60 559.6 L683.05 559.6 L683.50 556.4 L683.95 555.7 L684.40 553.3 L684.85 553.2 L685.30 551.4 L685.75 551.0 L686.20 550.7 L686.65 549.1 L687.10 548.3 L687.55 548.0 L688.00 546.3 L688.45 544.9 L688.90 543.4 L689.35 541.9 L689.80 540.8 L690.25 537.4 L690.70 534.8 L691.15 531.6 L691.60 526.8 L692.05 521.7 L692.50 516.3 L692.95 512.2 L693.40 508.2 L693.85 505.4 L694.30 502.3 L694.75 499.7 L695.20 495.9 L695.65 491.3 L696.10 488.4 L696.55 483.0 L697.00 479.5 L697.45 475.8 L697.90 472.1 L698.35 468.7 L698.80 464.2 L699.25 460.0 L699.70 457.5 L700.15 451.9 L700.60 448.5 L701.05 445.3 L701.50 441.5 L701.95 437.1 L702.40 432.1 L702.85 427.8 L703.30 423.6 L703.75 419.9 L704.20 413.8 L704.65 407.3 L705.10 403.3 L705.55 396.3 L706.00 390.8 L706.45 385.2 L706.90 377.2 L707.35 371.3 L707.80 361.3 L708.25 354.4 L708.70 345.1 L709.15 333.4 L709.60 318.8 L710.05 305.2 L710.50 291.4 L710.95 279.1 L711.40 268.2 L711.85 261.6 L712.30 258.3 L712.75 254.1 L713.20 250.0 L713.65 246.4 L714.10 242.9 L714.55 237.4 L715.00 234.1 L715.45 229.5 L715.90 223.4 L716.35 217.8 L716.80 212.3 L717.25 204.9 L717.70 198.7 L718.15 192.1 L718.60 184.7 L719.05 176.4 L719.50 168.6 L719.95 162.1 L720.40 155.7 L720.85 149.3 L721.30 142.2 L721.75 137.5 L722.20 137.9 L722.65 138.9 L723.10 142.5 L723.55 144.4 L724.00 147.9 L724.45 152.2 L724.90 156.0 L725.35 160.8 L725.80 167.1 L726.25 174.3 L726.70 184.2 L727.15 194.7 L727.60 206.4 L728.05 218.0 L728.50 227.6 L728.95 238.6 L729.40 249.5 L729.85 262.9 L730.30 274.9 L730.75 285.6 L731.20 297.7 L731.65 309.5 L732.10 321.8 L732.55 331.7 L733.00 341.0 L733.45 347.8 L733.90 358.9 L734.35 364.6 L734.80 372.8 L735.25 382.4 L735.70 391.5 L736.15 403.9 L736.60 414.1 L737.05 427.3 L737.50 444.4 L737.95 462.6 L738.40 480.3 L738.85 499.6 L739.30 517.7 L739.75 534.4 L740.20 552.8 L740.65 569.5 L741.10 585.4 L741.55 599.6 L742.00 610.2 L742.45 619.0 L742.90 624.7 L743.35 629.3 L743.80 637.1 L744.25 644.4 L744.70 662.1 L745.15 682.8 L745.60 704.2 L746.05 725.5 L746.50 741.3 L746.95 753.2 L747.40 762.9 L747.85 773.5 L748.30 781.9 L748.75 790.3 L749.20 796.2 L749.65 805.0 L750.10 812.7 L750.55 821.2 L751.00 827.5 L751.45 834.6 L751.90 840.9 L752.35 847.8 L752.80 854.8 L753.25 862.8 L753.70 868.0 L754.15 873.6 L754.60 882.0 L755.05 887.9 L755.50 894.9 L755.95 901.0 L756.40 906.4 L756.85 911.9 L757.30 917.2 L757.75 922.9 L758.20 928.3 L758.65 935.7 L759.10 943.2 L759.55 948.1 L760.00 952.5 L760.45 956.9 L760.90 962.1 L761.35 967.5 L761.80 973.7 L762.25 978.7 L762.70 983.6 L763.15 988.9 L763.60 992.5 L764.05 998.6 L764.50 1003.0 L764.95 1008.9 L765.40 1012.9 L765.85 1016.0 L766.30 1020.5 L766.75 1025.5 L767.20 1026.7 L767.65 1030.0 L768.10 1033.4 L768.55 1036.0 L769.00 1038.9 L769.45 1042.8 L769.90 1044.9 L770.35 1047.7 L770.80 1049.8 L771.25 1051.5 L771.70 1054.3 L772.15 1055.5 L772.60 1057.6 L773.05 1057.5 L773.50 1062.2 L773.95 1064.6 L774.40 1067.4 L774.85 1069.8 L775.30 1071.2 L775.75 1073.8 L776.20 1076.3 L776.65 1079.1 L777.10 1082.2 L777.55 1084.6 L778.00 1085.4 L778.45 1085.5 L778.90 1087.1 L779.35 1089.8 L779.80 1091.2 L780.25 1091.9 L780.70 1093.9 L781.15 1096.0 L781.60 1096.6 L782.05 1099.3 L782.50 1099.5 L782.95 1102.5 L783.40 1104.3 L783.85 1105.8 L784.30 1107.8 L784.75 1109.8 L785.20 1109.5 L785.65 1112.8 L786.10 1114.7 L786.55 1115.6 L787.00 1117.5 L787.45 1117.3 L787.90 1119.4 L788.35 1121.1 L788.80 1122.1 L789.25 1124.5 L789.70 1125.4 L790.15 1124.4 L790.60 1129.5 L791.05 1130.9 L791.50 1129.1 L791.95 1134.1 L792.40 1135.2 L792.85 1134.9 L793.30 1129.5 L793.75 1136.0 L794.20 1134.3 L794.65 1133.9 L795.10 1136.4 L795.55 1137.7 L796.00 1136.4 L796.45 1136.1 L796.90 1138.6 L797.35 1137.0 L797.80 1137.7 L798.25 1136.0 L798.70 1139.1 L799.15 1143.5 L799.60 1141.8 L800.05 1142.0 L800.50 1141.6 L800.95 1141.8 L801.40 1139.3 L801.85 1149.5 L802.30 1143.9 L802.75 1142.8 L803.20 1148.9 L803.65 1148.3 L804.10 1145.9 L804.55 1142.9 L805.00 1143.3 L805.45 1151.9 L805.90 1147.1 L806.35 1146.3 L806.80 1154.4 L807.25 1148.3 L807.70 1147.7 L808.15 1152.0 L808.60 1151.6 L809.05 1155.1 L809.50 1145.9 L809.95 1151.2 L810.40 1145.4 L810.85 1152.0 L811.30 1149.3 L811.75 1150.4 L812.20 1149.7 L812.65 1153.8 L813.10 1155.6 L813.55 1150.3 L814.00 1150.8 L814.45 1151.1 L814.90 1155.0 L815.35 1150.8 L815.80 1164.2 L816.25 1153.3 L816.70 1158.9 L817.15 1154.1 L817.60 1149.4 L818.05 1148.5 L818.50 1151.6 L818.95 1150.5 L819.40 1151.6 L819.85 1150.2 L820.30 1162.1 L820.75 1163.1 L821.20 1152.4 L821.65 1158.4 L822.10 1159.9 L822.55 1155.1 L823.00 1157.2 L823.45 1162.9 L823.90 1163.1 L824.35 1156.9 L824.80 1162.2 L825.25 1155.4 L825.70 1161.6 L826.15 1154.4 L826.60 1151.5 L827.05 1159.3 L827.50 1162.0 L827.95 1159.4 L828.40 1157.8 L828.85 1155.0 L829.30 1160.8 L829.75 1153.3 L830.20 1161.5 L830.65 1156.1 L831.10 1158.3 L831.55 1156.5 L832.00 1156.9 L832.45 1163.1 L832.90 1154.5 L833.35 1158.7 L833.80 1156.3 L834.25 1162.1 L834.70 1155.5 L835.15 1159.7 L835.60 1162.5 L836.05 1166.7 L836.50 1156.6 L836.95 1157.5 L837.40 1159.9 L837.85 1164.6 L838.30 1157.6 L838.75 1163.3 L839.20 1159.3 L839.65 1158.4 L840.10 1157.1 L840.55 1162.3 L841.00 1164.7 L841.45 1161.5 L841.90 1155.5 L842.35 1159.8 L842.80 1164.0 L843.25 1163.5 L843.70 1161.4 L844.15 1164.7 L844.60 1156.3 L845.05 1156.1 L845.50 1166.3 L845.95 1160.9 L846.40 1157.9 L846.85 1157.2 L847.30 1151.3 L847.75 1161.6 L848.20 1153.2 L848.65 1153.7 L849.10 1159.5 L849.55 1164.2 L850.00 1159.3 L850.45 1162.3 L850.90 1160.6 L851.35 1162.8 L851.80 1156.1 L852.25 1166.7 L852.70 1157.2 L853.15 1161.2 L853.60 1153.1 L854.05 1164.1 L854.50 1161.2 L854.95 1166.8 L855.40 1160.0 L855.85 1164.7 L856.30 1160.3 L856.75 1160.0 L857.20 1163.6 L857.65 1157.1 L858.10 1162.0 L858.55 1165.6 L859.00 1165.4 L859.45 1163.7 L859.90 1161.8 L860.35 1158.4 L860.80 1165.9 L861.25 1160.1 L861.70 1165.2 L862.15 1159.1 L862.60 1158.5 L863.05 1157.2 L863.50 1159.7 L863.95 1157.4 L864.40 1159.9 L864.85 1158.6 L865.30 1162.4 L865.75 1162.4 L866.20 1163.1 L866.65 1159.1 L867.10 1162.3 L867.55 1161.2 L868.00 1162.5 L868.45 1160.7 L868.90 1157.4 L869.35 1162.5 L869.80 1158.6 L870.25 1161.6 L870.70 1155.2 L871.15 1163.9 L871.60 1165.4 L872.05 1161.6 L872.50 1165.0 L872.95 1161.2 L873.40 1165.4 L873.85 1163.6 L874.30 1158.6 L874.75 1162.3 L875.20 1158.1 L875.65 1162.4 L876.10 1165.0 L876.55 1165.8 L877.00 1162.4 L877.45 1161.4 L877.90 1161.9 L878.35 1159.9 L878.80 1163.1 L879.25 1165.9 L879.70 1163.3 L880.15 1164.8 L880.60 1159.5 L881.05 1159.9 L881.50 1162.3 L881.95 1167.2 L882.40 1164.1 L882.85 1165.9 L883.30 1160.8 L883.75 1164.0 L884.20 1155.8 L884.65 1163.4 L885.10 1156.8 L885.55 1167.5 L886.00 1164.6 L886.45 1165.9 L886.90 1163.0 L887.35 1160.1 L887.80 1159.3 L888.25 1162.0 L888.70 1165.7 L889.15 1162.8 L889.60 1159.1 L890.05 1158.9 L890.50 1160.1 L890.95 1163.2 L891.40 1165.1 L891.85 1163.9 L892.30 1164.8 L892.75 1159.5 L893.20 1168.2 L893.65 1163.9 L894.10 1167.2 L894.55 1163.1 L895.00 1161.4 L895.45 1161.9 L895.90 1162.0 L896.35 1159.0 L896.80 1159.3 L897.25 1165.6 L897.70 1163.0 L898.15 1159.7 L898.60 1163.7 L899.05 1160.6 L899.50 1167.2 L899.95 1160.1 L900.40 1165.7 L900.85 1162.4 L901.30 1161.5 L901.75 1158.1 L902.20 1159.9 L902.65 1159.8 L903.10 1160.9 L903.55 1166.0 L904.00 1171.8 L904.45 1163.2 L904.90 1167.0 L905.35 1163.2 L905.80 1160.2 L906.25 1165.3 L906.70 1162.8 L907.15 1164.5 L907.60 1161.7 L908.05 1162.0 L908.50 1159.2 L908.95 1160.9 L909.40 1166.7 L909.85 1155.4 L910.30 1163.5 L910.75 1167.0 L911.20 1165.1 L911.65 1165.2 L912.10 1161.7 L912.55 1165.5 L913.00 1164.8 L913.45 1160.4 L913.90 1164.6 L914.35 1159.5 L914.80 1155.3 L915.25 1164.2 L915.70 1164.6 L916.15 1161.8 L916.60 1162.3 L917.05 1161.6 L917.50 1158.3 L917.95 1167.8 L918.40 1164.7 L918.85 1172.6 L919.30 1164.7 L919.75 1165.9 L920.20 1160.0 L920.65 1166.6 L921.10 1159.6 L921.55 1163.7 L922.00 1165.1 L922.45 1164.9 L922.90 1160.6 L923.35 1160.9 L923.80 1165.6 L924.25 1167.1 L924.70 1168.0 L925.15 1163.7 L925.60 1163.5 L926.05 1169.0 L926.50 1161.5 L926.95 1164.9 L927.40 1161.3 L927.85 1157.7 L928.30 1158.3 L928.75 1162.7 L929.20 1162.0 L929.65 1163.1 L930.10 1161.0 L930.55 1160.8 L931.00 1162.7 L931.45 1160.8 L931.90 1156.2 L932.35 1159.6 L932.80 1166.0 L933.25 1158.9 L933.70 1162.4 L934.15 1159.8 L934.60 1161.3 L935.05 1156.1 L935.50 1156.0 L935.95 1162.2 L936.40 1160.0 L936.85 1161.7 L937.30 1160.3 L937.75 1163.4 L938.20 1161.1 L938.65 1161.0 L939.10 1158.0 L939.55 1156.5 L940.00 1158.9 L940.45 1164.0 L940.90 1163.9 L941.35 1163.7 L941.80 1161.1 L942.25 1159.4 L942.70 1166.2 L943.15 1164.3 L943.60 1166.1 L944.05 1162.5 L944.50 1162.3 L944.95 1165.2 L945.40 1164.6 L945.85 1158.6 L946.30 1161.5 L946.75 1156.3 L947.20 1163.1 L947.65 1162.4 L948.10 1167.9 L948.55 1166.3 L949.00 1159.6 L949.45 1161.7 L949.90 1159.3 L950.35 1161.4 L950.80 1163.8 L951.25 1162.1 L951.70 1162.3 L952.15 1157.6 L952.60 1162.6 L953.05 1160.3 L953.50 1162.1 L953.95 1163.3 L954.40 1160.4 L954.85 1162.4 L955.30 1158.7 L955.75 1163.2 L956.20 1160.5 L956.65 1158.7 L957.10 1159.7 L957.55 1156.1 L958.00 1157.7 L958.45 1157.6 L958.90 1158.3 L959.35 1158.3 L959.80 1157.3 L960.25 1159.2 L960.70 1154.1 L961.15 1160.8 L961.60 1162.5 L962.05 1163.6 L962.50 1165.0 L962.95 1162.0 L963.40 1163.0 L963.85 1161.3 L964.30 1160.5 L964.75 1161.4 L965.20 1164.4 L965.65 1155.6 L966.10 1159.0 L966.55 1161.2 L967.00 1158.0 L967.45 1162.6 L967.90 1157.9 L968.35 1160.9 L968.80 1157.1 L969.25 1162.6 L969.70 1159.8 L970.15 1164.5 L970.60 1162.3 L971.05 1160.8 L971.50 1161.8 L971.95 1162.8 L972.40 1161.8 L972.85 1160.7 L973.30 1160.1 L973.75 1160.8 L974.20 1163.3 L974.65 1159.9 L975.10 1163.5 L975.55 1159.1 L976.00 1165.7 L976.45 1164.1 L976.90 1162.2 L977.35 1161.4 L977.80 1156.3 L978.25 1160.3 L978.70 1158.9 L979.15 1155.9 L979.60 1159.0 L980.05 1162.1 L980.50 1159.9 L980.95 1159.1 L981.40 1155.7 L981.85 1160.1 L982.30 1158.3 L982.75 1161.5 L983.20 1165.6 L983.65 1153.2 L984.10 1157.2 L984.55 1158.4 L985.00 1156.7 L985.45 1162.1 L985.90 1158.4 L986.35 1164.2 L986.80 1161.4 L987.25 1160.3 L987.70 1159.0 L988.15 1161.6 L988.60 1160.7 L989.05 1163.7 L989.50 1160.7 L989.95 1162.4 L990.40 1160.6 L990.85 1160.7 L991.30 1155.5 L991.75 1160.3 L992.20 1161.5 L992.65 1156.9 L993.10 1156.1 L993.55 1159.0 L994.00 1160.2 L994.45 1154.0 L994.90 1159.4 L995.35 1160.8 L995.80 1156.9 L996.25 1157.8 L996.70 1158.9 L997.15 1157.0 L997.60 1162.0 L998.05 1162.7 L998.50 1157.9 L998.95 1163.0 L999.40 1164.1 L999.85 1157.7 L1000.30 1162.2 L1000.75 1157.9 L1001.20 1154.4 L1001.65 1155.8 L1002.10 1156.7 L1002.55 1161.1 L1003.00 1156.9 L1003.45 1155.9 L1003.90 1152.2 L1004.35 1155.5 L1004.80 1151.7 L1005.25 1153.2 L1005.70 1157.1 L1006.15 1157.8 L1006.60 1154.9 L1007.05 1156.9 L1007.50 1159.3 L1007.95 1158.6 L1008.40 1162.8 L1008.85 1162.2 L1009.30 1156.6 L1009.75 1151.7 L1010.20 1153.9 L1010.65 1158.2 L1011.10 1157.5 L1011.55 1157.8 L1012.00 1158.7 L1012.45 1155.2 L1012.90 1158.6 L1013.35 1159.6 L1013.80 1155.2 L1014.25 1154.9 L1014.70 1148.8 L1015.15 1149.4 L1015.60 1160.0 L1016.05 1157.5 L1016.50 1156.8 L1016.95 1159.0 L1017.40 1161.0 L1017.85 1162.5 L1018.30 1146.7 L1018.75 1154.3 L1019.20 1155.9 L1019.65 1147.5 L1020.10 1148.0 L1020.55 1152.9 L1021.00 1160.1 L1021.45 1158.6 L1021.90 1163.4 L1022.35 1156.6 L1022.80 1156.8 L1023.25 1156.0 L1023.70 1151.9 L1024.15 1150.9 L1024.60 1151.7 L1025.05 1141.0 L1025.50 1152.6 L1025.95 1146.2 L1026.40 1149.2 L1026.85 1153.4 L1027.30 1152.2 L1027.75 1144.9 L1028.20 1151.9 L1028.65 1152.1 L1029.10 1150.1 L1029.55 1151.3 L1030.00 1152.4 L1030.45 1147.7 L1030.90 1153.9 L1031.35 1153.3 L1031.80 1149.7 L1032.25 1152.1 L1032.70 1148.7 L1033.15 1149.5 L1033.60 1145.9 L1034.05 1150.3 L1034.50 1154.3 L1034.95 1146.8 L1035.40 1149.2 L1035.85 1149.9 L1036.30 1151.7 L1036.75 1150.6 L1037.20 1144.9 L1037.65 1152.3 L1038.10 1150.9 L1038.55 1147.9 L1039.00 1149.1 L1039.45 1146.9 L1039.90 1147.8 L1040.35 1146.5 L1040.80 1147.4 L1041.25 1149.3 L1041.70 1150.1 L1042.15 1149.6 L1042.60 1153.0 L1043.05 1150.4 L1043.50 1147.4 L1043.95 1154.6 L1044.40 1149.9 L1044.85 1154.0 L1045.30 1146.2 L1045.75 1150.7 L1046.20 1153.3 L1046.65 1150.4 L1047.10 1145.3 L1047.55 1142.1 L1048.00 1144.3 L1048.45 1147.8 L1048.90 1147.7 L1049.35 1146.1 L1049.80 1141.9 L1050.25 1138.3 L1050.70 1139.4 L1051.15 1132.1 L1051.60 1136.3 L1052.05 1136.9 L1052.50 1134.9 L1052.95 1137.7 L1053.40 1143.2 L1053.85 1143.6 L1054.30 1146.6 L1054.75 1138.1 L1055.20 1143.3 L1055.65 1146.7 L1056.10 1141.9 L1056.55 1146.2 L1057.00 1148.5 L1057.45 1141.7 L1057.90 1148.9 L1058.35 1145.6 L1058.80 1143.1 L1059.25 1141.5 L1059.70 1141.0 L1060.15 1138.6 L1060.60 1140.3 L1061.05 1143.2 L1061.50 1143.5 L1061.95 1138.1 L1062.40 1140.2 L1062.85 1141.1 L1063.30 1134.4 L1063.75 1144.9 L1064.20 1139.3 L1064.65 1137.9 L1065.10 1142.1 L1065.55 1143.0 L1066.00 1134.0 L1066.45 1133.8 L1066.90 1132.7 L1067.35 1134.0 L1067.80 1134.8 L1068.25 1133.9 L1068.70 1131.4 L1069.15 1140.6 L1069.60 1133.2 L1070.05 1131.9 L1070.50 1137.3 L1070.95 1134.3 L1071.40 1139.1 L1071.85 1137.8 L1072.30 1137.8 L1072.75 1133.1 L1073.20 1135.5 L1073.65 1128.4 L1074.10 1128.3 L1074.55 1132.0 L1075.00 1131.7 L1075.45 1137.3 L1075.90 1133.5 L1076.35 1128.5 L1076.80 1132.7 L1077.25 1130.6 L1077.70 1131.7 L1078.15 1128.4 L1078.60 1130.2 L1079.05 1133.2 L1079.50 1135.3 L1079.95 1134.5 L1080.40 1135.6 L1080.85 1128.2 L1081.30 1130.5 L1081.75 1130.5 L1082.20 1131.8 L1082.65 1129.3 L1083.10 1127.4 L1083.55 1127.5 L1084.00 1127.9 L1084.45 1124.3 L1084.90 1128.9 L1085.35 1131.4 L1085.80 1131.4 L1086.25 1124.1 L1086.70 1129.3 L1087.15 1124.1 L1087.60 1130.9 L1088.05 1128.6 L1088.50 1128.9 L1088.95 1124.8 L1089.40 1121.0 L1089.85 1123.3 L1090.30 1125.0 L1090.75 1121.3 L1091.20 1122.6 L1091.65 1130.6 L1092.10 1121.7 L1092.55 1127.1 L1093.00 1120.1 L1093.45 1126.2 L1093.90 1127.9 L1094.35 1125.9 L1094.80 1127.0 L1095.25 1127.6 L1095.70 1117.8 L1096.15 1122.5 L1096.60 1123.1 L1097.05 1122.8 L1097.50 1126.3 L1097.95 1122.6 L1098.40 1125.4 L1098.85 1124.8 L1099.30 1121.1 L1099.75 1121.6 L1100.20 1117.5 L1100.65 1120.9 L1101.10 1120.9 L1101.55 1120.1 L1102.00 1119.2 L1102.45 1123.4 L1102.90 1120.3 L1103.35 1126.7 L1103.80 1123.3 L1104.25 1121.1 L1104.70 1116.6 L1105.15 1120.3 L1105.60 1117.5 L1106.05 1116.7 L1106.50 1112.9 L1106.95 1117.4 L1107.40 1116.1 L1107.85 1115.0 L1108.30 1115.8 L1108.75 1118.3 L1109.20 1115.7 L1109.65 1117.1 L1110.10 1121.9 L1110.55 1115.1 L1111.00 1122.1 L1111.45 1109.9 L1111.90 1115.4 L1112.35 1114.9 L1112.80 1115.1 L1113.25 1113.3 L1113.70 1107.6 L1114.15 1117.0 L1114.60 1118.3 L1115.05 1116.6 L1115.50 1109.1 L1115.95 1118.5 L1116.40 1112.2 L1116.85 1113.1 L1117.30 1116.3 L1117.75 1115.3 L1118.20 1112.1 L1118.65 1109.7 L1119.10 1116.6 L1119.55 1115.1 L1120.00 1109.3 L1120.45 1104.9 L1120.90 1106.5 L1121.35 1101.8 L1121.80 1111.5 L1122.25 1108.5 L1122.70 1106.4 L1123.15 1108.7 L1123.60 1102.8 L1124.05 1107.4 L1124.50 1103.7 L1124.95 1098.9 L1125.40 1099.6 L1125.85 1102.2 L1126.30 1097.4 L1126.75 1101.3 L1127.20 1098.1 L1127.65 1103.6 L1128.10 1098.5 L1128.55 1106.3 L1129.00 1106.0 L1129.45 1106.3 L1129.90 1109.0 L1130.35 1103.1 L1130.80 1101.4 L1131.25 1101.3 L1131.70 1097.4 L1132.15 1093.5 L1132.60 1095.6 L1133.05 1095.9 L1133.50 1100.5 L1133.95 1098.5 L1134.40 1099.7 L1134.85 1101.3 L1135.30 1098.5 L1135.75 1102.1 L1136.20 1094.8 L1136.65 1091.2 L1137.10 1096.7 L1137.55 1090.9 L1138.00 1092.4 L1138.45 1096.0 L1138.90 1094.1 L1139.35 1095.3 L1139.80 1090.9 L1140.25 1091.2 L1140.70 1094.0 L1141.15 1091.4 L1141.60 1092.5 L1142.05 1094.1 L1142.50 1097.8 L1142.95 1096.4 L1143.40 1091.7 L1143.85 1090.2 L1144.30 1087.1 L1144.75 1092.0 L1145.20 1089.6 L1145.65 1092.9 L1146.10 1087.8 L1146.55 1095.6 L1147.00 1091.5 L1147.45 1091.0 L1147.90 1089.6 L1148.35 1086.4 L1148.80 1085.6 L1149.25 1089.0 L1149.70 1083.5 L1150.15 1091.0 L1150.60 1087.7 L1151.05 1083.2 L1151.50 1090.0 L1151.95 1088.8 L1152.40 1090.2 L1152.85 1088.0 L1153.30 1085.8 L1153.75 1083.5 L1154.20 1080.1 L1154.65 1085.3 L1155.10 1084.8 L1155.55 1081.7 L1156.00 1083.9 L1156.45 1078.8 L1156.90 1083.7 L1157.35 1080.0 L1157.80 1079.0 L1158.25 1075.0 L1158.70 1079.3 L1159.15 1077.5 L1159.60 1075.8 L1160.05 1078.9 L1160.50 1076.9 L1160.95 1080.2 L1161.40 1072.4 L1161.85 1073.1 L1162.30 1082.0 L1162.75 1074.3 L1163.20 1076.9 L1163.65 1074.2 L1164.10 1075.8 L1164.55 1082.6 L1165.00 1068.4 L1165.45 1074.8 L1165.90 1072.5 L1166.35 1073.0 L1166.80 1071.5 L1167.25 1072.0 L1167.70 1079.1 L1168.15 1076.4 L1168.60 1071.3 L1169.05 1074.2 L1169.50 1067.5 L1169.95 1076.9 L1170.40 1066.8 L1170.85 1060.7 L1171.30 1069.7 L1171.75 1069.9 L1172.20 1069.2 L1172.65 1068.0 L1173.10 1065.1 L1173.55 1065.2 L1174.00 1058.3 L1174.45 1066.3 L1174.90 1066.8 L1175.35 1063.3 L1175.80 1065.2 L1176.25 1061.1 L1176.70 1064.2 L1177.15 1060.3 L1177.60 1059.6 L1178.05 1064.0 L1178.50 1066.4 L1178.95 1061.8 L1179.40 1069.0 L1179.85 1063.8 L1180.30 1054.3 L1180.75 1059.1 L1181.20 1064.1 L1181.65 1061.5 L1182.10 1064.9 L1182.55 1057.6 L1183.00 1065.9 L1183.45 1058.5 L1183.90 1062.6 L1184.35 1067.0 L1184.80 1060.0 L1185.25 1058.1 L1185.70 1060.4 L1186.15 1055.6 L1186.60 1055.2 L1187.05 1060.6 L1187.50 1052.5 L1187.95 1052.3 L1188.40 1060.1 L1188.85 1051.0 L1189.30 1055.7 L1189.75 1057.4 L1190.20 1053.5 L1190.65 1049.6 L1191.10 1054.2 L1191.55 1048.2 L1192.00 1057.2 L1192.45 1057.7 L1192.90 1048.4 L1193.35 1052.4 L1193.80 1047.8 L1194.25 1050.1 L1194.70 1048.0 L1195.15 1046.2 L1195.60 1050.9 L1196.05 1044.9 L1196.50 1050.6 L1196.95 1049.2 L1197.40 1047.4 L1197.85 1051.8 L1198.30 1048.6 L1198.75 1046.8 L1199.20 1047.1 L1199.65 1047.2 L1200.10 1050.8 L1200.55 1047.6 L1201.00 1040.7 L1201.45 1040.8 L1201.90 1047.5 L1202.35 1044.4 L1202.80 1043.8 L1203.25 1037.2 L1203.70 1037.4 L1204.15 1044.7 L1204.60 1038.1 L1205.05 1045.4 L1205.50 1041.9 L1205.95 1045.4 L1206.40 1043.6 L1206.85 1040.9 L1207.30 1043.7 L1207.75 1041.0 L1208.20 1036.6 L1208.65 1040.5 L1209.10 1039.7 L1209.55 1037.2 L1210.00 1039.0 L1210.45 1037.7 L1210.90 1040.6 L1211.35 1038.6 L1211.80 1034.5 L1212.25 1037.8 L1212.70 1042.7 L1213.15 1040.0 L1213.60 1041.5 L1214.05 1036.7 L1214.50 1035.6 L1214.95 1033.7 L1215.40 1037.2 L1215.85 1039.4 L1216.30 1038.4 L1216.75 1037.7 L1217.20 1033.2 L1217.65 1033.7 L1218.10 1029.7 L1218.55 1033.4 L1219.00 1034.8 L1219.45 1033.2 L1219.90 1037.5 L1220.35 1030.1 L1220.80 1037.6 L1221.25 1032.0 L1221.70 1032.4 L1222.15 1034.6 L1222.60 1034.2 L1223.05 1029.7 L1223.50 1036.9 L1223.95 1038.7 L1224.40 1037.6 L1224.85 1036.7 L1225.30 1032.2 L1225.75 1035.2 L1226.20 1027.5 L1226.65 1025.6 L1227.10 1028.1 L1227.55 1027.5 L1228.00 1026.0 L1228.45 1035.5 L1228.90 1027.8 L1229.35 1024.9 L1229.80 1027.9 L1230.25 1031.9 L1230.70 1028.6 L1231.15 1028.2 L1231.60 1028.3 L1232.05 1030.2 L1232.50 1029.6 L1232.95 1029.0 L1233.40 1028.4 L1233.85 1024.6 L1234.30 1032.7 L1234.75 1029.3 L1235.20 1031.9 L1235.65 1032.0 L1236.10 1033.3 L1236.55 1027.8 L1237.00 1031.7 L1237.45 1031.0 L1237.90 1027.5 L1238.35 1027.0 L1238.80 1026.9 L1239.25 1022.8 L1239.70 1024.2 L1240.15 1022.5 L1240.60 1029.5 L1241.05 1024.1 L1241.50 1024.2 L1241.95 1028.8 L1242.40 1030.9 L1242.85 1028.9 L1243.30 1027.7 L1243.75 1032.1 L1244.20 1033.3 L1244.65 1025.3 L1245.10 1032.0 L1245.55 1023.4 L1246.00 1029.8 L1246.45 1025.8 L1246.90 1025.7 L1247.35 1029.2 L1247.80 1032.5 L1248.25 1035.5 L1248.70 1033.7 L1249.15 1030.9 L1249.60 1024.1 L1250.05 1026.1 L1250.50 1027.7 L1250.95 1025.6 L1251.40 1029.1 L1251.85 1026.8 L1252.30 1032.9 L1252.75 1027.3 L1253.20 1024.5 L1253.65 1027.3 L1254.10 1027.4 L1254.55 1032.0 L1255.00 1033.9 L1255.45 1032.6 L1255.90 1032.5 L1256.35 1027.9 L1256.80 1027.2 L1257.25 1028.6 L1257.70 1031.4 L1258.15 1030.5 L1258.60 1032.6 L1259.05 1034.8 L1259.50 1031.6 L1259.95 1035.8 L1260.40 1028.1 L1260.85 1030.6 L1261.30 1026.7 L1261.75 1028.0 L1262.20 1024.1 L1262.65 1023.0 L1263.10 1024.6 L1263.55 1022.8 L1264.00 1023.4 L1264.45 1030.1 L1264.90 1027.1 L1265.35 1032.5 L1265.80 1036.1 L1266.25 1027.5 L1266.70 1031.6 L1267.15 1030.2 L1267.60 1026.4 L1268.05 1032.6 L1268.50 1035.7 L1268.95 1026.4 L1269.40 1027.9 L1269.85 1027.4 L1270.30 1023.5 L1270.75 1028.5 L1271.20 1027.3 L1271.65 1030.1 L1272.10 1029.2 L1272.55 1025.5 L1273.00 1029.9 L1273.45 1031.4 L1273.90 1028.8 L1274.35 1030.4 L1274.80 1029.4 L1275.25 1020.6 L1275.70 1028.3 L1276.15 1021.0 L1276.60 1023.5 L1277.05 1027.1 L1277.50 1023.5 L1277.95 1022.8 L1278.40 1027.2 L1278.85 1020.7 L1279.30 1027.3 L1279.75 1029.2 L1280.20 1028.6 L1280.65 1022.6 L1281.10 1022.7 L1281.55 1028.3 L1282.00 1032.5 L1282.45 1023.8 L1282.90 1021.0 L1283.35 1023.0 L1283.80 1026.9 L1284.25 1029.6 L1284.70 1026.8 L1285.15 1026.2 L1285.60 1027.7 L1286.05 1026.1 L1286.50 1024.8 L1286.95 1020.8 L1287.40 1026.2 L1287.85 1024.0 L1288.30 1025.1 L1288.75 1024.9 L1289.20 1023.0 L1289.65 1026.8 L1290.10 1028.0 L1290.55 1025.9 L1291.00 1020.6 L1291.45 1021.1 L1291.90 1020.8 L1292.35 1018.5 L1292.80 1021.5 L1293.25 1016.0 L1293.70 1019.9 L1294.15 1024.9 L1294.60 1023.8 L1295.05 1020.8 L1295.50 1022.4 L1295.95 1029.3 L1296.40 1027.1 L1296.85 1021.0 L1297.30 1022.6 L1297.75 1019.0 L1298.20 1018.0 L1298.65 1016.4 L1299.10 1022.3 L1299.55 1026.9 L1300.00 1023.2 L1300.45 1017.1 L1300.90 1022.7 L1301.35 1017.8 L1301.80 1023.8 L1302.25 1027.3 L1302.70 1028.4 L1303.15 1022.7 L1303.60 1021.5 L1304.05 1019.0 L1304.50 1018.5 L1304.95 1023.7 L1305.40 1016.4 L1305.85 1015.6 L1306.30 1026.7 L1306.75 1029.5 L1307.20 1018.2 L1307.65 1023.8 L1308.10 1021.7 L1308.55 1016.7 L1309.00 1016.8 L1309.45 1021.7 L1309.90 1021.9 L1310.35 1025.3 L1310.80 1020.6 L1311.25 1025.4 L1311.70 1019.6 L1312.15 1025.5 L1312.60 1022.7 L1313.05 1022.9 L1313.50 1019.3 L1313.95 1020.5 L1314.40 1021.8 L1314.85 1025.4 L1315.30 1019.7 L1315.75 1019.1 L1316.20 1020.9 L1316.65 1023.4 L1317.10 1023.0 L1317.55 1023.8 L1318.00 1020.4 L1318.45 1022.6 L1318.90 1021.5 L1319.35 1028.3 L1319.80 1026.0 L1320.25 1028.9 L1320.70 1023.2 L1321.15 1026.0 L1321.60 1026.4 L1322.05 1021.6 L1322.50 1023.0 L1322.95 1023.7 L1323.40 1026.0 L1323.85 1026.3 L1324.30 1021.2 L1324.75 1026.2 L1325.20 1026.0 L1325.65 1027.0 L1326.10 1024.3 L1326.55 1027.4 L1327.00 1032.5 L1327.45 1033.2 L1327.90 1029.2 L1328.35 1034.7 L1328.80 1027.3 L1329.25 1024.5 L1329.70 1030.5 L1330.15 1030.3 L1330.60 1038.2 L1331.05 1032.8 L1331.50 1033.5 L1331.95 1035.0 L1332.40 1033.4 L1332.85 1032.1 L1333.30 1034.2 L1333.75 1035.0 L1334.20 1035.8 L1334.65 1036.5 L1335.10 1032.8 L1335.55 1040.5 L1336.00 1037.0 L1336.45 1038.9 L1336.90 1038.2 L1337.35 1040.2 L1337.80 1043.7 L1338.25 1044.6 L1338.70 1041.9 L1339.15 1041.5 L1339.60 1039.6 L1340.05 1040.4 L1340.50 1042.8 L1340.95 1042.6 L1341.40 1041.1 L1341.85 1044.6 L1342.30 1041.6 L1342.75 1050.9 L1343.20 1046.1 L1343.65 1043.9 L1344.10 1047.2 L1344.55 1044.1 L1345.00 1046.3 L1345.45 1052.3 L1345.90 1052.3 L1346.35 1046.0 L1346.80 1047.1 L1347.25 1049.8 L1347.70 1058.3 L1348.15 1052.0 L1348.60 1052.6 L1349.05 1050.4 L1349.50 1056.3 L1349.95 1055.7 L1350.40 1048.4 L1350.85 1050.8 L1351.30 1047.5 L1351.75 1049.0 L1352.20 1050.3 L1352.65 1050.1 L1353.10 1053.4 L1353.55 1058.3 L1354.00 1058.9 L1354.45 1055.4 L1354.90 1056.5 L1355.35 1052.0 L1355.80 1062.5 L1356.25 1067.0 L1356.70 1060.9 L1357.15 1062.4 L1357.60 1061.2 L1358.05 1053.6 L1358.50 1064.8 L1358.95 1065.2 L1359.40 1061.1 L1359.85 1066.3 L1360.30 1072.5 L1360.75 1072.4 L1361.20 1066.9 L1361.65 1067.6 L1362.10 1065.5 L1362.55 1066.6 L1363.00 1065.8 L1363.45 1069.7 L1363.90 1070.7 L1364.35 1067.2 L1364.80 1072.7 L1365.25 1072.2 L1365.70 1069.4 L1366.15 1073.4 L1366.60 1077.8 L1367.05 1066.6 L1367.50 1072.2 L1367.95 1074.3 L1368.40 1072.4 L1368.85 1071.8 L1369.30 1081.4 L1369.75 1075.0 L1370.20 1077.4 L1370.65 1076.9 L1371.10 1083.4 L1371.55 1074.6 L1372.00 1078.1 L1372.45 1079.2 L1372.90 1081.3 L1373.35 1080.8 L1373.80 1082.0 L1374.25 1078.1 L1374.70 1076.3 L1375.15 1079.0 L1375.60 1077.5 L1376.05 1079.3 L1376.50 1080.5 L1376.95 1083.7 L1377.40 1086.3 L1377.85 1082.0 L1378.30 1085.0 L1378.75 1088.1 L1379.20 1088.9 L1379.65 1087.9 L1380.10 1090.0 L1380.55 1087.5 L1381.00 1083.5 L1381.45 1092.8 L1381.90 1085.8 L1382.35 1095.0 L1382.80 1092.0 L1383.25 1093.1 L1383.70 1088.2 L1384.15 1092.7 L1384.60 1090.7 L1385.05 1088.5 L1385.50 1092.9 L1385.95 1093.9 L1386.40 1095.6 L1386.85 1089.0 L1387.30 1090.5 L1387.75 1097.1 L1388.20 1094.5 L1388.65 1094.6 L1389.10 1090.1 L1389.55 1092.2 L1390.00 1095.3 L1390.45 1091.2 L1390.90 1094.6 L1391.35 1097.9 L1391.80 1101.4 L1392.25 1096.5 L1392.70 1100.2 L1393.15 1096.5 L1393.60 1096.2 L1394.05 1101.9 L1394.50 1096.0 L1394.95 1098.0 L1395.40 1095.2 L1395.85 1098.4 L1396.30 1093.9 L1396.75 1094.0 L1397.20 1094.9 L1397.65 1099.8 L1398.10 1105.5 L1398.55 1105.5 L1399.00 1103.6 L1399.45 1102.5 L1399.90 1106.2 L1400.35 1103.2 L1400.80 1107.4 L1401.25 1109.3 L1401.70 1107.4 L1402.15 1105.4 L1402.60 1104.1 L1403.05 1101.8 L1403.50 1103.8 L1403.95 1101.4 L1404.40 1102.5 L1404.85 1109.3 L1405.30 1104.2 L1405.75 1099.3 L1406.20 1108.3 L1406.65 1109.1 L1407.10 1107.4 L1407.55 1103.4 L1408.00 1112.2 L1408.45 1109.4 L1408.90 1109.6 L1409.35 1106.0 L1409.80 1108.8 L1410.25 1107.7 L1410.70 1108.6 L1411.15 1106.5 L1411.60 1108.2 L1412.05 1109.5 L1412.50 1111.0 L1412.95 1113.7 L1413.40 1112.4 L1413.85 1104.6 L1414.30 1111.3 L1414.75 1102.6 L1415.20 1108.5 L1415.65 1108.6 L1416.10 1111.4 L1416.55 1111.6 L1417.00 1109.9 L1417.45 1117.5 L1417.90 1105.8 L1418.35 1109.7 L1418.80 1115.2 L1419.25 1110.7 L1419.70 1110.6 L1420.15 1108.5 L1420.60 1108.1 L1421.05 1113.4 L1421.50 1112.1 L1421.95 1114.5 L1422.40 1116.6 L1422.85 1110.2 L1423.30 1112.8 L1423.75 1114.5 L1424.20 1117.3 L1424.65 1118.3 L1425.10 1113.0 L1425.55 1115.0 L1426.00 1114.8 L1426.45 1114.4 L1426.90 1118.7 L1427.35 1113.3 L1427.80 1117.4 L1428.25 1111.9 L1428.70 1119.2 L1429.15 1120.1 L1429.60 1122.1 L1430.05 1119.0 L1430.50 1120.7 L1430.95 1120.7 L1431.40 1124.5 L1431.85 1131.6 L1432.30 1117.7 L1432.75 1115.6 L1433.20 1120.9 L1433.65 1120.7 L1434.10 1129.8 L1434.55 1124.4 L1435.00 1133.3 L1435.45 1127.1 L1435.90 1123.4 L1436.35 1121.2 L1436.80 1124.4 L1437.25 1124.5 L1437.70 1127.5 L1438.15 1124.0 L1438.60 1137.7 L1439.05 1132.3 L1439.50 1128.6 L1439.95 1126.8 L1440.40 1135.4 L1440.85 1125.9 L1441.30 1131.2 L1441.75 1134.1 L1442.20 1127.2 L1442.65 1130.7 L1443.10 1126.7 L1443.55 1131.5 L1444.00 1132.5 L1444.45 1130.6 L1444.90 1130.3 L1445.35 1126.1 L1445.80 1136.2 L1446.25 1133.1 L1446.70 1130.4 L1447.15 1132.6 L1447.60 1128.1 L1448.05 1124.8 L1448.50 1131.9 L1448.95 1127.5 L1449.40 1129.8 L1449.85 1133.7 L1450.30 1127.0 L1450.75 1131.6 L1451.20 1131.1 L1451.65 1129.6 L1452.10 1130.5 L1452.55 1134.4 L1453.00 1134.9 L1453.45 1136.9 L1453.90 1132.8 L1454.35 1137.0 L1454.80 1132.4 L1455.25 1133.0 L1455.70 1137.9 L1456.15 1133.5 L1456.60 1134.5 L1457.05 1134.0 L1457.50 1136.6 L1457.95 1139.5 L1458.40 1136.4 L1458.85 1138.7 L1459.30 1132.0 L1459.75 1136.2 L1460.20 1134.7 L1460.65 1136.8 L1461.10 1135.5 L1461.55 1137.9 L1462.00 1140.7 L1462.45 1136.6 L1462.90 1142.5 L1463.35 1139.3 L1463.80 1142.2 L1464.25 1138.0 L1464.70 1136.6 L1465.15 1142.9 L1465.60 1142.7 L1466.05 1140.3 L1466.50 1142.2 L1466.95 1140.1 L1467.40 1141.9 L1467.85 1141.6 L1468.30 1139.9 L1468.75 1147.5 L1469.20 1142.7 L1469.65 1152.9 L1470.10 1146.7 L1470.55 1145.3 L1471.00 1148.4 L1471.45 1150.3 L1471.90 1151.6 L1472.35 1153.3 L1472.80 1150.2 L1473.25 1146.2 L1473.70 1150.1 L1474.15 1154.4 L1474.60 1157.0 L1475.05 1148.4 L1475.50 1154.1 L1475.95 1156.7 L1476.40 1149.0 L1476.85 1158.6 L1477.30 1152.2 L1477.75 1154.9 L1478.20 1153.9 L1478.65 1159.9 L1479.10 1156.6 L1479.55 1153.9 L1480.00 1153.2 L1480.45 1150.0 L1480.90 1154.8 L1481.35 1154.3 L1481.80 1156.1 L1482.25 1151.3 L1482.70 1161.3 L1483.15 1161.6 L1483.60 1164.9 L1484.05 1159.6 L1484.50 1159.7 L1484.95 1154.8 L1485.40 1159.5 L1485.85 1155.3 L1486.30 1160.0 L1486.75 1156.4 L1487.20 1156.9 L1487.65 1158.1 L1488.10 1154.1 L1488.55 1162.1 L1489.00 1154.0 L1489.45 1158.2 L1489.90 1157.8 L1490.35 1152.9 L1490.80 1155.0 L1491.25 1156.9 L1491.70 1158.5 L1492.15 1158.6 L1492.60 1157.8 L1493.05 1155.0 L1493.50 1158.1 L1493.95 1164.2 L1494.40 1155.0 L1494.85 1162.4 L1495.30 1155.8 L1495.75 1159.0 L1496.20 1165.4 L1496.65 1163.5 L1497.10 1165.3 L1497.55 1161.9 L1498.00 1157.6 L1498.45 1158.8 L1498.90 1156.6 L1499.35 1161.1 L1499.80 1160.3 L1500.25 1162.6 L1500.70 1157.0 L1501.15 1158.0 L1501.60 1157.1 L1502.05 1157.1 L1502.50 1158.3 L1502.95 1163.2 L1503.40 1160.6 L1503.85 1163.2 L1504.30 1159.7 L1504.75 1153.2 L1505.20 1153.9 L1505.65 1157.1 L1506.10 1160.7 L1506.55 1157.1 L1507.00 1152.9 L1507.45 1157.6 L1507.90 1156.5 L1508.35 1159.0 L1508.80 1159.9 L1509.25 1158.4 L1509.70 1155.9 L1510.15 1155.2 L1510.60 1157.6 L1511.05 1158.8 L1511.50 1159.2 L1511.95 1156.0 L1512.40 1154.7 L1512.85 1158.2 L1513.30 1159.6 L1513.75 1158.6 L1514.20 1155.2 L1514.65 1157.6 L1515.10 1165.1 L1515.55 1156.1 L1516.00 1159.4 L1516.45 1164.3 L1516.90 1160.1 L1517.35 1161.5 L1517.80 1165.2 L1518.25 1163.3 L1518.70 1153.6 L1519.15 1158.0 L1519.60 1152.8 L1520.05 1147.7 L1520.50 1156.4 L1520.95 1153.4 L1521.40 1156.4 L1521.85 1154.5 L1522.30 1159.3 L1522.75 1159.7 L1523.20 1159.7 L1523.65 1164.8 L1524.10 1160.1 L1524.55 1158.0 L1525.00 1161.3 L1525.45 1161.6 L1525.90 1163.5 L1526.35 1154.4 L1526.80 1163.2 L1527.25 1166.1 L1527.70 1161.6 L1528.15 1155.3 L1528.60 1161.4 L1529.05 1155.9 L1529.50 1161.3 L1529.95 1160.0 L1530.40 1158.0 L1530.85 1154.5 L1531.30 1159.4 L1531.75 1160.6 L1532.20 1157.9 L1532.65 1155.4 L1533.10 1161.9 L1533.55 1157.5 L1534.00 1164.4 L1534.45 1159.4 L1534.90 1162.7 L1535.35 1159.5 L1535.80 1160.0 L1536.25 1158.8 L1536.70 1150.9 L1537.15 1156.4 L1537.60 1158.2 L1538.05 1159.2 L1538.50 1158.9 L1538.95 1160.6 L1539.40 1152.5 L1539.85 1157.5 L1540.30 1155.9 L1540.75 1156.1 L1541.20 1154.5 L1541.65 1156.8 L1542.10 1156.1 L1542.55 1160.9 L1543.00 1165.2 L1543.45 1163.6 L1543.90 1165.4 L1544.35 1159.7 L1544.80 1162.1 L1545.25 1155.7 L1545.70 1154.1 L1546.15 1156.8 L1546.60 1153.6 L1547.05 1156.8 L1547.50 1157.0 L1547.95 1157.4 L1548.40 1158.0 L1548.85 1159.9 L1549.30 1159.2 L1549.75 1157.8 L1550.20 1161.0 L1550.65 1157.5 L1551.10 1156.7 L1551.55 1158.0 L1552.00 1157.5 L1552.45 1156.2 L1552.90 1156.9 L1553.35 1161.7 L1553.80 1153.9 L1554.25 1154.3 L1554.70 1155.7 L1555.15 1155.8 L1555.60 1157.8 L1556.05 1163.2 L1556.50 1164.1 L1556.95 1157.6 L1557.40 1158.7 L1557.85 1161.8 L1558.30 1160.7 L1558.75 1159.8 L1559.20 1161.0 L1559.65 1158.1 L1560.10 1154.9 L1560.55 1157.1 L1561.00 1155.8 L1561.45 1158.2 L1561.90 1162.5 L1562.35 1157.6 L1562.80 1161.4 L1563.25 1155.9 L1563.70 1154.7 L1564.15 1159.9 L1564.60 1161.1 L1565.05 1162.6 L1565.50 1162.5 L1565.95 1154.6 L1566.40 1155.4 L1566.85 1152.5 L1567.30 1153.0 L1567.75 1157.2 L1568.20 1155.7 L1568.65 1156.3 L1569.10 1157.5 L1569.55 1155.9 L1570.00 1160.8 L1570.45 1154.6 L1570.90 1159.5 L1571.35 1156.7 L1571.80 1156.6 L1572.25 1165.7 L1572.70 1159.0 L1573.15 1161.1 L1573.60 1156.0 L1574.05 1155.3 L1574.50 1160.9 L1574.95 1158.8 L1575.40 1157.9 L1575.85 1158.8 L1576.30 1158.9 L1576.75 1159.2 L1577.20 1158.4 L1577.65 1160.1 L1578.10 1160.2 L1578.55 1160.3 L1579.00 1159.9 L1579.45 1147.5 L1579.90 1152.8 L1580.35 1150.5 L1580.80 1151.7" stroke="#0000ff" stroke-width="3.2"/>
</g>
<g stroke="#0e0e0e" stroke-width="5" fill="none" stroke-linecap="square">
<path d="M457.4 1212 V122 H842.2 V1212"/>
<path d="M1031.7 1212 V920.4 H1523 V1212"/>
</g>
<path d="M668 122 V1212" stroke="#0e0e0e" stroke-width="6.2" fill="none"/>
<g stroke="#000" fill="none" stroke-linecap="round" stroke-linejoin="round">
<path d="M121.6 36 V1212.1 H1581.5" stroke-width="4.8"/>
<path d="M233.1 1212 V1236 M457.8 1212 V1236 M682.5 1212 V1236 M907.2 1212 V1236 M1131.9 1212 V1236 M1356.6 1212 V1236 M1581.5 1212 V1236" stroke-width="4.5"/>
</g>
<g font-family="'Liberation Sans', Arial, sans-serif" font-size="50" fill="#000" text-anchor="middle">
<text transform="translate(233.1 1289.6) scale(1 1.05)">500</text>
<text transform="translate(457.8 1289.6) scale(1 1.05)">1000</text>
<text transform="translate(682.5 1289.6) scale(1 1.05)">1500</text>
<text transform="translate(907.2 1289.6) scale(1 1.05)">2000</text>
<text transform="translate(1131.9 1289.6) scale(1 1.05)">2500</text>
<text transform="translate(1356.6 1289.6) scale(1 1.05)">3000</text>
<text transform="translate(1581.5 1289.6) scale(1 1.05)">3500</text>
</g>
<text transform="translate(574 1392.5) scale(1 1.05)" font-family="'Liberation Sans', Arial, sans-serif" font-size="61" fill="#000">Wavenumbers [cm<tspan dy="-26" font-size="36">-1</tspan><tspan dy="26">]</tspan></text>
<text transform="translate(81.3,834) rotate(-90) scale(1 1.04)" font-family="'Liberation Sans', Arial, sans-serif" font-size="61" fill="#000">Intensity [arb.un.]</text>
<g font-family="'Liberation Sans', Arial, sans-serif" font-size="61" fill="#000">
<text transform="translate(1089 185.3) scale(1 1.06)">BC high</text>
<text transform="translate(1088.7 256) scale(1 1.06)">BC medium</text>
<text transform="translate(1089.6 337.5) scale(1 1.06)">BC low</text>
</g>
<g stroke-width="3.4" stroke-linecap="butt">
<line x1="935" y1="159.2" x2="1074.3" y2="159.2" stroke="#ff0000"/>
<line x1="935" y1="234.9" x2="1074.3" y2="234.9" stroke="#0000ff"/>
<line x1="930.5" y1="319.9" x2="1069.2" y2="319.9" stroke="#00ff00"/>
</g>
<g font-family="'Liberation Serif', 'Times New Roman', serif" fill="#000">
<text x="463" y="190" font-size="72">I<tspan font-size="48" dy="17">D</tspan></text>
<text x="777" y="190" font-size="72">I<tspan font-size="48" dy="17">G</tspan></text>
<text x="1124" y="876.5" font-size="72">2D</text>
<text x="1231" y="876.5" font-size="72" textLength="195" lengthAdjust="spacingAndGlyphs">region</text>
</g>
</svg>
</body></html>
